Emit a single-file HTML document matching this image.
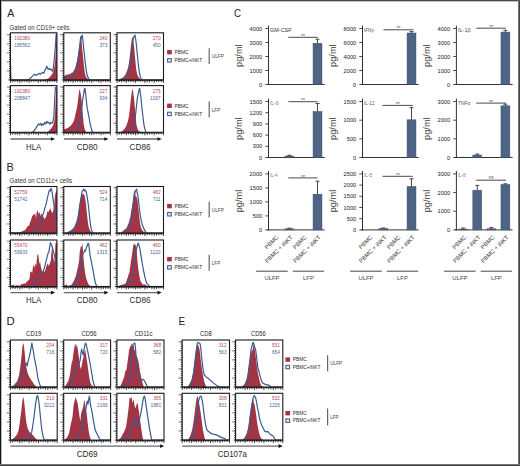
<!DOCTYPE html>
<html><head><meta charset="utf-8"><style>
html,body{margin:0;padding:0;background:#fff;}
svg{display:block;font-family:"Liberation Sans", sans-serif;}
</style></head><body>
<svg width="520" height="466" viewBox="0 0 520 466">
<rect width="520" height="466" fill="#fff"/>
<text x="7.30" y="17.20" font-size="11.5" fill="#222" textLength="7.1" lengthAdjust="spacingAndGlyphs">A</text>
<text x="6.50" y="171.30" font-size="11.4" fill="#222" textLength="7.2" lengthAdjust="spacingAndGlyphs">B</text>
<text x="234.10" y="17.40" font-size="11.4" fill="#222" textLength="7.0" lengthAdjust="spacingAndGlyphs">C</text>
<text x="6.50" y="325.10" font-size="11.4" fill="#222" textLength="8.2" lengthAdjust="spacingAndGlyphs">D</text>
<text x="178.50" y="325.10" font-size="11.4" fill="#222" textLength="6.6" lengthAdjust="spacingAndGlyphs">E</text>
<text x="9.60" y="29.70" font-size="6.5" fill="#333" textLength="59.6" lengthAdjust="spacingAndGlyphs">Gated on CD19+ cells</text>
<text x="9.60" y="183.00" font-size="6.5" fill="#333" textLength="62.4" lengthAdjust="spacingAndGlyphs">Gated on CD11c+ cells</text>
<clipPath id="c7"><rect x="10.45" y="32.80" width="46.50" height="47.10"/></clipPath>
<path d="M44.29,80.90 L44.29,80.00 L48.33,78.39 L51.35,75.36 L52.86,72.84 L54.38,67.29 L55.39,58.21 L56.19,43.09 L56.60,34.01 L57.00,33.50 L57.00,80.90 Z" fill="#a33446" stroke="none" stroke-width="1" clip-path="url(#c7)"/>
<path d="M10.50,65.27 L10.81,77.38 L11.21,80.20 L27.15,80.20 L30.17,78.39 L33.20,75.36 L34.71,74.35 L36.73,75.36 L38.74,73.34 L40.26,74.35 L42.27,72.33 L43.79,73.34 L44.80,70.32 L45.80,68.80 L46.81,66.28 L47.52,68.30 L48.33,69.31 L49.33,68.30 L50.34,69.81 L51.35,69.31 L52.36,71.33 L53.17,69.31 L53.87,63.26 L54.88,53.17 L55.59,43.09 L56.19,34.01" fill="none" stroke="#3b5b8e" stroke-width="1.2" clip-path="url(#c7)" stroke-linejoin="round"/>
<line x1="8.45" y1="79.90" x2="10.45" y2="79.90" stroke="#000" stroke-width="0.9"/>
<line x1="9.05" y1="77.64" x2="10.45" y2="77.64" stroke="#000" stroke-width="0.9"/>
<line x1="9.05" y1="75.38" x2="10.45" y2="75.38" stroke="#000" stroke-width="0.9"/>
<line x1="9.05" y1="73.11" x2="10.45" y2="73.11" stroke="#000" stroke-width="0.9"/>
<line x1="8.45" y1="70.85" x2="10.45" y2="70.85" stroke="#000" stroke-width="0.9"/>
<rect x="6.65" y="70.05" width="1.80" height="1.60" fill="#b0b0b0"/>
<line x1="9.05" y1="68.59" x2="10.45" y2="68.59" stroke="#000" stroke-width="0.9"/>
<line x1="9.05" y1="66.33" x2="10.45" y2="66.33" stroke="#000" stroke-width="0.9"/>
<line x1="9.05" y1="64.06" x2="10.45" y2="64.06" stroke="#000" stroke-width="0.9"/>
<line x1="8.45" y1="61.80" x2="10.45" y2="61.80" stroke="#000" stroke-width="0.9"/>
<rect x="6.65" y="61.00" width="1.80" height="1.60" fill="#b0b0b0"/>
<line x1="9.05" y1="59.54" x2="10.45" y2="59.54" stroke="#000" stroke-width="0.9"/>
<line x1="9.05" y1="57.28" x2="10.45" y2="57.28" stroke="#000" stroke-width="0.9"/>
<line x1="9.05" y1="55.01" x2="10.45" y2="55.01" stroke="#000" stroke-width="0.9"/>
<line x1="8.45" y1="52.75" x2="10.45" y2="52.75" stroke="#000" stroke-width="0.9"/>
<rect x="6.65" y="51.95" width="1.80" height="1.60" fill="#b0b0b0"/>
<line x1="9.05" y1="50.49" x2="10.45" y2="50.49" stroke="#000" stroke-width="0.9"/>
<line x1="9.05" y1="48.23" x2="10.45" y2="48.23" stroke="#000" stroke-width="0.9"/>
<line x1="9.05" y1="45.96" x2="10.45" y2="45.96" stroke="#000" stroke-width="0.9"/>
<line x1="8.45" y1="43.70" x2="10.45" y2="43.70" stroke="#000" stroke-width="0.9"/>
<rect x="6.65" y="42.90" width="1.80" height="1.60" fill="#b0b0b0"/>
<line x1="9.05" y1="41.44" x2="10.45" y2="41.44" stroke="#000" stroke-width="0.9"/>
<line x1="9.05" y1="39.18" x2="10.45" y2="39.18" stroke="#000" stroke-width="0.9"/>
<line x1="9.05" y1="36.91" x2="10.45" y2="36.91" stroke="#000" stroke-width="0.9"/>
<line x1="8.45" y1="34.65" x2="10.45" y2="34.65" stroke="#000" stroke-width="0.9"/>
<rect x="6.65" y="33.85" width="1.80" height="1.60" fill="#b0b0b0"/>
<rect x="10.45" y="79.90" width="46.50" height="1.20" fill="#555"/>
<line x1="10.45" y1="79.90" x2="10.45" y2="82.90" stroke="#111" stroke-width="0.8"/>
<line x1="12.77" y1="79.90" x2="12.77" y2="82.38" stroke="#111" stroke-width="0.8"/>
<line x1="15.10" y1="79.90" x2="15.10" y2="81.85" stroke="#111" stroke-width="0.8"/>
<line x1="17.42" y1="79.90" x2="17.42" y2="82.29" stroke="#111" stroke-width="0.8"/>
<line x1="19.75" y1="79.90" x2="19.75" y2="82.90" stroke="#111" stroke-width="0.8"/>
<line x1="22.07" y1="79.90" x2="22.07" y2="82.45" stroke="#111" stroke-width="0.8"/>
<line x1="24.40" y1="79.90" x2="24.40" y2="81.81" stroke="#111" stroke-width="0.8"/>
<line x1="26.72" y1="79.90" x2="26.72" y2="82.27" stroke="#111" stroke-width="0.8"/>
<line x1="29.05" y1="79.90" x2="29.05" y2="82.90" stroke="#111" stroke-width="0.8"/>
<line x1="31.38" y1="79.90" x2="31.38" y2="81.83" stroke="#111" stroke-width="0.8"/>
<line x1="33.70" y1="79.90" x2="33.70" y2="81.66" stroke="#111" stroke-width="0.8"/>
<line x1="36.02" y1="79.90" x2="36.02" y2="81.85" stroke="#111" stroke-width="0.8"/>
<line x1="38.35" y1="79.90" x2="38.35" y2="82.90" stroke="#111" stroke-width="0.8"/>
<line x1="40.67" y1="79.90" x2="40.67" y2="82.25" stroke="#111" stroke-width="0.8"/>
<line x1="43.00" y1="79.90" x2="43.00" y2="81.65" stroke="#111" stroke-width="0.8"/>
<line x1="45.33" y1="79.90" x2="45.33" y2="82.16" stroke="#111" stroke-width="0.8"/>
<line x1="47.65" y1="79.90" x2="47.65" y2="82.90" stroke="#111" stroke-width="0.8"/>
<line x1="49.97" y1="79.90" x2="49.97" y2="81.85" stroke="#111" stroke-width="0.8"/>
<line x1="52.30" y1="79.90" x2="52.30" y2="81.67" stroke="#111" stroke-width="0.8"/>
<line x1="54.62" y1="79.90" x2="54.62" y2="81.93" stroke="#111" stroke-width="0.8"/>
<line x1="56.95" y1="79.90" x2="56.95" y2="82.90" stroke="#111" stroke-width="0.8"/>
<rect x="10.45" y="32.80" width="46.50" height="47.10" fill="none" stroke="#1a1a1a" stroke-width="1.1"/>
<text x="14.25" y="39.90" font-size="5.5" fill="#b4475a" textLength="15.899999999999999" lengthAdjust="spacingAndGlyphs">192380</text>
<text x="14.25" y="46.90" font-size="5.5" fill="#4b6797" textLength="15.899999999999999" lengthAdjust="spacingAndGlyphs">185562</text>
<clipPath id="c61"><rect x="63.80" y="32.80" width="46.50" height="47.10"/></clipPath>
<path d="M63.50,80.90 L63.50,76.37 L64.13,75.99 L64.77,75.64 L65.40,75.57 L66.03,74.86 L66.63,74.80 L67.24,74.73 L67.84,74.44 L68.45,74.37 L69.05,74.15 L69.72,73.88 L70.40,73.99 L71.07,73.34 L71.74,72.86 L72.41,72.77 L73.09,71.83 L73.76,70.73 L74.43,69.49 L75.10,68.30 L75.86,66.01 L76.62,63.26 L77.27,60.70 L77.93,55.19 L78.94,48.13 L79.64,41.07 L80.15,36.03 L80.95,37.03 L81.66,43.09 L82.67,53.17 L83.68,63.26 L84.68,72.33 L85.69,76.37 L86.45,77.48 L87.21,78.39 L88.21,79.60 L88.21,80.90 Z" fill="#a33446" stroke="none" stroke-width="1" clip-path="url(#c61)"/>
<path d="M63.50,77.38 L67.03,76.87 L70.06,76.37 L73.09,74.86 L75.10,71.33 L77.12,63.26 L78.63,55.19 L79.64,48.13 L80.65,41.07 L81.66,36.03 L82.16,35.02 L82.67,38.04 L83.17,43.09 L84.18,53.17 L85.19,62.25 L86.20,70.32 L87.21,75.36 L88.72,78.89 L90.23,80.20 L110.00,80.20" fill="none" stroke="#3b5b8e" stroke-width="1.2" clip-path="url(#c61)" stroke-linejoin="round"/>
<line x1="61.80" y1="79.90" x2="63.80" y2="79.90" stroke="#000" stroke-width="0.9"/>
<line x1="62.40" y1="77.64" x2="63.80" y2="77.64" stroke="#000" stroke-width="0.9"/>
<line x1="62.40" y1="75.38" x2="63.80" y2="75.38" stroke="#000" stroke-width="0.9"/>
<line x1="62.40" y1="73.11" x2="63.80" y2="73.11" stroke="#000" stroke-width="0.9"/>
<line x1="61.80" y1="70.85" x2="63.80" y2="70.85" stroke="#000" stroke-width="0.9"/>
<rect x="60.00" y="70.05" width="1.80" height="1.60" fill="#b0b0b0"/>
<line x1="62.40" y1="68.59" x2="63.80" y2="68.59" stroke="#000" stroke-width="0.9"/>
<line x1="62.40" y1="66.33" x2="63.80" y2="66.33" stroke="#000" stroke-width="0.9"/>
<line x1="62.40" y1="64.06" x2="63.80" y2="64.06" stroke="#000" stroke-width="0.9"/>
<line x1="61.80" y1="61.80" x2="63.80" y2="61.80" stroke="#000" stroke-width="0.9"/>
<rect x="60.00" y="61.00" width="1.80" height="1.60" fill="#b0b0b0"/>
<line x1="62.40" y1="59.54" x2="63.80" y2="59.54" stroke="#000" stroke-width="0.9"/>
<line x1="62.40" y1="57.28" x2="63.80" y2="57.28" stroke="#000" stroke-width="0.9"/>
<line x1="62.40" y1="55.01" x2="63.80" y2="55.01" stroke="#000" stroke-width="0.9"/>
<line x1="61.80" y1="52.75" x2="63.80" y2="52.75" stroke="#000" stroke-width="0.9"/>
<rect x="60.00" y="51.95" width="1.80" height="1.60" fill="#b0b0b0"/>
<line x1="62.40" y1="50.49" x2="63.80" y2="50.49" stroke="#000" stroke-width="0.9"/>
<line x1="62.40" y1="48.23" x2="63.80" y2="48.23" stroke="#000" stroke-width="0.9"/>
<line x1="62.40" y1="45.96" x2="63.80" y2="45.96" stroke="#000" stroke-width="0.9"/>
<line x1="61.80" y1="43.70" x2="63.80" y2="43.70" stroke="#000" stroke-width="0.9"/>
<rect x="60.00" y="42.90" width="1.80" height="1.60" fill="#b0b0b0"/>
<line x1="62.40" y1="41.44" x2="63.80" y2="41.44" stroke="#000" stroke-width="0.9"/>
<line x1="62.40" y1="39.18" x2="63.80" y2="39.18" stroke="#000" stroke-width="0.9"/>
<line x1="62.40" y1="36.91" x2="63.80" y2="36.91" stroke="#000" stroke-width="0.9"/>
<line x1="61.80" y1="34.65" x2="63.80" y2="34.65" stroke="#000" stroke-width="0.9"/>
<rect x="60.00" y="33.85" width="1.80" height="1.60" fill="#b0b0b0"/>
<rect x="63.80" y="79.90" width="46.50" height="1.20" fill="#555"/>
<line x1="63.80" y1="79.90" x2="63.80" y2="82.90" stroke="#111" stroke-width="0.8"/>
<line x1="66.12" y1="79.90" x2="66.12" y2="82.42" stroke="#111" stroke-width="0.8"/>
<line x1="68.45" y1="79.90" x2="68.45" y2="82.38" stroke="#111" stroke-width="0.8"/>
<line x1="70.77" y1="79.90" x2="70.77" y2="82.04" stroke="#111" stroke-width="0.8"/>
<line x1="73.10" y1="79.90" x2="73.10" y2="82.90" stroke="#111" stroke-width="0.8"/>
<line x1="75.42" y1="79.90" x2="75.42" y2="82.01" stroke="#111" stroke-width="0.8"/>
<line x1="77.75" y1="79.90" x2="77.75" y2="82.15" stroke="#111" stroke-width="0.8"/>
<line x1="80.07" y1="79.90" x2="80.07" y2="82.25" stroke="#111" stroke-width="0.8"/>
<line x1="82.40" y1="79.90" x2="82.40" y2="82.90" stroke="#111" stroke-width="0.8"/>
<line x1="84.72" y1="79.90" x2="84.72" y2="82.04" stroke="#111" stroke-width="0.8"/>
<line x1="87.05" y1="79.90" x2="87.05" y2="82.28" stroke="#111" stroke-width="0.8"/>
<line x1="89.38" y1="79.90" x2="89.38" y2="82.03" stroke="#111" stroke-width="0.8"/>
<line x1="91.70" y1="79.90" x2="91.70" y2="82.90" stroke="#111" stroke-width="0.8"/>
<line x1="94.03" y1="79.90" x2="94.03" y2="81.66" stroke="#111" stroke-width="0.8"/>
<line x1="96.35" y1="79.90" x2="96.35" y2="81.58" stroke="#111" stroke-width="0.8"/>
<line x1="98.67" y1="79.90" x2="98.67" y2="82.38" stroke="#111" stroke-width="0.8"/>
<line x1="101.00" y1="79.90" x2="101.00" y2="82.90" stroke="#111" stroke-width="0.8"/>
<line x1="103.32" y1="79.90" x2="103.32" y2="81.68" stroke="#111" stroke-width="0.8"/>
<line x1="105.65" y1="79.90" x2="105.65" y2="82.15" stroke="#111" stroke-width="0.8"/>
<line x1="107.97" y1="79.90" x2="107.97" y2="82.12" stroke="#111" stroke-width="0.8"/>
<line x1="110.30" y1="79.90" x2="110.30" y2="82.90" stroke="#111" stroke-width="0.8"/>
<rect x="63.80" y="32.80" width="46.50" height="47.10" fill="none" stroke="#1a1a1a" stroke-width="1.1"/>
<text x="107.40" y="39.90" font-size="5.5" fill="#b4475a" text-anchor="end" textLength="7.949999999999999" lengthAdjust="spacingAndGlyphs">240</text>
<text x="107.40" y="46.90" font-size="5.5" fill="#4b6797" text-anchor="end" textLength="7.949999999999999" lengthAdjust="spacingAndGlyphs">373</text>
<clipPath id="c115"><rect x="117.00" y="32.80" width="46.50" height="47.10"/></clipPath>
<path d="M120.03,80.90 L120.03,78.89 L120.64,78.59 L121.24,78.38 L121.85,78.07 L122.45,77.68 L123.06,77.38 L123.69,76.63 L124.32,75.87 L124.95,75.34 L125.58,74.35 L126.25,72.87 L126.93,71.04 L127.60,69.31 L128.36,65.98 L129.11,62.25 L130.12,53.17 L131.13,44.09 L131.94,38.04 L132.64,37.03 L133.35,41.07 L134.15,47.12 L135.16,58.21 L136.17,69.31 L137.18,74.35 L137.94,76.01 L138.69,77.38 L139.37,77.99 L140.04,78.62 L140.71,79.19 L140.71,80.90 Z" fill="#a33446" stroke="none" stroke-width="1" clip-path="url(#c115)"/>
<path d="M116.50,80.20 L121.04,80.20 L124.07,78.39 L127.09,75.36 L129.11,69.31 L130.62,59.22 L131.94,48.13 L133.15,39.05 L134.15,36.03 L134.96,35.02 L135.67,39.05 L136.17,43.09 L137.18,53.17 L138.19,63.26 L139.20,71.33 L140.21,76.37 L141.72,80.20 L163.00,80.20" fill="none" stroke="#3b5b8e" stroke-width="1.2" clip-path="url(#c115)" stroke-linejoin="round"/>
<line x1="115.00" y1="79.90" x2="117.00" y2="79.90" stroke="#000" stroke-width="0.9"/>
<line x1="115.60" y1="77.64" x2="117.00" y2="77.64" stroke="#000" stroke-width="0.9"/>
<line x1="115.60" y1="75.38" x2="117.00" y2="75.38" stroke="#000" stroke-width="0.9"/>
<line x1="115.60" y1="73.11" x2="117.00" y2="73.11" stroke="#000" stroke-width="0.9"/>
<line x1="115.00" y1="70.85" x2="117.00" y2="70.85" stroke="#000" stroke-width="0.9"/>
<rect x="113.20" y="70.05" width="1.80" height="1.60" fill="#b0b0b0"/>
<line x1="115.60" y1="68.59" x2="117.00" y2="68.59" stroke="#000" stroke-width="0.9"/>
<line x1="115.60" y1="66.33" x2="117.00" y2="66.33" stroke="#000" stroke-width="0.9"/>
<line x1="115.60" y1="64.06" x2="117.00" y2="64.06" stroke="#000" stroke-width="0.9"/>
<line x1="115.00" y1="61.80" x2="117.00" y2="61.80" stroke="#000" stroke-width="0.9"/>
<rect x="113.20" y="61.00" width="1.80" height="1.60" fill="#b0b0b0"/>
<line x1="115.60" y1="59.54" x2="117.00" y2="59.54" stroke="#000" stroke-width="0.9"/>
<line x1="115.60" y1="57.28" x2="117.00" y2="57.28" stroke="#000" stroke-width="0.9"/>
<line x1="115.60" y1="55.01" x2="117.00" y2="55.01" stroke="#000" stroke-width="0.9"/>
<line x1="115.00" y1="52.75" x2="117.00" y2="52.75" stroke="#000" stroke-width="0.9"/>
<rect x="113.20" y="51.95" width="1.80" height="1.60" fill="#b0b0b0"/>
<line x1="115.60" y1="50.49" x2="117.00" y2="50.49" stroke="#000" stroke-width="0.9"/>
<line x1="115.60" y1="48.23" x2="117.00" y2="48.23" stroke="#000" stroke-width="0.9"/>
<line x1="115.60" y1="45.96" x2="117.00" y2="45.96" stroke="#000" stroke-width="0.9"/>
<line x1="115.00" y1="43.70" x2="117.00" y2="43.70" stroke="#000" stroke-width="0.9"/>
<rect x="113.20" y="42.90" width="1.80" height="1.60" fill="#b0b0b0"/>
<line x1="115.60" y1="41.44" x2="117.00" y2="41.44" stroke="#000" stroke-width="0.9"/>
<line x1="115.60" y1="39.18" x2="117.00" y2="39.18" stroke="#000" stroke-width="0.9"/>
<line x1="115.60" y1="36.91" x2="117.00" y2="36.91" stroke="#000" stroke-width="0.9"/>
<line x1="115.00" y1="34.65" x2="117.00" y2="34.65" stroke="#000" stroke-width="0.9"/>
<rect x="113.20" y="33.85" width="1.80" height="1.60" fill="#b0b0b0"/>
<rect x="117.00" y="79.90" width="46.50" height="1.20" fill="#555"/>
<line x1="117.00" y1="79.90" x2="117.00" y2="82.90" stroke="#111" stroke-width="0.8"/>
<line x1="119.33" y1="79.90" x2="119.33" y2="82.08" stroke="#111" stroke-width="0.8"/>
<line x1="121.65" y1="79.90" x2="121.65" y2="82.20" stroke="#111" stroke-width="0.8"/>
<line x1="123.97" y1="79.90" x2="123.97" y2="81.96" stroke="#111" stroke-width="0.8"/>
<line x1="126.30" y1="79.90" x2="126.30" y2="82.90" stroke="#111" stroke-width="0.8"/>
<line x1="128.62" y1="79.90" x2="128.62" y2="81.92" stroke="#111" stroke-width="0.8"/>
<line x1="130.95" y1="79.90" x2="130.95" y2="82.15" stroke="#111" stroke-width="0.8"/>
<line x1="133.28" y1="79.90" x2="133.28" y2="82.33" stroke="#111" stroke-width="0.8"/>
<line x1="135.60" y1="79.90" x2="135.60" y2="82.90" stroke="#111" stroke-width="0.8"/>
<line x1="137.93" y1="79.90" x2="137.93" y2="81.72" stroke="#111" stroke-width="0.8"/>
<line x1="140.25" y1="79.90" x2="140.25" y2="81.67" stroke="#111" stroke-width="0.8"/>
<line x1="142.57" y1="79.90" x2="142.57" y2="81.55" stroke="#111" stroke-width="0.8"/>
<line x1="144.90" y1="79.90" x2="144.90" y2="82.90" stroke="#111" stroke-width="0.8"/>
<line x1="147.22" y1="79.90" x2="147.22" y2="82.30" stroke="#111" stroke-width="0.8"/>
<line x1="149.55" y1="79.90" x2="149.55" y2="82.46" stroke="#111" stroke-width="0.8"/>
<line x1="151.88" y1="79.90" x2="151.88" y2="81.53" stroke="#111" stroke-width="0.8"/>
<line x1="154.20" y1="79.90" x2="154.20" y2="82.90" stroke="#111" stroke-width="0.8"/>
<line x1="156.53" y1="79.90" x2="156.53" y2="81.99" stroke="#111" stroke-width="0.8"/>
<line x1="158.85" y1="79.90" x2="158.85" y2="82.01" stroke="#111" stroke-width="0.8"/>
<line x1="161.18" y1="79.90" x2="161.18" y2="82.22" stroke="#111" stroke-width="0.8"/>
<line x1="163.50" y1="79.90" x2="163.50" y2="82.90" stroke="#111" stroke-width="0.8"/>
<rect x="117.00" y="32.80" width="46.50" height="47.10" fill="none" stroke="#1a1a1a" stroke-width="1.1"/>
<text x="160.60" y="39.90" font-size="5.5" fill="#b4475a" text-anchor="end" textLength="7.949999999999999" lengthAdjust="spacingAndGlyphs">270</text>
<text x="160.60" y="46.90" font-size="5.5" fill="#4b6797" text-anchor="end" textLength="7.949999999999999" lengthAdjust="spacingAndGlyphs">450</text>
<clipPath id="c169"><rect x="10.45" y="85.60" width="46.50" height="46.70"/></clipPath>
<path d="M44.29,133.30 L44.29,133.00 L48.33,131.39 L51.35,128.36 L53.17,125.33 L54.38,120.29 L55.18,111.21 L55.89,96.09 L56.39,87.01 L57.00,86.50 L57.00,133.30 Z" fill="#a33446" stroke="none" stroke-width="1" clip-path="url(#c169)"/>
<path d="M10.50,133.20 L32.19,133.20 L34.21,130.38 L35.72,128.36 L37.23,125.84 L38.74,123.82 L39.75,124.83 L40.76,123.32 L41.77,125.84 L42.78,123.82 L43.79,124.83 L44.80,122.31 L45.80,123.82 L46.81,121.30 L47.82,122.81 L48.83,122.31 L49.84,124.33 L50.85,122.31 L51.86,123.32 L52.86,121.80 L53.87,116.26 L54.38,106.17 L54.88,96.09 L55.39,87.01" fill="none" stroke="#3b5b8e" stroke-width="1.2" clip-path="url(#c169)" stroke-linejoin="round"/>
<line x1="8.45" y1="132.30" x2="10.45" y2="132.30" stroke="#000" stroke-width="0.9"/>
<line x1="9.05" y1="130.04" x2="10.45" y2="130.04" stroke="#000" stroke-width="0.9"/>
<line x1="9.05" y1="127.78" x2="10.45" y2="127.78" stroke="#000" stroke-width="0.9"/>
<line x1="9.05" y1="125.51" x2="10.45" y2="125.51" stroke="#000" stroke-width="0.9"/>
<line x1="8.45" y1="123.25" x2="10.45" y2="123.25" stroke="#000" stroke-width="0.9"/>
<rect x="6.65" y="122.45" width="1.80" height="1.60" fill="#b0b0b0"/>
<line x1="9.05" y1="120.99" x2="10.45" y2="120.99" stroke="#000" stroke-width="0.9"/>
<line x1="9.05" y1="118.73" x2="10.45" y2="118.73" stroke="#000" stroke-width="0.9"/>
<line x1="9.05" y1="116.46" x2="10.45" y2="116.46" stroke="#000" stroke-width="0.9"/>
<line x1="8.45" y1="114.20" x2="10.45" y2="114.20" stroke="#000" stroke-width="0.9"/>
<rect x="6.65" y="113.40" width="1.80" height="1.60" fill="#b0b0b0"/>
<line x1="9.05" y1="111.94" x2="10.45" y2="111.94" stroke="#000" stroke-width="0.9"/>
<line x1="9.05" y1="109.68" x2="10.45" y2="109.68" stroke="#000" stroke-width="0.9"/>
<line x1="9.05" y1="107.41" x2="10.45" y2="107.41" stroke="#000" stroke-width="0.9"/>
<line x1="8.45" y1="105.15" x2="10.45" y2="105.15" stroke="#000" stroke-width="0.9"/>
<rect x="6.65" y="104.35" width="1.80" height="1.60" fill="#b0b0b0"/>
<line x1="9.05" y1="102.89" x2="10.45" y2="102.89" stroke="#000" stroke-width="0.9"/>
<line x1="9.05" y1="100.62" x2="10.45" y2="100.62" stroke="#000" stroke-width="0.9"/>
<line x1="9.05" y1="98.36" x2="10.45" y2="98.36" stroke="#000" stroke-width="0.9"/>
<line x1="8.45" y1="96.10" x2="10.45" y2="96.10" stroke="#000" stroke-width="0.9"/>
<rect x="6.65" y="95.30" width="1.80" height="1.60" fill="#b0b0b0"/>
<line x1="9.05" y1="93.84" x2="10.45" y2="93.84" stroke="#000" stroke-width="0.9"/>
<line x1="9.05" y1="91.58" x2="10.45" y2="91.58" stroke="#000" stroke-width="0.9"/>
<line x1="9.05" y1="89.31" x2="10.45" y2="89.31" stroke="#000" stroke-width="0.9"/>
<line x1="8.45" y1="87.05" x2="10.45" y2="87.05" stroke="#000" stroke-width="0.9"/>
<rect x="6.65" y="86.25" width="1.80" height="1.60" fill="#b0b0b0"/>
<rect x="10.45" y="132.30" width="46.50" height="1.20" fill="#555"/>
<line x1="10.45" y1="132.30" x2="10.45" y2="135.30" stroke="#111" stroke-width="0.8"/>
<line x1="12.77" y1="132.30" x2="12.77" y2="134.58" stroke="#111" stroke-width="0.8"/>
<line x1="15.10" y1="132.30" x2="15.10" y2="134.90" stroke="#111" stroke-width="0.8"/>
<line x1="17.42" y1="132.30" x2="17.42" y2="134.83" stroke="#111" stroke-width="0.8"/>
<line x1="19.75" y1="132.30" x2="19.75" y2="135.30" stroke="#111" stroke-width="0.8"/>
<line x1="22.07" y1="132.30" x2="22.07" y2="134.00" stroke="#111" stroke-width="0.8"/>
<line x1="24.40" y1="132.30" x2="24.40" y2="134.32" stroke="#111" stroke-width="0.8"/>
<line x1="26.72" y1="132.30" x2="26.72" y2="134.67" stroke="#111" stroke-width="0.8"/>
<line x1="29.05" y1="132.30" x2="29.05" y2="135.30" stroke="#111" stroke-width="0.8"/>
<line x1="31.38" y1="132.30" x2="31.38" y2="134.23" stroke="#111" stroke-width="0.8"/>
<line x1="33.70" y1="132.30" x2="33.70" y2="134.53" stroke="#111" stroke-width="0.8"/>
<line x1="36.02" y1="132.30" x2="36.02" y2="134.54" stroke="#111" stroke-width="0.8"/>
<line x1="38.35" y1="132.30" x2="38.35" y2="135.30" stroke="#111" stroke-width="0.8"/>
<line x1="40.67" y1="132.30" x2="40.67" y2="133.96" stroke="#111" stroke-width="0.8"/>
<line x1="43.00" y1="132.30" x2="43.00" y2="134.01" stroke="#111" stroke-width="0.8"/>
<line x1="45.33" y1="132.30" x2="45.33" y2="134.46" stroke="#111" stroke-width="0.8"/>
<line x1="47.65" y1="132.30" x2="47.65" y2="135.30" stroke="#111" stroke-width="0.8"/>
<line x1="49.97" y1="132.30" x2="49.97" y2="133.95" stroke="#111" stroke-width="0.8"/>
<line x1="52.30" y1="132.30" x2="52.30" y2="133.98" stroke="#111" stroke-width="0.8"/>
<line x1="54.62" y1="132.30" x2="54.62" y2="134.50" stroke="#111" stroke-width="0.8"/>
<line x1="56.95" y1="132.30" x2="56.95" y2="135.30" stroke="#111" stroke-width="0.8"/>
<rect x="10.45" y="85.60" width="46.50" height="46.70" fill="none" stroke="#1a1a1a" stroke-width="1.1"/>
<text x="14.25" y="92.70" font-size="5.5" fill="#b4475a" textLength="15.899999999999999" lengthAdjust="spacingAndGlyphs">192380</text>
<text x="14.25" y="99.70" font-size="5.5" fill="#4b6797" textLength="15.899999999999999" lengthAdjust="spacingAndGlyphs">208847</text>
<clipPath id="c223"><rect x="63.80" y="85.60" width="46.50" height="46.70"/></clipPath>
<path d="M63.50,133.30 L63.50,129.37 L64.09,129.20 L64.68,129.21 L65.27,129.03 L65.86,128.70 L66.45,128.54 L67.03,128.36 L67.64,127.97 L68.24,127.78 L68.85,127.29 L69.45,126.78 L70.06,126.34 L70.69,125.68 L71.32,125.11 L71.95,124.09 L72.58,123.32 L73.25,121.93 L73.93,120.43 L74.60,118.27 L75.36,114.76 L76.11,111.21 L76.87,108.19 L77.62,103.15 L78.63,95.08 L79.34,89.03 L80.15,91.04 L81.15,96.09 L82.16,106.17 L82.97,116.26 L83.68,124.33 L84.68,129.37 L85.44,130.72 L86.20,131.89 L86.95,132.24 L87.71,132.60 L87.71,133.30 Z" fill="#a33446" stroke="none" stroke-width="1" clip-path="url(#c223)"/>
<path d="M63.50,133.20 L69.05,133.20 L73.09,131.89 L76.11,130.38 L78.13,127.35 L79.64,123.32 L80.65,116.26 L81.66,108.19 L82.67,100.12 L83.68,94.07 L84.38,89.03 L84.99,88.52 L85.69,94.07 L86.40,101.13 L87.21,108.19 L88.21,113.23 L89.02,117.27 L90.03,123.32 L91.04,127.35 L92.05,130.88 L93.26,133.20 L110.00,133.20" fill="none" stroke="#3b5b8e" stroke-width="1.2" clip-path="url(#c223)" stroke-linejoin="round"/>
<line x1="61.80" y1="132.30" x2="63.80" y2="132.30" stroke="#000" stroke-width="0.9"/>
<line x1="62.40" y1="130.04" x2="63.80" y2="130.04" stroke="#000" stroke-width="0.9"/>
<line x1="62.40" y1="127.78" x2="63.80" y2="127.78" stroke="#000" stroke-width="0.9"/>
<line x1="62.40" y1="125.51" x2="63.80" y2="125.51" stroke="#000" stroke-width="0.9"/>
<line x1="61.80" y1="123.25" x2="63.80" y2="123.25" stroke="#000" stroke-width="0.9"/>
<rect x="60.00" y="122.45" width="1.80" height="1.60" fill="#b0b0b0"/>
<line x1="62.40" y1="120.99" x2="63.80" y2="120.99" stroke="#000" stroke-width="0.9"/>
<line x1="62.40" y1="118.73" x2="63.80" y2="118.73" stroke="#000" stroke-width="0.9"/>
<line x1="62.40" y1="116.46" x2="63.80" y2="116.46" stroke="#000" stroke-width="0.9"/>
<line x1="61.80" y1="114.20" x2="63.80" y2="114.20" stroke="#000" stroke-width="0.9"/>
<rect x="60.00" y="113.40" width="1.80" height="1.60" fill="#b0b0b0"/>
<line x1="62.40" y1="111.94" x2="63.80" y2="111.94" stroke="#000" stroke-width="0.9"/>
<line x1="62.40" y1="109.68" x2="63.80" y2="109.68" stroke="#000" stroke-width="0.9"/>
<line x1="62.40" y1="107.41" x2="63.80" y2="107.41" stroke="#000" stroke-width="0.9"/>
<line x1="61.80" y1="105.15" x2="63.80" y2="105.15" stroke="#000" stroke-width="0.9"/>
<rect x="60.00" y="104.35" width="1.80" height="1.60" fill="#b0b0b0"/>
<line x1="62.40" y1="102.89" x2="63.80" y2="102.89" stroke="#000" stroke-width="0.9"/>
<line x1="62.40" y1="100.62" x2="63.80" y2="100.62" stroke="#000" stroke-width="0.9"/>
<line x1="62.40" y1="98.36" x2="63.80" y2="98.36" stroke="#000" stroke-width="0.9"/>
<line x1="61.80" y1="96.10" x2="63.80" y2="96.10" stroke="#000" stroke-width="0.9"/>
<rect x="60.00" y="95.30" width="1.80" height="1.60" fill="#b0b0b0"/>
<line x1="62.40" y1="93.84" x2="63.80" y2="93.84" stroke="#000" stroke-width="0.9"/>
<line x1="62.40" y1="91.58" x2="63.80" y2="91.58" stroke="#000" stroke-width="0.9"/>
<line x1="62.40" y1="89.31" x2="63.80" y2="89.31" stroke="#000" stroke-width="0.9"/>
<line x1="61.80" y1="87.05" x2="63.80" y2="87.05" stroke="#000" stroke-width="0.9"/>
<rect x="60.00" y="86.25" width="1.80" height="1.60" fill="#b0b0b0"/>
<rect x="63.80" y="132.30" width="46.50" height="1.20" fill="#555"/>
<line x1="63.80" y1="132.30" x2="63.80" y2="135.30" stroke="#111" stroke-width="0.8"/>
<line x1="66.12" y1="132.30" x2="66.12" y2="134.11" stroke="#111" stroke-width="0.8"/>
<line x1="68.45" y1="132.30" x2="68.45" y2="134.52" stroke="#111" stroke-width="0.8"/>
<line x1="70.77" y1="132.30" x2="70.77" y2="133.99" stroke="#111" stroke-width="0.8"/>
<line x1="73.10" y1="132.30" x2="73.10" y2="135.30" stroke="#111" stroke-width="0.8"/>
<line x1="75.42" y1="132.30" x2="75.42" y2="134.39" stroke="#111" stroke-width="0.8"/>
<line x1="77.75" y1="132.30" x2="77.75" y2="134.61" stroke="#111" stroke-width="0.8"/>
<line x1="80.07" y1="132.30" x2="80.07" y2="134.81" stroke="#111" stroke-width="0.8"/>
<line x1="82.40" y1="132.30" x2="82.40" y2="135.30" stroke="#111" stroke-width="0.8"/>
<line x1="84.72" y1="132.30" x2="84.72" y2="134.55" stroke="#111" stroke-width="0.8"/>
<line x1="87.05" y1="132.30" x2="87.05" y2="134.04" stroke="#111" stroke-width="0.8"/>
<line x1="89.38" y1="132.30" x2="89.38" y2="134.89" stroke="#111" stroke-width="0.8"/>
<line x1="91.70" y1="132.30" x2="91.70" y2="135.30" stroke="#111" stroke-width="0.8"/>
<line x1="94.03" y1="132.30" x2="94.03" y2="134.74" stroke="#111" stroke-width="0.8"/>
<line x1="96.35" y1="132.30" x2="96.35" y2="134.15" stroke="#111" stroke-width="0.8"/>
<line x1="98.67" y1="132.30" x2="98.67" y2="134.26" stroke="#111" stroke-width="0.8"/>
<line x1="101.00" y1="132.30" x2="101.00" y2="135.30" stroke="#111" stroke-width="0.8"/>
<line x1="103.32" y1="132.30" x2="103.32" y2="134.49" stroke="#111" stroke-width="0.8"/>
<line x1="105.65" y1="132.30" x2="105.65" y2="134.27" stroke="#111" stroke-width="0.8"/>
<line x1="107.97" y1="132.30" x2="107.97" y2="134.09" stroke="#111" stroke-width="0.8"/>
<line x1="110.30" y1="132.30" x2="110.30" y2="135.30" stroke="#111" stroke-width="0.8"/>
<rect x="63.80" y="85.60" width="46.50" height="46.70" fill="none" stroke="#1a1a1a" stroke-width="1.1"/>
<text x="107.40" y="92.70" font-size="5.5" fill="#b4475a" text-anchor="end" textLength="7.949999999999999" lengthAdjust="spacingAndGlyphs">227</text>
<text x="107.40" y="99.70" font-size="5.5" fill="#4b6797" text-anchor="end" textLength="7.949999999999999" lengthAdjust="spacingAndGlyphs">934</text>
<clipPath id="c277"><rect x="117.00" y="85.60" width="46.50" height="46.70"/></clipPath>
<path d="M120.03,133.30 L120.03,132.60 L120.64,132.15 L121.24,131.71 L121.85,131.29 L122.45,130.84 L123.06,130.38 L123.69,129.64 L124.32,128.87 L124.95,128.25 L125.58,127.35 L126.25,126.02 L126.93,124.03 L127.60,122.31 L128.36,119.30 L129.11,115.25 L130.12,106.17 L131.13,97.09 L131.94,91.04 L132.44,88.52 L133.15,92.05 L133.95,98.10 L134.96,108.19 L135.67,117.27 L136.37,124.33 L137.38,128.36 L138.04,129.76 L138.69,130.88 L139.37,131.42 L140.04,131.89 L140.71,132.39 L140.71,133.30 Z" fill="#a33446" stroke="none" stroke-width="1" clip-path="url(#c277)"/>
<path d="M116.50,133.20 L127.09,133.20 L130.12,131.39 L132.64,128.36 L134.15,124.33 L135.16,118.27 L136.17,109.20 L136.98,101.13 L137.68,96.09 L138.39,93.06 L139.20,89.03 L139.70,88.52 L140.21,92.05 L141.01,98.10 L141.72,106.17 L142.42,112.22 L143.23,119.28 L144.04,125.33 L145.25,130.38 L146.26,133.20 L163.00,133.20" fill="none" stroke="#3b5b8e" stroke-width="1.2" clip-path="url(#c277)" stroke-linejoin="round"/>
<line x1="115.00" y1="132.30" x2="117.00" y2="132.30" stroke="#000" stroke-width="0.9"/>
<line x1="115.60" y1="130.04" x2="117.00" y2="130.04" stroke="#000" stroke-width="0.9"/>
<line x1="115.60" y1="127.78" x2="117.00" y2="127.78" stroke="#000" stroke-width="0.9"/>
<line x1="115.60" y1="125.51" x2="117.00" y2="125.51" stroke="#000" stroke-width="0.9"/>
<line x1="115.00" y1="123.25" x2="117.00" y2="123.25" stroke="#000" stroke-width="0.9"/>
<rect x="113.20" y="122.45" width="1.80" height="1.60" fill="#b0b0b0"/>
<line x1="115.60" y1="120.99" x2="117.00" y2="120.99" stroke="#000" stroke-width="0.9"/>
<line x1="115.60" y1="118.73" x2="117.00" y2="118.73" stroke="#000" stroke-width="0.9"/>
<line x1="115.60" y1="116.46" x2="117.00" y2="116.46" stroke="#000" stroke-width="0.9"/>
<line x1="115.00" y1="114.20" x2="117.00" y2="114.20" stroke="#000" stroke-width="0.9"/>
<rect x="113.20" y="113.40" width="1.80" height="1.60" fill="#b0b0b0"/>
<line x1="115.60" y1="111.94" x2="117.00" y2="111.94" stroke="#000" stroke-width="0.9"/>
<line x1="115.60" y1="109.68" x2="117.00" y2="109.68" stroke="#000" stroke-width="0.9"/>
<line x1="115.60" y1="107.41" x2="117.00" y2="107.41" stroke="#000" stroke-width="0.9"/>
<line x1="115.00" y1="105.15" x2="117.00" y2="105.15" stroke="#000" stroke-width="0.9"/>
<rect x="113.20" y="104.35" width="1.80" height="1.60" fill="#b0b0b0"/>
<line x1="115.60" y1="102.89" x2="117.00" y2="102.89" stroke="#000" stroke-width="0.9"/>
<line x1="115.60" y1="100.62" x2="117.00" y2="100.62" stroke="#000" stroke-width="0.9"/>
<line x1="115.60" y1="98.36" x2="117.00" y2="98.36" stroke="#000" stroke-width="0.9"/>
<line x1="115.00" y1="96.10" x2="117.00" y2="96.10" stroke="#000" stroke-width="0.9"/>
<rect x="113.20" y="95.30" width="1.80" height="1.60" fill="#b0b0b0"/>
<line x1="115.60" y1="93.84" x2="117.00" y2="93.84" stroke="#000" stroke-width="0.9"/>
<line x1="115.60" y1="91.58" x2="117.00" y2="91.58" stroke="#000" stroke-width="0.9"/>
<line x1="115.60" y1="89.31" x2="117.00" y2="89.31" stroke="#000" stroke-width="0.9"/>
<line x1="115.00" y1="87.05" x2="117.00" y2="87.05" stroke="#000" stroke-width="0.9"/>
<rect x="113.20" y="86.25" width="1.80" height="1.60" fill="#b0b0b0"/>
<rect x="117.00" y="132.30" width="46.50" height="1.20" fill="#555"/>
<line x1="117.00" y1="132.30" x2="117.00" y2="135.30" stroke="#111" stroke-width="0.8"/>
<line x1="119.33" y1="132.30" x2="119.33" y2="134.61" stroke="#111" stroke-width="0.8"/>
<line x1="121.65" y1="132.30" x2="121.65" y2="134.80" stroke="#111" stroke-width="0.8"/>
<line x1="123.97" y1="132.30" x2="123.97" y2="134.18" stroke="#111" stroke-width="0.8"/>
<line x1="126.30" y1="132.30" x2="126.30" y2="135.30" stroke="#111" stroke-width="0.8"/>
<line x1="128.62" y1="132.30" x2="128.62" y2="134.30" stroke="#111" stroke-width="0.8"/>
<line x1="130.95" y1="132.30" x2="130.95" y2="134.80" stroke="#111" stroke-width="0.8"/>
<line x1="133.28" y1="132.30" x2="133.28" y2="134.89" stroke="#111" stroke-width="0.8"/>
<line x1="135.60" y1="132.30" x2="135.60" y2="135.30" stroke="#111" stroke-width="0.8"/>
<line x1="137.93" y1="132.30" x2="137.93" y2="134.73" stroke="#111" stroke-width="0.8"/>
<line x1="140.25" y1="132.30" x2="140.25" y2="133.95" stroke="#111" stroke-width="0.8"/>
<line x1="142.57" y1="132.30" x2="142.57" y2="134.39" stroke="#111" stroke-width="0.8"/>
<line x1="144.90" y1="132.30" x2="144.90" y2="135.30" stroke="#111" stroke-width="0.8"/>
<line x1="147.22" y1="132.30" x2="147.22" y2="134.88" stroke="#111" stroke-width="0.8"/>
<line x1="149.55" y1="132.30" x2="149.55" y2="134.41" stroke="#111" stroke-width="0.8"/>
<line x1="151.88" y1="132.30" x2="151.88" y2="134.39" stroke="#111" stroke-width="0.8"/>
<line x1="154.20" y1="132.30" x2="154.20" y2="135.30" stroke="#111" stroke-width="0.8"/>
<line x1="156.53" y1="132.30" x2="156.53" y2="134.28" stroke="#111" stroke-width="0.8"/>
<line x1="158.85" y1="132.30" x2="158.85" y2="134.38" stroke="#111" stroke-width="0.8"/>
<line x1="161.18" y1="132.30" x2="161.18" y2="134.22" stroke="#111" stroke-width="0.8"/>
<line x1="163.50" y1="132.30" x2="163.50" y2="135.30" stroke="#111" stroke-width="0.8"/>
<rect x="117.00" y="85.60" width="46.50" height="46.70" fill="none" stroke="#1a1a1a" stroke-width="1.1"/>
<text x="160.60" y="92.70" font-size="5.5" fill="#b4475a" text-anchor="end" textLength="7.949999999999999" lengthAdjust="spacingAndGlyphs">275</text>
<text x="160.60" y="99.70" font-size="5.5" fill="#4b6797" text-anchor="end" textLength="10.6" lengthAdjust="spacingAndGlyphs">1197</text>
<clipPath id="c331"><rect x="10.45" y="186.50" width="46.50" height="46.50"/></clipPath>
<path d="M11.01,234.00 L11.01,232.60 L11.60,232.58 L12.19,232.56 L12.77,232.55 L13.36,232.53 L13.95,232.51 L14.54,232.50 L15.13,232.50 L15.72,232.63 L16.30,232.49 L16.89,232.50 L17.48,232.41 L18.07,232.39 L18.65,232.30 L19.22,232.11 L19.80,232.23 L20.37,231.83 L20.95,232.01 L21.53,231.58 L22.10,231.39 L22.71,230.99 L23.31,230.75 L23.92,231.06 L24.52,230.34 L25.13,229.37 L25.76,229.71 L26.39,227.88 L27.02,227.12 L27.65,226.34 L28.32,225.70 L28.99,226.14 L29.67,223.32 L30.42,221.63 L31.18,219.28 L32.19,216.26 L32.95,215.26 L33.70,214.24 L34.46,214.51 L35.21,213.23 L35.97,218.40 L36.73,212.22 L37.74,210.21 L38.74,214.24 L39.75,212.22 L40.76,216.26 L41.77,213.23 L42.78,216.26 L43.79,217.27 L44.54,219.37 L45.30,218.27 L46.31,216.26 L47.32,211.21 L48.33,212.22 L49.33,210.21 L50.34,208.19 L51.35,211.21 L52.36,213.23 L53.37,210.21 L53.87,206.17 L54.38,203.15 L54.88,196.09 L55.89,192.05 L56.60,191.04 L57.00,191.04 L57.00,234.00 Z" fill="#a33446" stroke="none" stroke-width="1" clip-path="url(#c331)"/>
<path d="M10.50,233.20 L20.09,233.20 L30.17,233.20 L34.21,231.89 L36.22,229.37 L38.24,226.34 L39.75,223.32 L41.27,219.28 L42.27,216.26 L43.79,212.22 L44.80,208.19 L45.80,205.16 L46.81,201.13 L47.82,196.09 L48.83,192.05 L49.54,190.03 L50.14,191.04 L50.65,189.03 L51.35,188.52 L51.86,191.04 L52.56,195.08 L53.37,201.13 L54.18,206.17 L54.88,211.21 L55.59,216.26 L56.19,218.27 L57.00,219.28" fill="none" stroke="#3b5b8e" stroke-width="1.2" clip-path="url(#c331)" stroke-linejoin="round"/>
<line x1="8.45" y1="233.00" x2="10.45" y2="233.00" stroke="#000" stroke-width="0.9"/>
<line x1="9.05" y1="230.74" x2="10.45" y2="230.74" stroke="#000" stroke-width="0.9"/>
<line x1="9.05" y1="228.47" x2="10.45" y2="228.47" stroke="#000" stroke-width="0.9"/>
<line x1="9.05" y1="226.21" x2="10.45" y2="226.21" stroke="#000" stroke-width="0.9"/>
<line x1="8.45" y1="223.95" x2="10.45" y2="223.95" stroke="#000" stroke-width="0.9"/>
<rect x="6.65" y="223.15" width="1.80" height="1.60" fill="#b0b0b0"/>
<line x1="9.05" y1="221.69" x2="10.45" y2="221.69" stroke="#000" stroke-width="0.9"/>
<line x1="9.05" y1="219.43" x2="10.45" y2="219.43" stroke="#000" stroke-width="0.9"/>
<line x1="9.05" y1="217.16" x2="10.45" y2="217.16" stroke="#000" stroke-width="0.9"/>
<line x1="8.45" y1="214.90" x2="10.45" y2="214.90" stroke="#000" stroke-width="0.9"/>
<rect x="6.65" y="214.10" width="1.80" height="1.60" fill="#b0b0b0"/>
<line x1="9.05" y1="212.64" x2="10.45" y2="212.64" stroke="#000" stroke-width="0.9"/>
<line x1="9.05" y1="210.38" x2="10.45" y2="210.38" stroke="#000" stroke-width="0.9"/>
<line x1="9.05" y1="208.11" x2="10.45" y2="208.11" stroke="#000" stroke-width="0.9"/>
<line x1="8.45" y1="205.85" x2="10.45" y2="205.85" stroke="#000" stroke-width="0.9"/>
<rect x="6.65" y="205.05" width="1.80" height="1.60" fill="#b0b0b0"/>
<line x1="9.05" y1="203.59" x2="10.45" y2="203.59" stroke="#000" stroke-width="0.9"/>
<line x1="9.05" y1="201.32" x2="10.45" y2="201.32" stroke="#000" stroke-width="0.9"/>
<line x1="9.05" y1="199.06" x2="10.45" y2="199.06" stroke="#000" stroke-width="0.9"/>
<line x1="8.45" y1="196.80" x2="10.45" y2="196.80" stroke="#000" stroke-width="0.9"/>
<rect x="6.65" y="196.00" width="1.80" height="1.60" fill="#b0b0b0"/>
<line x1="9.05" y1="194.54" x2="10.45" y2="194.54" stroke="#000" stroke-width="0.9"/>
<line x1="9.05" y1="192.28" x2="10.45" y2="192.28" stroke="#000" stroke-width="0.9"/>
<line x1="9.05" y1="190.01" x2="10.45" y2="190.01" stroke="#000" stroke-width="0.9"/>
<line x1="8.45" y1="187.75" x2="10.45" y2="187.75" stroke="#000" stroke-width="0.9"/>
<rect x="6.65" y="186.95" width="1.80" height="1.60" fill="#b0b0b0"/>
<rect x="10.45" y="233.00" width="46.50" height="1.20" fill="#555"/>
<line x1="10.45" y1="233.00" x2="10.45" y2="236.00" stroke="#111" stroke-width="0.8"/>
<line x1="12.77" y1="233.00" x2="12.77" y2="234.64" stroke="#111" stroke-width="0.8"/>
<line x1="15.10" y1="233.00" x2="15.10" y2="235.15" stroke="#111" stroke-width="0.8"/>
<line x1="17.42" y1="233.00" x2="17.42" y2="235.04" stroke="#111" stroke-width="0.8"/>
<line x1="19.75" y1="233.00" x2="19.75" y2="236.00" stroke="#111" stroke-width="0.8"/>
<line x1="22.07" y1="233.00" x2="22.07" y2="235.52" stroke="#111" stroke-width="0.8"/>
<line x1="24.40" y1="233.00" x2="24.40" y2="235.25" stroke="#111" stroke-width="0.8"/>
<line x1="26.72" y1="233.00" x2="26.72" y2="234.83" stroke="#111" stroke-width="0.8"/>
<line x1="29.05" y1="233.00" x2="29.05" y2="236.00" stroke="#111" stroke-width="0.8"/>
<line x1="31.38" y1="233.00" x2="31.38" y2="234.68" stroke="#111" stroke-width="0.8"/>
<line x1="33.70" y1="233.00" x2="33.70" y2="235.38" stroke="#111" stroke-width="0.8"/>
<line x1="36.02" y1="233.00" x2="36.02" y2="235.12" stroke="#111" stroke-width="0.8"/>
<line x1="38.35" y1="233.00" x2="38.35" y2="236.00" stroke="#111" stroke-width="0.8"/>
<line x1="40.67" y1="233.00" x2="40.67" y2="235.38" stroke="#111" stroke-width="0.8"/>
<line x1="43.00" y1="233.00" x2="43.00" y2="235.50" stroke="#111" stroke-width="0.8"/>
<line x1="45.33" y1="233.00" x2="45.33" y2="235.17" stroke="#111" stroke-width="0.8"/>
<line x1="47.65" y1="233.00" x2="47.65" y2="236.00" stroke="#111" stroke-width="0.8"/>
<line x1="49.97" y1="233.00" x2="49.97" y2="235.39" stroke="#111" stroke-width="0.8"/>
<line x1="52.30" y1="233.00" x2="52.30" y2="234.73" stroke="#111" stroke-width="0.8"/>
<line x1="54.62" y1="233.00" x2="54.62" y2="234.70" stroke="#111" stroke-width="0.8"/>
<line x1="56.95" y1="233.00" x2="56.95" y2="236.00" stroke="#111" stroke-width="0.8"/>
<rect x="10.45" y="186.50" width="46.50" height="46.50" fill="none" stroke="#1a1a1a" stroke-width="1.1"/>
<text x="14.25" y="193.60" font-size="5.5" fill="#b4475a" textLength="13.25" lengthAdjust="spacingAndGlyphs">52759</text>
<text x="14.25" y="200.60" font-size="5.5" fill="#4b6797" textLength="13.25" lengthAdjust="spacingAndGlyphs">51742</text>
<clipPath id="c385"><rect x="63.80" y="186.50" width="46.50" height="46.50"/></clipPath>
<path d="M68.04,234.00 L68.04,232.60 L68.65,232.25 L69.25,232.03 L69.86,231.70 L70.46,231.23 L71.07,230.88 L71.67,230.39 L72.28,229.88 L72.88,229.72 L73.49,229.09 L74.09,228.36 L74.77,227.09 L75.44,225.88 L76.11,224.33 L76.87,222.17 L77.62,218.27 L78.63,211.21 L79.64,204.15 L80.65,198.10 L81.66,195.08 L82.67,194.07 L83.68,194.07 L84.68,196.09 L85.69,201.13 L86.40,208.19 L87.21,216.26 L88.01,223.32 L89.02,228.36 L89.63,229.64 L90.23,230.88 L90.90,231.54 L91.58,232.10 L92.25,232.60 L92.25,234.00 Z" fill="#a33446" stroke="none" stroke-width="1" clip-path="url(#c385)"/>
<path d="M63.50,233.20 L67.03,233.20 L70.06,231.39 L73.09,229.37 L75.10,226.34 L77.12,221.30 L78.63,214.24 L79.64,206.17 L80.95,198.10 L81.96,192.05 L82.97,190.03 L83.68,189.03 L84.38,191.04 L85.19,190.03 L86.00,191.04 L86.70,194.07 L87.51,199.11 L88.21,204.15 L89.02,211.21 L89.73,218.27 L90.43,224.33 L91.24,229.37 L92.75,233.20 L110.00,233.20" fill="none" stroke="#3b5b8e" stroke-width="1.2" clip-path="url(#c385)" stroke-linejoin="round"/>
<line x1="61.80" y1="233.00" x2="63.80" y2="233.00" stroke="#000" stroke-width="0.9"/>
<line x1="62.40" y1="230.74" x2="63.80" y2="230.74" stroke="#000" stroke-width="0.9"/>
<line x1="62.40" y1="228.47" x2="63.80" y2="228.47" stroke="#000" stroke-width="0.9"/>
<line x1="62.40" y1="226.21" x2="63.80" y2="226.21" stroke="#000" stroke-width="0.9"/>
<line x1="61.80" y1="223.95" x2="63.80" y2="223.95" stroke="#000" stroke-width="0.9"/>
<rect x="60.00" y="223.15" width="1.80" height="1.60" fill="#b0b0b0"/>
<line x1="62.40" y1="221.69" x2="63.80" y2="221.69" stroke="#000" stroke-width="0.9"/>
<line x1="62.40" y1="219.43" x2="63.80" y2="219.43" stroke="#000" stroke-width="0.9"/>
<line x1="62.40" y1="217.16" x2="63.80" y2="217.16" stroke="#000" stroke-width="0.9"/>
<line x1="61.80" y1="214.90" x2="63.80" y2="214.90" stroke="#000" stroke-width="0.9"/>
<rect x="60.00" y="214.10" width="1.80" height="1.60" fill="#b0b0b0"/>
<line x1="62.40" y1="212.64" x2="63.80" y2="212.64" stroke="#000" stroke-width="0.9"/>
<line x1="62.40" y1="210.38" x2="63.80" y2="210.38" stroke="#000" stroke-width="0.9"/>
<line x1="62.40" y1="208.11" x2="63.80" y2="208.11" stroke="#000" stroke-width="0.9"/>
<line x1="61.80" y1="205.85" x2="63.80" y2="205.85" stroke="#000" stroke-width="0.9"/>
<rect x="60.00" y="205.05" width="1.80" height="1.60" fill="#b0b0b0"/>
<line x1="62.40" y1="203.59" x2="63.80" y2="203.59" stroke="#000" stroke-width="0.9"/>
<line x1="62.40" y1="201.32" x2="63.80" y2="201.32" stroke="#000" stroke-width="0.9"/>
<line x1="62.40" y1="199.06" x2="63.80" y2="199.06" stroke="#000" stroke-width="0.9"/>
<line x1="61.80" y1="196.80" x2="63.80" y2="196.80" stroke="#000" stroke-width="0.9"/>
<rect x="60.00" y="196.00" width="1.80" height="1.60" fill="#b0b0b0"/>
<line x1="62.40" y1="194.54" x2="63.80" y2="194.54" stroke="#000" stroke-width="0.9"/>
<line x1="62.40" y1="192.28" x2="63.80" y2="192.28" stroke="#000" stroke-width="0.9"/>
<line x1="62.40" y1="190.01" x2="63.80" y2="190.01" stroke="#000" stroke-width="0.9"/>
<line x1="61.80" y1="187.75" x2="63.80" y2="187.75" stroke="#000" stroke-width="0.9"/>
<rect x="60.00" y="186.95" width="1.80" height="1.60" fill="#b0b0b0"/>
<rect x="63.80" y="233.00" width="46.50" height="1.20" fill="#555"/>
<line x1="63.80" y1="233.00" x2="63.80" y2="236.00" stroke="#111" stroke-width="0.8"/>
<line x1="66.12" y1="233.00" x2="66.12" y2="234.64" stroke="#111" stroke-width="0.8"/>
<line x1="68.45" y1="233.00" x2="68.45" y2="235.59" stroke="#111" stroke-width="0.8"/>
<line x1="70.77" y1="233.00" x2="70.77" y2="235.44" stroke="#111" stroke-width="0.8"/>
<line x1="73.10" y1="233.00" x2="73.10" y2="236.00" stroke="#111" stroke-width="0.8"/>
<line x1="75.42" y1="233.00" x2="75.42" y2="234.94" stroke="#111" stroke-width="0.8"/>
<line x1="77.75" y1="233.00" x2="77.75" y2="234.68" stroke="#111" stroke-width="0.8"/>
<line x1="80.07" y1="233.00" x2="80.07" y2="234.96" stroke="#111" stroke-width="0.8"/>
<line x1="82.40" y1="233.00" x2="82.40" y2="236.00" stroke="#111" stroke-width="0.8"/>
<line x1="84.72" y1="233.00" x2="84.72" y2="235.38" stroke="#111" stroke-width="0.8"/>
<line x1="87.05" y1="233.00" x2="87.05" y2="234.78" stroke="#111" stroke-width="0.8"/>
<line x1="89.38" y1="233.00" x2="89.38" y2="235.60" stroke="#111" stroke-width="0.8"/>
<line x1="91.70" y1="233.00" x2="91.70" y2="236.00" stroke="#111" stroke-width="0.8"/>
<line x1="94.03" y1="233.00" x2="94.03" y2="235.34" stroke="#111" stroke-width="0.8"/>
<line x1="96.35" y1="233.00" x2="96.35" y2="235.04" stroke="#111" stroke-width="0.8"/>
<line x1="98.67" y1="233.00" x2="98.67" y2="235.11" stroke="#111" stroke-width="0.8"/>
<line x1="101.00" y1="233.00" x2="101.00" y2="236.00" stroke="#111" stroke-width="0.8"/>
<line x1="103.32" y1="233.00" x2="103.32" y2="235.45" stroke="#111" stroke-width="0.8"/>
<line x1="105.65" y1="233.00" x2="105.65" y2="235.35" stroke="#111" stroke-width="0.8"/>
<line x1="107.97" y1="233.00" x2="107.97" y2="234.70" stroke="#111" stroke-width="0.8"/>
<line x1="110.30" y1="233.00" x2="110.30" y2="236.00" stroke="#111" stroke-width="0.8"/>
<rect x="63.80" y="186.50" width="46.50" height="46.50" fill="none" stroke="#1a1a1a" stroke-width="1.1"/>
<text x="107.40" y="193.60" font-size="5.5" fill="#b4475a" text-anchor="end" textLength="7.949999999999999" lengthAdjust="spacingAndGlyphs">524</text>
<text x="107.40" y="200.60" font-size="5.5" fill="#4b6797" text-anchor="end" textLength="7.949999999999999" lengthAdjust="spacingAndGlyphs">714</text>
<clipPath id="c439"><rect x="117.00" y="186.50" width="46.50" height="46.50"/></clipPath>
<path d="M121.04,234.00 L121.04,232.60 L121.67,232.05 L122.30,231.55 L122.93,230.98 L123.56,230.38 L124.19,229.91 L124.83,229.37 L125.46,229.14 L126.09,228.36 L126.76,227.65 L127.43,225.74 L128.10,224.33 L128.86,222.67 L129.62,219.28 L130.37,217.11 L131.13,211.21 L132.14,206.17 L133.15,199.11 L134.15,190.03 L134.96,193.06 L135.67,196.09 L136.68,197.09 L137.68,201.13 L138.39,208.19 L139.20,216.26 L140.21,224.33 L140.96,227.25 L141.72,229.37 L142.39,230.29 L143.06,231.05 L143.74,231.89 L144.49,232.30 L145.25,232.60 L145.25,234.00 Z" fill="#a33446" stroke="none" stroke-width="1" clip-path="url(#c439)"/>
<path d="M116.50,233.20 L122.05,233.20 L125.08,230.88 L127.60,229.37 L129.62,226.34 L131.13,219.28 L132.14,212.22 L133.15,204.15 L134.15,196.09 L135.16,192.05 L135.97,190.03 L136.68,189.03 L137.18,193.06 L137.99,196.09 L138.69,202.14 L139.40,209.20 L140.21,215.25 L141.21,220.29 L142.42,225.33 L143.74,228.36 L145.25,231.39 L146.76,233.20 L163.00,233.20" fill="none" stroke="#3b5b8e" stroke-width="1.2" clip-path="url(#c439)" stroke-linejoin="round"/>
<line x1="115.00" y1="233.00" x2="117.00" y2="233.00" stroke="#000" stroke-width="0.9"/>
<line x1="115.60" y1="230.74" x2="117.00" y2="230.74" stroke="#000" stroke-width="0.9"/>
<line x1="115.60" y1="228.47" x2="117.00" y2="228.47" stroke="#000" stroke-width="0.9"/>
<line x1="115.60" y1="226.21" x2="117.00" y2="226.21" stroke="#000" stroke-width="0.9"/>
<line x1="115.00" y1="223.95" x2="117.00" y2="223.95" stroke="#000" stroke-width="0.9"/>
<rect x="113.20" y="223.15" width="1.80" height="1.60" fill="#b0b0b0"/>
<line x1="115.60" y1="221.69" x2="117.00" y2="221.69" stroke="#000" stroke-width="0.9"/>
<line x1="115.60" y1="219.43" x2="117.00" y2="219.43" stroke="#000" stroke-width="0.9"/>
<line x1="115.60" y1="217.16" x2="117.00" y2="217.16" stroke="#000" stroke-width="0.9"/>
<line x1="115.00" y1="214.90" x2="117.00" y2="214.90" stroke="#000" stroke-width="0.9"/>
<rect x="113.20" y="214.10" width="1.80" height="1.60" fill="#b0b0b0"/>
<line x1="115.60" y1="212.64" x2="117.00" y2="212.64" stroke="#000" stroke-width="0.9"/>
<line x1="115.60" y1="210.38" x2="117.00" y2="210.38" stroke="#000" stroke-width="0.9"/>
<line x1="115.60" y1="208.11" x2="117.00" y2="208.11" stroke="#000" stroke-width="0.9"/>
<line x1="115.00" y1="205.85" x2="117.00" y2="205.85" stroke="#000" stroke-width="0.9"/>
<rect x="113.20" y="205.05" width="1.80" height="1.60" fill="#b0b0b0"/>
<line x1="115.60" y1="203.59" x2="117.00" y2="203.59" stroke="#000" stroke-width="0.9"/>
<line x1="115.60" y1="201.32" x2="117.00" y2="201.32" stroke="#000" stroke-width="0.9"/>
<line x1="115.60" y1="199.06" x2="117.00" y2="199.06" stroke="#000" stroke-width="0.9"/>
<line x1="115.00" y1="196.80" x2="117.00" y2="196.80" stroke="#000" stroke-width="0.9"/>
<rect x="113.20" y="196.00" width="1.80" height="1.60" fill="#b0b0b0"/>
<line x1="115.60" y1="194.54" x2="117.00" y2="194.54" stroke="#000" stroke-width="0.9"/>
<line x1="115.60" y1="192.28" x2="117.00" y2="192.28" stroke="#000" stroke-width="0.9"/>
<line x1="115.60" y1="190.01" x2="117.00" y2="190.01" stroke="#000" stroke-width="0.9"/>
<line x1="115.00" y1="187.75" x2="117.00" y2="187.75" stroke="#000" stroke-width="0.9"/>
<rect x="113.20" y="186.95" width="1.80" height="1.60" fill="#b0b0b0"/>
<rect x="117.00" y="233.00" width="46.50" height="1.20" fill="#555"/>
<line x1="117.00" y1="233.00" x2="117.00" y2="236.00" stroke="#111" stroke-width="0.8"/>
<line x1="119.33" y1="233.00" x2="119.33" y2="235.08" stroke="#111" stroke-width="0.8"/>
<line x1="121.65" y1="233.00" x2="121.65" y2="235.50" stroke="#111" stroke-width="0.8"/>
<line x1="123.97" y1="233.00" x2="123.97" y2="235.14" stroke="#111" stroke-width="0.8"/>
<line x1="126.30" y1="233.00" x2="126.30" y2="236.00" stroke="#111" stroke-width="0.8"/>
<line x1="128.62" y1="233.00" x2="128.62" y2="235.48" stroke="#111" stroke-width="0.8"/>
<line x1="130.95" y1="233.00" x2="130.95" y2="235.17" stroke="#111" stroke-width="0.8"/>
<line x1="133.28" y1="233.00" x2="133.28" y2="235.59" stroke="#111" stroke-width="0.8"/>
<line x1="135.60" y1="233.00" x2="135.60" y2="236.00" stroke="#111" stroke-width="0.8"/>
<line x1="137.93" y1="233.00" x2="137.93" y2="234.96" stroke="#111" stroke-width="0.8"/>
<line x1="140.25" y1="233.00" x2="140.25" y2="235.26" stroke="#111" stroke-width="0.8"/>
<line x1="142.57" y1="233.00" x2="142.57" y2="235.09" stroke="#111" stroke-width="0.8"/>
<line x1="144.90" y1="233.00" x2="144.90" y2="236.00" stroke="#111" stroke-width="0.8"/>
<line x1="147.22" y1="233.00" x2="147.22" y2="235.17" stroke="#111" stroke-width="0.8"/>
<line x1="149.55" y1="233.00" x2="149.55" y2="234.92" stroke="#111" stroke-width="0.8"/>
<line x1="151.88" y1="233.00" x2="151.88" y2="235.41" stroke="#111" stroke-width="0.8"/>
<line x1="154.20" y1="233.00" x2="154.20" y2="236.00" stroke="#111" stroke-width="0.8"/>
<line x1="156.53" y1="233.00" x2="156.53" y2="235.41" stroke="#111" stroke-width="0.8"/>
<line x1="158.85" y1="233.00" x2="158.85" y2="235.26" stroke="#111" stroke-width="0.8"/>
<line x1="161.18" y1="233.00" x2="161.18" y2="235.18" stroke="#111" stroke-width="0.8"/>
<line x1="163.50" y1="233.00" x2="163.50" y2="236.00" stroke="#111" stroke-width="0.8"/>
<rect x="117.00" y="186.50" width="46.50" height="46.50" fill="none" stroke="#1a1a1a" stroke-width="1.1"/>
<text x="160.60" y="193.60" font-size="5.5" fill="#b4475a" text-anchor="end" textLength="7.949999999999999" lengthAdjust="spacingAndGlyphs">482</text>
<text x="160.60" y="200.60" font-size="5.5" fill="#4b6797" text-anchor="end" textLength="7.949999999999999" lengthAdjust="spacingAndGlyphs">711</text>
<clipPath id="c493"><rect x="10.45" y="240.00" width="46.50" height="46.50"/></clipPath>
<path d="M10.50,287.50 L10.50,285.39 L11.13,285.13 L11.77,285.41 L12.40,285.15 L13.03,284.38 L13.78,285.14 L14.54,285.89 L15.17,285.65 L15.80,285.40 L16.43,285.52 L17.06,284.88 L17.73,285.42 L18.40,285.59 L19.08,285.89 L19.75,285.48 L20.42,285.23 L21.09,284.38 L21.77,284.08 L22.44,284.15 L23.11,283.37 L23.72,283.91 L24.32,282.99 L24.93,283.64 L25.53,283.85 L26.14,282.36 L26.81,281.69 L27.48,281.37 L28.15,280.34 L28.91,280.03 L29.67,278.33 L30.17,272.27 L31.18,271.27 L32.19,273.28 L33.20,264.21 L34.21,268.24 L35.21,263.20 L36.22,266.22 L37.23,255.13 L38.24,254.12 L38.74,258.15 L39.45,264.21 L40.06,261.18 L40.76,266.22 L41.77,270.26 L42.78,272.27 L43.79,270.26 L44.80,272.27 L45.80,268.24 L46.81,265.21 L47.82,263.20 L48.83,266.22 L49.84,263.20 L50.85,260.17 L51.35,253.11 L51.86,249.08 L52.36,246.05 L53.17,257.15 L53.87,260.17 L54.38,262.19 L54.88,258.15 L55.39,245.04 L55.89,242.02 L56.60,243.03 L57.00,243.03 L57.00,287.50 Z" fill="#a33446" stroke="none" stroke-width="1" clip-path="url(#c493)"/>
<path d="M10.50,287.20 L25.13,287.20 L30.17,287.20 L33.20,284.38 L36.22,281.35 L38.24,279.33 L40.26,277.32 L41.77,274.29 L43.28,271.27 L44.29,268.24 L45.30,264.21 L46.31,260.17 L47.32,256.14 L48.12,253.11 L48.83,252.10 L49.33,249.08 L49.84,246.05 L50.34,242.52 L51.15,244.03 L51.86,246.05 L52.56,248.07 L53.37,251.09 L54.38,255.13 L55.18,259.16 L55.89,263.20 L56.60,264.21 L57.00,264.21" fill="none" stroke="#3b5b8e" stroke-width="1.2" clip-path="url(#c493)" stroke-linejoin="round"/>
<line x1="8.45" y1="286.50" x2="10.45" y2="286.50" stroke="#000" stroke-width="0.9"/>
<line x1="9.05" y1="284.24" x2="10.45" y2="284.24" stroke="#000" stroke-width="0.9"/>
<line x1="9.05" y1="281.98" x2="10.45" y2="281.98" stroke="#000" stroke-width="0.9"/>
<line x1="9.05" y1="279.71" x2="10.45" y2="279.71" stroke="#000" stroke-width="0.9"/>
<line x1="8.45" y1="277.45" x2="10.45" y2="277.45" stroke="#000" stroke-width="0.9"/>
<rect x="6.65" y="276.65" width="1.80" height="1.60" fill="#b0b0b0"/>
<line x1="9.05" y1="275.19" x2="10.45" y2="275.19" stroke="#000" stroke-width="0.9"/>
<line x1="9.05" y1="272.93" x2="10.45" y2="272.93" stroke="#000" stroke-width="0.9"/>
<line x1="9.05" y1="270.66" x2="10.45" y2="270.66" stroke="#000" stroke-width="0.9"/>
<line x1="8.45" y1="268.40" x2="10.45" y2="268.40" stroke="#000" stroke-width="0.9"/>
<rect x="6.65" y="267.60" width="1.80" height="1.60" fill="#b0b0b0"/>
<line x1="9.05" y1="266.14" x2="10.45" y2="266.14" stroke="#000" stroke-width="0.9"/>
<line x1="9.05" y1="263.88" x2="10.45" y2="263.88" stroke="#000" stroke-width="0.9"/>
<line x1="9.05" y1="261.61" x2="10.45" y2="261.61" stroke="#000" stroke-width="0.9"/>
<line x1="8.45" y1="259.35" x2="10.45" y2="259.35" stroke="#000" stroke-width="0.9"/>
<rect x="6.65" y="258.55" width="1.80" height="1.60" fill="#b0b0b0"/>
<line x1="9.05" y1="257.09" x2="10.45" y2="257.09" stroke="#000" stroke-width="0.9"/>
<line x1="9.05" y1="254.82" x2="10.45" y2="254.82" stroke="#000" stroke-width="0.9"/>
<line x1="9.05" y1="252.56" x2="10.45" y2="252.56" stroke="#000" stroke-width="0.9"/>
<line x1="8.45" y1="250.30" x2="10.45" y2="250.30" stroke="#000" stroke-width="0.9"/>
<rect x="6.65" y="249.50" width="1.80" height="1.60" fill="#b0b0b0"/>
<line x1="9.05" y1="248.04" x2="10.45" y2="248.04" stroke="#000" stroke-width="0.9"/>
<line x1="9.05" y1="245.78" x2="10.45" y2="245.78" stroke="#000" stroke-width="0.9"/>
<line x1="9.05" y1="243.51" x2="10.45" y2="243.51" stroke="#000" stroke-width="0.9"/>
<line x1="8.45" y1="241.25" x2="10.45" y2="241.25" stroke="#000" stroke-width="0.9"/>
<rect x="6.65" y="240.45" width="1.80" height="1.60" fill="#b0b0b0"/>
<rect x="10.45" y="286.50" width="46.50" height="1.20" fill="#555"/>
<line x1="10.45" y1="286.50" x2="10.45" y2="289.50" stroke="#111" stroke-width="0.8"/>
<line x1="12.77" y1="286.50" x2="12.77" y2="288.66" stroke="#111" stroke-width="0.8"/>
<line x1="15.10" y1="286.50" x2="15.10" y2="289.07" stroke="#111" stroke-width="0.8"/>
<line x1="17.42" y1="286.50" x2="17.42" y2="288.53" stroke="#111" stroke-width="0.8"/>
<line x1="19.75" y1="286.50" x2="19.75" y2="289.50" stroke="#111" stroke-width="0.8"/>
<line x1="22.07" y1="286.50" x2="22.07" y2="288.97" stroke="#111" stroke-width="0.8"/>
<line x1="24.40" y1="286.50" x2="24.40" y2="288.29" stroke="#111" stroke-width="0.8"/>
<line x1="26.72" y1="286.50" x2="26.72" y2="288.24" stroke="#111" stroke-width="0.8"/>
<line x1="29.05" y1="286.50" x2="29.05" y2="289.50" stroke="#111" stroke-width="0.8"/>
<line x1="31.38" y1="286.50" x2="31.38" y2="288.45" stroke="#111" stroke-width="0.8"/>
<line x1="33.70" y1="286.50" x2="33.70" y2="288.12" stroke="#111" stroke-width="0.8"/>
<line x1="36.02" y1="286.50" x2="36.02" y2="288.55" stroke="#111" stroke-width="0.8"/>
<line x1="38.35" y1="286.50" x2="38.35" y2="289.50" stroke="#111" stroke-width="0.8"/>
<line x1="40.67" y1="286.50" x2="40.67" y2="288.50" stroke="#111" stroke-width="0.8"/>
<line x1="43.00" y1="286.50" x2="43.00" y2="288.68" stroke="#111" stroke-width="0.8"/>
<line x1="45.33" y1="286.50" x2="45.33" y2="289.00" stroke="#111" stroke-width="0.8"/>
<line x1="47.65" y1="286.50" x2="47.65" y2="289.50" stroke="#111" stroke-width="0.8"/>
<line x1="49.97" y1="286.50" x2="49.97" y2="288.23" stroke="#111" stroke-width="0.8"/>
<line x1="52.30" y1="286.50" x2="52.30" y2="288.32" stroke="#111" stroke-width="0.8"/>
<line x1="54.62" y1="286.50" x2="54.62" y2="288.60" stroke="#111" stroke-width="0.8"/>
<line x1="56.95" y1="286.50" x2="56.95" y2="289.50" stroke="#111" stroke-width="0.8"/>
<rect x="10.45" y="240.00" width="46.50" height="46.50" fill="none" stroke="#1a1a1a" stroke-width="1.1"/>
<text x="14.25" y="247.10" font-size="5.5" fill="#b4475a" textLength="13.25" lengthAdjust="spacingAndGlyphs">55470</text>
<text x="14.25" y="254.10" font-size="5.5" fill="#4b6797" textLength="13.25" lengthAdjust="spacingAndGlyphs">59933</text>
<clipPath id="c547"><rect x="63.80" y="240.00" width="46.50" height="46.50"/></clipPath>
<path d="M63.50,287.50 L63.50,285.89 L64.13,285.52 L64.77,285.22 L65.40,284.81 L66.03,284.38 L66.70,284.91 L67.37,285.39 L68.04,285.89 L68.65,285.77 L69.25,285.65 L69.86,285.30 L70.46,285.25 L71.07,284.88 L71.74,284.43 L72.41,283.52 L73.09,282.36 L73.84,281.10 L74.60,279.33 L75.36,277.33 L76.11,275.30 L77.12,270.26 L78.13,266.22 L79.14,260.17 L79.64,253.11 L80.15,250.09 L80.95,246.05 L81.66,247.06 L82.36,243.03 L82.97,250.09 L83.68,260.17 L84.38,267.23 L85.19,273.28 L86.20,278.33 L87.21,281.35 L87.96,283.30 L88.72,284.38 L89.39,285.15 L90.06,285.86 L90.74,286.60 L90.74,287.50 Z" fill="#a33446" stroke="none" stroke-width="1" clip-path="url(#c547)"/>
<path d="M63.50,287.20 L69.05,287.20 L73.09,285.39 L76.11,282.36 L78.13,278.33 L79.64,272.27 L81.15,265.21 L82.16,258.15 L83.17,253.11 L84.18,252.10 L84.68,250.09 L85.39,251.09 L86.20,248.07 L87.21,246.05 L88.01,243.03 L88.72,244.03 L89.22,248.07 L90.03,255.13 L91.04,260.17 L92.05,265.21 L93.06,270.26 L93.76,274.29 L94.47,278.33 L95.27,282.36 L96.28,285.39 L97.80,287.20 L110.00,287.20" fill="none" stroke="#3b5b8e" stroke-width="1.2" clip-path="url(#c547)" stroke-linejoin="round"/>
<line x1="61.80" y1="286.50" x2="63.80" y2="286.50" stroke="#000" stroke-width="0.9"/>
<line x1="62.40" y1="284.24" x2="63.80" y2="284.24" stroke="#000" stroke-width="0.9"/>
<line x1="62.40" y1="281.98" x2="63.80" y2="281.98" stroke="#000" stroke-width="0.9"/>
<line x1="62.40" y1="279.71" x2="63.80" y2="279.71" stroke="#000" stroke-width="0.9"/>
<line x1="61.80" y1="277.45" x2="63.80" y2="277.45" stroke="#000" stroke-width="0.9"/>
<rect x="60.00" y="276.65" width="1.80" height="1.60" fill="#b0b0b0"/>
<line x1="62.40" y1="275.19" x2="63.80" y2="275.19" stroke="#000" stroke-width="0.9"/>
<line x1="62.40" y1="272.93" x2="63.80" y2="272.93" stroke="#000" stroke-width="0.9"/>
<line x1="62.40" y1="270.66" x2="63.80" y2="270.66" stroke="#000" stroke-width="0.9"/>
<line x1="61.80" y1="268.40" x2="63.80" y2="268.40" stroke="#000" stroke-width="0.9"/>
<rect x="60.00" y="267.60" width="1.80" height="1.60" fill="#b0b0b0"/>
<line x1="62.40" y1="266.14" x2="63.80" y2="266.14" stroke="#000" stroke-width="0.9"/>
<line x1="62.40" y1="263.88" x2="63.80" y2="263.88" stroke="#000" stroke-width="0.9"/>
<line x1="62.40" y1="261.61" x2="63.80" y2="261.61" stroke="#000" stroke-width="0.9"/>
<line x1="61.80" y1="259.35" x2="63.80" y2="259.35" stroke="#000" stroke-width="0.9"/>
<rect x="60.00" y="258.55" width="1.80" height="1.60" fill="#b0b0b0"/>
<line x1="62.40" y1="257.09" x2="63.80" y2="257.09" stroke="#000" stroke-width="0.9"/>
<line x1="62.40" y1="254.82" x2="63.80" y2="254.82" stroke="#000" stroke-width="0.9"/>
<line x1="62.40" y1="252.56" x2="63.80" y2="252.56" stroke="#000" stroke-width="0.9"/>
<line x1="61.80" y1="250.30" x2="63.80" y2="250.30" stroke="#000" stroke-width="0.9"/>
<rect x="60.00" y="249.50" width="1.80" height="1.60" fill="#b0b0b0"/>
<line x1="62.40" y1="248.04" x2="63.80" y2="248.04" stroke="#000" stroke-width="0.9"/>
<line x1="62.40" y1="245.78" x2="63.80" y2="245.78" stroke="#000" stroke-width="0.9"/>
<line x1="62.40" y1="243.51" x2="63.80" y2="243.51" stroke="#000" stroke-width="0.9"/>
<line x1="61.80" y1="241.25" x2="63.80" y2="241.25" stroke="#000" stroke-width="0.9"/>
<rect x="60.00" y="240.45" width="1.80" height="1.60" fill="#b0b0b0"/>
<rect x="63.80" y="286.50" width="46.50" height="1.20" fill="#555"/>
<line x1="63.80" y1="286.50" x2="63.80" y2="289.50" stroke="#111" stroke-width="0.8"/>
<line x1="66.12" y1="286.50" x2="66.12" y2="289.09" stroke="#111" stroke-width="0.8"/>
<line x1="68.45" y1="286.50" x2="68.45" y2="288.63" stroke="#111" stroke-width="0.8"/>
<line x1="70.77" y1="286.50" x2="70.77" y2="288.39" stroke="#111" stroke-width="0.8"/>
<line x1="73.10" y1="286.50" x2="73.10" y2="289.50" stroke="#111" stroke-width="0.8"/>
<line x1="75.42" y1="286.50" x2="75.42" y2="288.39" stroke="#111" stroke-width="0.8"/>
<line x1="77.75" y1="286.50" x2="77.75" y2="288.94" stroke="#111" stroke-width="0.8"/>
<line x1="80.07" y1="286.50" x2="80.07" y2="288.48" stroke="#111" stroke-width="0.8"/>
<line x1="82.40" y1="286.50" x2="82.40" y2="289.50" stroke="#111" stroke-width="0.8"/>
<line x1="84.72" y1="286.50" x2="84.72" y2="289.03" stroke="#111" stroke-width="0.8"/>
<line x1="87.05" y1="286.50" x2="87.05" y2="288.76" stroke="#111" stroke-width="0.8"/>
<line x1="89.38" y1="286.50" x2="89.38" y2="288.38" stroke="#111" stroke-width="0.8"/>
<line x1="91.70" y1="286.50" x2="91.70" y2="289.50" stroke="#111" stroke-width="0.8"/>
<line x1="94.03" y1="286.50" x2="94.03" y2="288.21" stroke="#111" stroke-width="0.8"/>
<line x1="96.35" y1="286.50" x2="96.35" y2="288.83" stroke="#111" stroke-width="0.8"/>
<line x1="98.67" y1="286.50" x2="98.67" y2="288.62" stroke="#111" stroke-width="0.8"/>
<line x1="101.00" y1="286.50" x2="101.00" y2="289.50" stroke="#111" stroke-width="0.8"/>
<line x1="103.32" y1="286.50" x2="103.32" y2="289.02" stroke="#111" stroke-width="0.8"/>
<line x1="105.65" y1="286.50" x2="105.65" y2="288.82" stroke="#111" stroke-width="0.8"/>
<line x1="107.97" y1="286.50" x2="107.97" y2="288.91" stroke="#111" stroke-width="0.8"/>
<line x1="110.30" y1="286.50" x2="110.30" y2="289.50" stroke="#111" stroke-width="0.8"/>
<rect x="63.80" y="240.00" width="46.50" height="46.50" fill="none" stroke="#1a1a1a" stroke-width="1.1"/>
<text x="107.40" y="247.10" font-size="5.5" fill="#b4475a" text-anchor="end" textLength="7.949999999999999" lengthAdjust="spacingAndGlyphs">462</text>
<text x="107.40" y="254.10" font-size="5.5" fill="#4b6797" text-anchor="end" textLength="10.6" lengthAdjust="spacingAndGlyphs">1315</text>
<clipPath id="c601"><rect x="117.00" y="240.00" width="46.50" height="46.50"/></clipPath>
<path d="M119.03,287.50 L119.03,285.89 L119.63,285.60 L120.24,285.29 L120.84,285.03 L121.45,284.99 L122.05,284.38 L122.66,284.51 L123.26,284.39 L123.87,284.36 L124.47,284.10 L125.08,283.87 L125.75,283.00 L126.42,281.23 L127.09,279.33 L127.85,277.24 L128.61,274.29 L129.36,273.08 L130.12,267.23 L131.13,260.17 L132.14,254.12 L133.15,246.05 L134.15,243.03 L135.16,246.05 L135.97,244.03 L136.68,250.09 L137.38,260.17 L138.19,268.24 L139.20,275.30 L140.21,280.34 L141.21,282.36 L141.97,283.37 L142.73,284.38 L143.36,284.57 L143.99,284.38 L144.62,284.41 L145.25,284.38 L145.92,285.06 L146.59,285.39 L147.27,285.89 L148.27,286.60 L148.27,287.50 Z" fill="#a33446" stroke="none" stroke-width="1" clip-path="url(#c601)"/>
<path d="M116.50,287.20 L122.05,287.20 L126.09,285.39 L129.11,282.36 L131.13,278.33 L132.64,272.27 L133.65,265.21 L134.66,258.15 L135.67,252.10 L136.68,248.07 L137.48,245.04 L138.19,243.03 L139.00,245.04 L139.80,248.07 L140.71,254.12 L141.72,260.17 L142.73,266.22 L143.74,271.27 L144.74,276.31 L145.75,280.34 L146.76,283.37 L148.27,284.88 L150.29,287.20 L163.00,287.20" fill="none" stroke="#3b5b8e" stroke-width="1.2" clip-path="url(#c601)" stroke-linejoin="round"/>
<line x1="115.00" y1="286.50" x2="117.00" y2="286.50" stroke="#000" stroke-width="0.9"/>
<line x1="115.60" y1="284.24" x2="117.00" y2="284.24" stroke="#000" stroke-width="0.9"/>
<line x1="115.60" y1="281.98" x2="117.00" y2="281.98" stroke="#000" stroke-width="0.9"/>
<line x1="115.60" y1="279.71" x2="117.00" y2="279.71" stroke="#000" stroke-width="0.9"/>
<line x1="115.00" y1="277.45" x2="117.00" y2="277.45" stroke="#000" stroke-width="0.9"/>
<rect x="113.20" y="276.65" width="1.80" height="1.60" fill="#b0b0b0"/>
<line x1="115.60" y1="275.19" x2="117.00" y2="275.19" stroke="#000" stroke-width="0.9"/>
<line x1="115.60" y1="272.93" x2="117.00" y2="272.93" stroke="#000" stroke-width="0.9"/>
<line x1="115.60" y1="270.66" x2="117.00" y2="270.66" stroke="#000" stroke-width="0.9"/>
<line x1="115.00" y1="268.40" x2="117.00" y2="268.40" stroke="#000" stroke-width="0.9"/>
<rect x="113.20" y="267.60" width="1.80" height="1.60" fill="#b0b0b0"/>
<line x1="115.60" y1="266.14" x2="117.00" y2="266.14" stroke="#000" stroke-width="0.9"/>
<line x1="115.60" y1="263.88" x2="117.00" y2="263.88" stroke="#000" stroke-width="0.9"/>
<line x1="115.60" y1="261.61" x2="117.00" y2="261.61" stroke="#000" stroke-width="0.9"/>
<line x1="115.00" y1="259.35" x2="117.00" y2="259.35" stroke="#000" stroke-width="0.9"/>
<rect x="113.20" y="258.55" width="1.80" height="1.60" fill="#b0b0b0"/>
<line x1="115.60" y1="257.09" x2="117.00" y2="257.09" stroke="#000" stroke-width="0.9"/>
<line x1="115.60" y1="254.82" x2="117.00" y2="254.82" stroke="#000" stroke-width="0.9"/>
<line x1="115.60" y1="252.56" x2="117.00" y2="252.56" stroke="#000" stroke-width="0.9"/>
<line x1="115.00" y1="250.30" x2="117.00" y2="250.30" stroke="#000" stroke-width="0.9"/>
<rect x="113.20" y="249.50" width="1.80" height="1.60" fill="#b0b0b0"/>
<line x1="115.60" y1="248.04" x2="117.00" y2="248.04" stroke="#000" stroke-width="0.9"/>
<line x1="115.60" y1="245.78" x2="117.00" y2="245.78" stroke="#000" stroke-width="0.9"/>
<line x1="115.60" y1="243.51" x2="117.00" y2="243.51" stroke="#000" stroke-width="0.9"/>
<line x1="115.00" y1="241.25" x2="117.00" y2="241.25" stroke="#000" stroke-width="0.9"/>
<rect x="113.20" y="240.45" width="1.80" height="1.60" fill="#b0b0b0"/>
<rect x="117.00" y="286.50" width="46.50" height="1.20" fill="#555"/>
<line x1="117.00" y1="286.50" x2="117.00" y2="289.50" stroke="#111" stroke-width="0.8"/>
<line x1="119.33" y1="286.50" x2="119.33" y2="288.14" stroke="#111" stroke-width="0.8"/>
<line x1="121.65" y1="286.50" x2="121.65" y2="288.70" stroke="#111" stroke-width="0.8"/>
<line x1="123.97" y1="286.50" x2="123.97" y2="288.34" stroke="#111" stroke-width="0.8"/>
<line x1="126.30" y1="286.50" x2="126.30" y2="289.50" stroke="#111" stroke-width="0.8"/>
<line x1="128.62" y1="286.50" x2="128.62" y2="289.01" stroke="#111" stroke-width="0.8"/>
<line x1="130.95" y1="286.50" x2="130.95" y2="288.52" stroke="#111" stroke-width="0.8"/>
<line x1="133.28" y1="286.50" x2="133.28" y2="288.80" stroke="#111" stroke-width="0.8"/>
<line x1="135.60" y1="286.50" x2="135.60" y2="289.50" stroke="#111" stroke-width="0.8"/>
<line x1="137.93" y1="286.50" x2="137.93" y2="288.91" stroke="#111" stroke-width="0.8"/>
<line x1="140.25" y1="286.50" x2="140.25" y2="288.89" stroke="#111" stroke-width="0.8"/>
<line x1="142.57" y1="286.50" x2="142.57" y2="288.21" stroke="#111" stroke-width="0.8"/>
<line x1="144.90" y1="286.50" x2="144.90" y2="289.50" stroke="#111" stroke-width="0.8"/>
<line x1="147.22" y1="286.50" x2="147.22" y2="288.78" stroke="#111" stroke-width="0.8"/>
<line x1="149.55" y1="286.50" x2="149.55" y2="288.16" stroke="#111" stroke-width="0.8"/>
<line x1="151.88" y1="286.50" x2="151.88" y2="289.05" stroke="#111" stroke-width="0.8"/>
<line x1="154.20" y1="286.50" x2="154.20" y2="289.50" stroke="#111" stroke-width="0.8"/>
<line x1="156.53" y1="286.50" x2="156.53" y2="289.03" stroke="#111" stroke-width="0.8"/>
<line x1="158.85" y1="286.50" x2="158.85" y2="288.62" stroke="#111" stroke-width="0.8"/>
<line x1="161.18" y1="286.50" x2="161.18" y2="288.29" stroke="#111" stroke-width="0.8"/>
<line x1="163.50" y1="286.50" x2="163.50" y2="289.50" stroke="#111" stroke-width="0.8"/>
<rect x="117.00" y="240.00" width="46.50" height="46.50" fill="none" stroke="#1a1a1a" stroke-width="1.1"/>
<text x="160.60" y="247.10" font-size="5.5" fill="#b4475a" text-anchor="end" textLength="7.949999999999999" lengthAdjust="spacingAndGlyphs">460</text>
<text x="160.60" y="254.10" font-size="5.5" fill="#4b6797" text-anchor="end" textLength="10.6" lengthAdjust="spacingAndGlyphs">1120</text>
<clipPath id="c655"><rect x="10.40" y="340.00" width="46.80" height="47.00"/></clipPath>
<path d="M12.02,388.00 L12.02,386.60 L12.65,386.04 L13.28,385.52 L13.91,384.96 L14.54,384.38 L15.17,383.64 L15.80,382.87 L16.43,382.27 L17.06,381.35 L17.73,379.74 L18.40,377.37 L19.08,375.30 L20.09,368.24 L20.89,362.19 L21.60,355.13 L22.30,348.07 L23.11,343.03 L23.82,345.04 L24.62,352.10 L25.33,360.17 L26.14,366.22 L27.15,371.27 L27.90,373.81 L28.66,375.30 L29.42,377.35 L30.17,378.33 L30.84,379.58 L31.52,380.44 L32.19,381.35 L32.86,382.36 L33.53,383.51 L34.21,384.38 L34.88,385.13 L35.55,385.86 L36.22,386.60 L36.22,388.00 Z" fill="#a33446" stroke="none" stroke-width="1" clip-path="url(#c655)"/>
<path d="M10.50,387.20 L13.03,387.20 L16.05,385.39 L18.57,383.37 L20.09,380.34 L21.60,375.30 L23.11,370.26 L24.62,366.22 L25.63,364.21 L26.64,363.20 L27.15,366.22 L27.95,362.19 L28.96,358.15 L29.97,354.12 L30.68,350.09 L31.38,346.05 L31.89,343.03 L32.39,346.05 L33.20,350.09 L34.21,357.15 L35.21,362.19 L36.22,367.23 L37.03,372.27 L37.74,377.32 L38.74,381.35 L39.75,384.38 L40.76,387.20 L57.00,387.20" fill="none" stroke="#3b5b8e" stroke-width="1.2" clip-path="url(#c655)" stroke-linejoin="round"/>
<line x1="8.40" y1="387.00" x2="10.40" y2="387.00" stroke="#000" stroke-width="0.9"/>
<line x1="9.00" y1="384.74" x2="10.40" y2="384.74" stroke="#000" stroke-width="0.9"/>
<line x1="9.00" y1="382.48" x2="10.40" y2="382.48" stroke="#000" stroke-width="0.9"/>
<line x1="9.00" y1="380.21" x2="10.40" y2="380.21" stroke="#000" stroke-width="0.9"/>
<line x1="8.40" y1="377.95" x2="10.40" y2="377.95" stroke="#000" stroke-width="0.9"/>
<rect x="6.60" y="377.15" width="1.80" height="1.60" fill="#b0b0b0"/>
<line x1="9.00" y1="375.69" x2="10.40" y2="375.69" stroke="#000" stroke-width="0.9"/>
<line x1="9.00" y1="373.43" x2="10.40" y2="373.43" stroke="#000" stroke-width="0.9"/>
<line x1="9.00" y1="371.16" x2="10.40" y2="371.16" stroke="#000" stroke-width="0.9"/>
<line x1="8.40" y1="368.90" x2="10.40" y2="368.90" stroke="#000" stroke-width="0.9"/>
<rect x="6.60" y="368.10" width="1.80" height="1.60" fill="#b0b0b0"/>
<line x1="9.00" y1="366.64" x2="10.40" y2="366.64" stroke="#000" stroke-width="0.9"/>
<line x1="9.00" y1="364.38" x2="10.40" y2="364.38" stroke="#000" stroke-width="0.9"/>
<line x1="9.00" y1="362.11" x2="10.40" y2="362.11" stroke="#000" stroke-width="0.9"/>
<line x1="8.40" y1="359.85" x2="10.40" y2="359.85" stroke="#000" stroke-width="0.9"/>
<rect x="6.60" y="359.05" width="1.80" height="1.60" fill="#b0b0b0"/>
<line x1="9.00" y1="357.59" x2="10.40" y2="357.59" stroke="#000" stroke-width="0.9"/>
<line x1="9.00" y1="355.32" x2="10.40" y2="355.32" stroke="#000" stroke-width="0.9"/>
<line x1="9.00" y1="353.06" x2="10.40" y2="353.06" stroke="#000" stroke-width="0.9"/>
<line x1="8.40" y1="350.80" x2="10.40" y2="350.80" stroke="#000" stroke-width="0.9"/>
<rect x="6.60" y="350.00" width="1.80" height="1.60" fill="#b0b0b0"/>
<line x1="9.00" y1="348.54" x2="10.40" y2="348.54" stroke="#000" stroke-width="0.9"/>
<line x1="9.00" y1="346.27" x2="10.40" y2="346.27" stroke="#000" stroke-width="0.9"/>
<line x1="9.00" y1="344.01" x2="10.40" y2="344.01" stroke="#000" stroke-width="0.9"/>
<line x1="8.40" y1="341.75" x2="10.40" y2="341.75" stroke="#000" stroke-width="0.9"/>
<rect x="6.60" y="340.95" width="1.80" height="1.60" fill="#b0b0b0"/>
<rect x="10.40" y="387.00" width="46.80" height="1.20" fill="#555"/>
<line x1="10.40" y1="387.00" x2="10.40" y2="390.00" stroke="#111" stroke-width="0.8"/>
<line x1="12.74" y1="387.00" x2="12.74" y2="388.89" stroke="#111" stroke-width="0.8"/>
<line x1="15.08" y1="387.00" x2="15.08" y2="389.31" stroke="#111" stroke-width="0.8"/>
<line x1="17.42" y1="387.00" x2="17.42" y2="388.66" stroke="#111" stroke-width="0.8"/>
<line x1="19.76" y1="387.00" x2="19.76" y2="390.00" stroke="#111" stroke-width="0.8"/>
<line x1="22.10" y1="387.00" x2="22.10" y2="389.59" stroke="#111" stroke-width="0.8"/>
<line x1="24.44" y1="387.00" x2="24.44" y2="388.71" stroke="#111" stroke-width="0.8"/>
<line x1="26.78" y1="387.00" x2="26.78" y2="388.79" stroke="#111" stroke-width="0.8"/>
<line x1="29.12" y1="387.00" x2="29.12" y2="390.00" stroke="#111" stroke-width="0.8"/>
<line x1="31.46" y1="387.00" x2="31.46" y2="388.80" stroke="#111" stroke-width="0.8"/>
<line x1="33.80" y1="387.00" x2="33.80" y2="389.08" stroke="#111" stroke-width="0.8"/>
<line x1="36.14" y1="387.00" x2="36.14" y2="388.67" stroke="#111" stroke-width="0.8"/>
<line x1="38.48" y1="387.00" x2="38.48" y2="390.00" stroke="#111" stroke-width="0.8"/>
<line x1="40.82" y1="387.00" x2="40.82" y2="389.30" stroke="#111" stroke-width="0.8"/>
<line x1="43.16" y1="387.00" x2="43.16" y2="388.95" stroke="#111" stroke-width="0.8"/>
<line x1="45.50" y1="387.00" x2="45.50" y2="389.53" stroke="#111" stroke-width="0.8"/>
<line x1="47.84" y1="387.00" x2="47.84" y2="390.00" stroke="#111" stroke-width="0.8"/>
<line x1="50.18" y1="387.00" x2="50.18" y2="389.11" stroke="#111" stroke-width="0.8"/>
<line x1="52.52" y1="387.00" x2="52.52" y2="389.25" stroke="#111" stroke-width="0.8"/>
<line x1="54.86" y1="387.00" x2="54.86" y2="388.89" stroke="#111" stroke-width="0.8"/>
<line x1="57.20" y1="387.00" x2="57.20" y2="390.00" stroke="#111" stroke-width="0.8"/>
<rect x="10.40" y="340.00" width="46.80" height="47.00" fill="none" stroke="#1a1a1a" stroke-width="1.1"/>
<text x="54.30" y="347.10" font-size="5.5" fill="#b4475a" text-anchor="end" textLength="7.949999999999999" lengthAdjust="spacingAndGlyphs">204</text>
<text x="54.30" y="354.10" font-size="5.5" fill="#4b6797" text-anchor="end" textLength="7.949999999999999" lengthAdjust="spacingAndGlyphs">716</text>
<clipPath id="c709"><rect x="63.70" y="340.00" width="46.90" height="47.00"/></clipPath>
<path d="M65.02,388.00 L65.02,386.60 L65.69,385.53 L66.36,384.45 L67.03,383.37 L67.71,381.83 L68.38,380.99 L69.05,378.33 L69.81,375.42 L70.56,370.26 L71.57,363.20 L72.58,360.17 L73.59,352.10 L74.60,346.05 L75.30,343.03 L76.11,348.07 L76.92,344.03 L77.62,348.07 L78.63,355.13 L79.64,363.20 L80.65,369.25 L81.66,366.22 L82.67,360.17 L83.68,356.14 L84.68,351.09 L85.39,350.09 L86.20,356.14 L87.21,362.19 L88.21,370.26 L89.22,377.32 L90.23,382.36 L90.99,384.12 L91.74,385.39 L92.50,386.09 L93.26,386.60 L93.26,388.00 Z" fill="#a33446" stroke="none" stroke-width="1" clip-path="url(#c709)"/>
<path d="M63.50,387.20 L66.03,387.20 L69.05,384.88 L71.07,382.36 L73.09,378.33 L75.10,372.27 L77.12,367.23 L79.14,363.20 L80.15,360.17 L80.95,353.11 L81.66,349.08 L82.36,352.10 L83.17,355.13 L83.98,350.09 L84.68,346.05 L85.39,343.03 L86.20,344.03 L87.00,348.07 L87.71,351.09 L88.42,355.13 L89.22,359.16 L90.03,363.20 L90.74,367.23 L91.44,371.27 L92.25,376.31 L93.06,381.35 L94.27,385.39 L95.27,387.20 L110.00,387.20" fill="none" stroke="#3b5b8e" stroke-width="1.2" clip-path="url(#c709)" stroke-linejoin="round"/>
<line x1="61.70" y1="387.00" x2="63.70" y2="387.00" stroke="#000" stroke-width="0.9"/>
<line x1="62.30" y1="384.74" x2="63.70" y2="384.74" stroke="#000" stroke-width="0.9"/>
<line x1="62.30" y1="382.48" x2="63.70" y2="382.48" stroke="#000" stroke-width="0.9"/>
<line x1="62.30" y1="380.21" x2="63.70" y2="380.21" stroke="#000" stroke-width="0.9"/>
<line x1="61.70" y1="377.95" x2="63.70" y2="377.95" stroke="#000" stroke-width="0.9"/>
<rect x="59.90" y="377.15" width="1.80" height="1.60" fill="#b0b0b0"/>
<line x1="62.30" y1="375.69" x2="63.70" y2="375.69" stroke="#000" stroke-width="0.9"/>
<line x1="62.30" y1="373.43" x2="63.70" y2="373.43" stroke="#000" stroke-width="0.9"/>
<line x1="62.30" y1="371.16" x2="63.70" y2="371.16" stroke="#000" stroke-width="0.9"/>
<line x1="61.70" y1="368.90" x2="63.70" y2="368.90" stroke="#000" stroke-width="0.9"/>
<rect x="59.90" y="368.10" width="1.80" height="1.60" fill="#b0b0b0"/>
<line x1="62.30" y1="366.64" x2="63.70" y2="366.64" stroke="#000" stroke-width="0.9"/>
<line x1="62.30" y1="364.38" x2="63.70" y2="364.38" stroke="#000" stroke-width="0.9"/>
<line x1="62.30" y1="362.11" x2="63.70" y2="362.11" stroke="#000" stroke-width="0.9"/>
<line x1="61.70" y1="359.85" x2="63.70" y2="359.85" stroke="#000" stroke-width="0.9"/>
<rect x="59.90" y="359.05" width="1.80" height="1.60" fill="#b0b0b0"/>
<line x1="62.30" y1="357.59" x2="63.70" y2="357.59" stroke="#000" stroke-width="0.9"/>
<line x1="62.30" y1="355.32" x2="63.70" y2="355.32" stroke="#000" stroke-width="0.9"/>
<line x1="62.30" y1="353.06" x2="63.70" y2="353.06" stroke="#000" stroke-width="0.9"/>
<line x1="61.70" y1="350.80" x2="63.70" y2="350.80" stroke="#000" stroke-width="0.9"/>
<rect x="59.90" y="350.00" width="1.80" height="1.60" fill="#b0b0b0"/>
<line x1="62.30" y1="348.54" x2="63.70" y2="348.54" stroke="#000" stroke-width="0.9"/>
<line x1="62.30" y1="346.27" x2="63.70" y2="346.27" stroke="#000" stroke-width="0.9"/>
<line x1="62.30" y1="344.01" x2="63.70" y2="344.01" stroke="#000" stroke-width="0.9"/>
<line x1="61.70" y1="341.75" x2="63.70" y2="341.75" stroke="#000" stroke-width="0.9"/>
<rect x="59.90" y="340.95" width="1.80" height="1.60" fill="#b0b0b0"/>
<rect x="63.70" y="387.00" width="46.90" height="1.20" fill="#555"/>
<line x1="63.70" y1="387.00" x2="63.70" y2="390.00" stroke="#111" stroke-width="0.8"/>
<line x1="66.05" y1="387.00" x2="66.05" y2="389.12" stroke="#111" stroke-width="0.8"/>
<line x1="68.39" y1="387.00" x2="68.39" y2="389.50" stroke="#111" stroke-width="0.8"/>
<line x1="70.73" y1="387.00" x2="70.73" y2="388.99" stroke="#111" stroke-width="0.8"/>
<line x1="73.08" y1="387.00" x2="73.08" y2="390.00" stroke="#111" stroke-width="0.8"/>
<line x1="75.42" y1="387.00" x2="75.42" y2="389.53" stroke="#111" stroke-width="0.8"/>
<line x1="77.77" y1="387.00" x2="77.77" y2="389.57" stroke="#111" stroke-width="0.8"/>
<line x1="80.12" y1="387.00" x2="80.12" y2="388.63" stroke="#111" stroke-width="0.8"/>
<line x1="82.46" y1="387.00" x2="82.46" y2="390.00" stroke="#111" stroke-width="0.8"/>
<line x1="84.81" y1="387.00" x2="84.81" y2="389.43" stroke="#111" stroke-width="0.8"/>
<line x1="87.15" y1="387.00" x2="87.15" y2="389.44" stroke="#111" stroke-width="0.8"/>
<line x1="89.50" y1="387.00" x2="89.50" y2="389.20" stroke="#111" stroke-width="0.8"/>
<line x1="91.84" y1="387.00" x2="91.84" y2="390.00" stroke="#111" stroke-width="0.8"/>
<line x1="94.19" y1="387.00" x2="94.19" y2="388.73" stroke="#111" stroke-width="0.8"/>
<line x1="96.53" y1="387.00" x2="96.53" y2="388.88" stroke="#111" stroke-width="0.8"/>
<line x1="98.88" y1="387.00" x2="98.88" y2="388.85" stroke="#111" stroke-width="0.8"/>
<line x1="101.22" y1="387.00" x2="101.22" y2="390.00" stroke="#111" stroke-width="0.8"/>
<line x1="103.56" y1="387.00" x2="103.56" y2="389.24" stroke="#111" stroke-width="0.8"/>
<line x1="105.91" y1="387.00" x2="105.91" y2="389.30" stroke="#111" stroke-width="0.8"/>
<line x1="108.25" y1="387.00" x2="108.25" y2="388.85" stroke="#111" stroke-width="0.8"/>
<line x1="110.60" y1="387.00" x2="110.60" y2="390.00" stroke="#111" stroke-width="0.8"/>
<rect x="63.70" y="340.00" width="46.90" height="47.00" fill="none" stroke="#1a1a1a" stroke-width="1.1"/>
<text x="107.70" y="347.10" font-size="5.5" fill="#b4475a" text-anchor="end" textLength="7.949999999999999" lengthAdjust="spacingAndGlyphs">317</text>
<text x="107.70" y="354.10" font-size="5.5" fill="#4b6797" text-anchor="end" textLength="7.949999999999999" lengthAdjust="spacingAndGlyphs">720</text>
<clipPath id="c763"><rect x="116.90" y="340.00" width="47.10" height="47.00"/></clipPath>
<path d="M120.03,388.00 L120.03,386.60 L120.70,385.39 L121.37,383.95 L122.04,382.36 L122.72,380.86 L123.39,379.08 L124.06,377.32 L124.82,373.88 L125.57,370.26 L126.33,370.61 L127.09,365.21 L128.09,358.15 L129.10,350.09 L130.11,347.06 L131.12,345.04 L131.93,343.03 L132.63,348.07 L133.64,345.04 L134.35,350.09 L135.15,351.09 L136.16,355.13 L137.17,357.15 L138.18,360.17 L139.19,366.22 L140.20,372.27 L141.21,377.32 L142.21,381.35 L143.22,385.39 L144.23,386.60 L144.23,388.00 Z" fill="#a33446" stroke="none" stroke-width="1" clip-path="url(#c763)"/>
<path d="M117.50,387.20 L121.03,387.20 L125.07,385.89 L127.09,384.38 L128.60,381.35 L129.61,377.32 L130.62,370.26 L131.32,362.19 L131.93,354.12 L132.33,348.07 L132.94,345.04 L133.64,344.03 L134.35,343.03 L134.95,343.03 L135.46,348.07 L135.96,355.13 L136.47,362.19 L136.97,368.24 L137.68,374.29 L138.68,378.33 L139.69,380.34 L140.70,381.35 L141.71,380.34 L142.72,379.33 L143.73,379.84 L144.74,381.35 L145.74,383.37 L146.75,385.39 L147.76,387.20 L164.00,387.20" fill="none" stroke="#3b5b8e" stroke-width="1.2" clip-path="url(#c763)" stroke-linejoin="round"/>
<line x1="114.90" y1="387.00" x2="116.90" y2="387.00" stroke="#000" stroke-width="0.9"/>
<line x1="115.50" y1="384.74" x2="116.90" y2="384.74" stroke="#000" stroke-width="0.9"/>
<line x1="115.50" y1="382.48" x2="116.90" y2="382.48" stroke="#000" stroke-width="0.9"/>
<line x1="115.50" y1="380.21" x2="116.90" y2="380.21" stroke="#000" stroke-width="0.9"/>
<line x1="114.90" y1="377.95" x2="116.90" y2="377.95" stroke="#000" stroke-width="0.9"/>
<rect x="113.10" y="377.15" width="1.80" height="1.60" fill="#b0b0b0"/>
<line x1="115.50" y1="375.69" x2="116.90" y2="375.69" stroke="#000" stroke-width="0.9"/>
<line x1="115.50" y1="373.43" x2="116.90" y2="373.43" stroke="#000" stroke-width="0.9"/>
<line x1="115.50" y1="371.16" x2="116.90" y2="371.16" stroke="#000" stroke-width="0.9"/>
<line x1="114.90" y1="368.90" x2="116.90" y2="368.90" stroke="#000" stroke-width="0.9"/>
<rect x="113.10" y="368.10" width="1.80" height="1.60" fill="#b0b0b0"/>
<line x1="115.50" y1="366.64" x2="116.90" y2="366.64" stroke="#000" stroke-width="0.9"/>
<line x1="115.50" y1="364.38" x2="116.90" y2="364.38" stroke="#000" stroke-width="0.9"/>
<line x1="115.50" y1="362.11" x2="116.90" y2="362.11" stroke="#000" stroke-width="0.9"/>
<line x1="114.90" y1="359.85" x2="116.90" y2="359.85" stroke="#000" stroke-width="0.9"/>
<rect x="113.10" y="359.05" width="1.80" height="1.60" fill="#b0b0b0"/>
<line x1="115.50" y1="357.59" x2="116.90" y2="357.59" stroke="#000" stroke-width="0.9"/>
<line x1="115.50" y1="355.32" x2="116.90" y2="355.32" stroke="#000" stroke-width="0.9"/>
<line x1="115.50" y1="353.06" x2="116.90" y2="353.06" stroke="#000" stroke-width="0.9"/>
<line x1="114.90" y1="350.80" x2="116.90" y2="350.80" stroke="#000" stroke-width="0.9"/>
<rect x="113.10" y="350.00" width="1.80" height="1.60" fill="#b0b0b0"/>
<line x1="115.50" y1="348.54" x2="116.90" y2="348.54" stroke="#000" stroke-width="0.9"/>
<line x1="115.50" y1="346.27" x2="116.90" y2="346.27" stroke="#000" stroke-width="0.9"/>
<line x1="115.50" y1="344.01" x2="116.90" y2="344.01" stroke="#000" stroke-width="0.9"/>
<line x1="114.90" y1="341.75" x2="116.90" y2="341.75" stroke="#000" stroke-width="0.9"/>
<rect x="113.10" y="340.95" width="1.80" height="1.60" fill="#b0b0b0"/>
<rect x="116.90" y="387.00" width="47.10" height="1.20" fill="#555"/>
<line x1="116.90" y1="387.00" x2="116.90" y2="390.00" stroke="#111" stroke-width="0.8"/>
<line x1="119.26" y1="387.00" x2="119.26" y2="389.36" stroke="#111" stroke-width="0.8"/>
<line x1="121.61" y1="387.00" x2="121.61" y2="388.67" stroke="#111" stroke-width="0.8"/>
<line x1="123.97" y1="387.00" x2="123.97" y2="389.01" stroke="#111" stroke-width="0.8"/>
<line x1="126.32" y1="387.00" x2="126.32" y2="390.00" stroke="#111" stroke-width="0.8"/>
<line x1="128.68" y1="387.00" x2="128.68" y2="388.95" stroke="#111" stroke-width="0.8"/>
<line x1="131.03" y1="387.00" x2="131.03" y2="388.80" stroke="#111" stroke-width="0.8"/>
<line x1="133.38" y1="387.00" x2="133.38" y2="389.47" stroke="#111" stroke-width="0.8"/>
<line x1="135.74" y1="387.00" x2="135.74" y2="390.00" stroke="#111" stroke-width="0.8"/>
<line x1="138.09" y1="387.00" x2="138.09" y2="389.16" stroke="#111" stroke-width="0.8"/>
<line x1="140.45" y1="387.00" x2="140.45" y2="388.93" stroke="#111" stroke-width="0.8"/>
<line x1="142.81" y1="387.00" x2="142.81" y2="389.50" stroke="#111" stroke-width="0.8"/>
<line x1="145.16" y1="387.00" x2="145.16" y2="390.00" stroke="#111" stroke-width="0.8"/>
<line x1="147.52" y1="387.00" x2="147.52" y2="389.22" stroke="#111" stroke-width="0.8"/>
<line x1="149.87" y1="387.00" x2="149.87" y2="388.97" stroke="#111" stroke-width="0.8"/>
<line x1="152.22" y1="387.00" x2="152.22" y2="389.50" stroke="#111" stroke-width="0.8"/>
<line x1="154.58" y1="387.00" x2="154.58" y2="390.00" stroke="#111" stroke-width="0.8"/>
<line x1="156.94" y1="387.00" x2="156.94" y2="389.37" stroke="#111" stroke-width="0.8"/>
<line x1="159.29" y1="387.00" x2="159.29" y2="388.75" stroke="#111" stroke-width="0.8"/>
<line x1="161.64" y1="387.00" x2="161.64" y2="388.67" stroke="#111" stroke-width="0.8"/>
<line x1="164.00" y1="387.00" x2="164.00" y2="390.00" stroke="#111" stroke-width="0.8"/>
<rect x="116.90" y="340.00" width="47.10" height="47.00" fill="none" stroke="#1a1a1a" stroke-width="1.1"/>
<text x="161.10" y="347.10" font-size="5.5" fill="#b4475a" text-anchor="end" textLength="7.949999999999999" lengthAdjust="spacingAndGlyphs">368</text>
<text x="161.10" y="354.10" font-size="5.5" fill="#4b6797" text-anchor="end" textLength="7.949999999999999" lengthAdjust="spacingAndGlyphs">582</text>
<clipPath id="c817"><rect x="10.40" y="393.30" width="46.80" height="46.80"/></clipPath>
<path d="M12.02,441.10 L12.02,439.60 L12.65,439.05 L13.28,438.49 L13.91,437.96 L14.54,437.38 L15.17,436.82 L15.80,436.01 L16.43,435.26 L17.06,434.35 L17.82,432.64 L18.57,430.32 L19.58,424.27 L20.59,416.20 L21.60,408.13 L22.30,402.08 L23.11,397.03 L23.82,399.05 L24.42,404.09 L25.13,411.15 L25.83,418.21 L26.64,424.27 L27.65,428.30 L28.41,429.98 L29.16,431.33 L29.84,432.42 L30.51,432.84 L31.18,433.34 L31.85,434.10 L32.53,434.95 L33.20,435.36 L33.87,436.20 L34.54,437.13 L35.21,437.88 L35.97,438.74 L36.73,439.60 L36.73,441.10 Z" fill="#a33446" stroke="none" stroke-width="1" clip-path="url(#c817)"/>
<path d="M10.50,440.20 L21.09,440.20 L25.13,438.89 L28.15,437.38 L30.17,435.36 L31.68,432.33 L32.69,426.28 L33.40,421.24 L34.00,417.21 L34.71,411.15 L35.42,405.10 L36.02,401.07 L36.73,397.03 L37.43,395.52 L38.04,397.03 L38.74,401.07 L39.45,407.12 L40.06,413.17 L40.66,419.22 L41.27,425.27 L42.07,431.33 L43.08,436.37 L44.29,440.20 L57.00,440.20" fill="none" stroke="#3b5b8e" stroke-width="1.2" clip-path="url(#c817)" stroke-linejoin="round"/>
<line x1="8.40" y1="440.10" x2="10.40" y2="440.10" stroke="#000" stroke-width="0.9"/>
<line x1="9.00" y1="437.84" x2="10.40" y2="437.84" stroke="#000" stroke-width="0.9"/>
<line x1="9.00" y1="435.58" x2="10.40" y2="435.58" stroke="#000" stroke-width="0.9"/>
<line x1="9.00" y1="433.31" x2="10.40" y2="433.31" stroke="#000" stroke-width="0.9"/>
<line x1="8.40" y1="431.05" x2="10.40" y2="431.05" stroke="#000" stroke-width="0.9"/>
<rect x="6.60" y="430.25" width="1.80" height="1.60" fill="#b0b0b0"/>
<line x1="9.00" y1="428.79" x2="10.40" y2="428.79" stroke="#000" stroke-width="0.9"/>
<line x1="9.00" y1="426.53" x2="10.40" y2="426.53" stroke="#000" stroke-width="0.9"/>
<line x1="9.00" y1="424.26" x2="10.40" y2="424.26" stroke="#000" stroke-width="0.9"/>
<line x1="8.40" y1="422.00" x2="10.40" y2="422.00" stroke="#000" stroke-width="0.9"/>
<rect x="6.60" y="421.20" width="1.80" height="1.60" fill="#b0b0b0"/>
<line x1="9.00" y1="419.74" x2="10.40" y2="419.74" stroke="#000" stroke-width="0.9"/>
<line x1="9.00" y1="417.48" x2="10.40" y2="417.48" stroke="#000" stroke-width="0.9"/>
<line x1="9.00" y1="415.21" x2="10.40" y2="415.21" stroke="#000" stroke-width="0.9"/>
<line x1="8.40" y1="412.95" x2="10.40" y2="412.95" stroke="#000" stroke-width="0.9"/>
<rect x="6.60" y="412.15" width="1.80" height="1.60" fill="#b0b0b0"/>
<line x1="9.00" y1="410.69" x2="10.40" y2="410.69" stroke="#000" stroke-width="0.9"/>
<line x1="9.00" y1="408.43" x2="10.40" y2="408.43" stroke="#000" stroke-width="0.9"/>
<line x1="9.00" y1="406.16" x2="10.40" y2="406.16" stroke="#000" stroke-width="0.9"/>
<line x1="8.40" y1="403.90" x2="10.40" y2="403.90" stroke="#000" stroke-width="0.9"/>
<rect x="6.60" y="403.10" width="1.80" height="1.60" fill="#b0b0b0"/>
<line x1="9.00" y1="401.64" x2="10.40" y2="401.64" stroke="#000" stroke-width="0.9"/>
<line x1="9.00" y1="399.38" x2="10.40" y2="399.38" stroke="#000" stroke-width="0.9"/>
<line x1="9.00" y1="397.11" x2="10.40" y2="397.11" stroke="#000" stroke-width="0.9"/>
<line x1="8.40" y1="394.85" x2="10.40" y2="394.85" stroke="#000" stroke-width="0.9"/>
<rect x="6.60" y="394.05" width="1.80" height="1.60" fill="#b0b0b0"/>
<rect x="10.40" y="440.10" width="46.80" height="1.20" fill="#555"/>
<line x1="10.40" y1="440.10" x2="10.40" y2="443.10" stroke="#111" stroke-width="0.8"/>
<line x1="12.74" y1="440.10" x2="12.74" y2="442.60" stroke="#111" stroke-width="0.8"/>
<line x1="15.08" y1="440.10" x2="15.08" y2="441.82" stroke="#111" stroke-width="0.8"/>
<line x1="17.42" y1="440.10" x2="17.42" y2="441.89" stroke="#111" stroke-width="0.8"/>
<line x1="19.76" y1="440.10" x2="19.76" y2="443.10" stroke="#111" stroke-width="0.8"/>
<line x1="22.10" y1="440.10" x2="22.10" y2="442.69" stroke="#111" stroke-width="0.8"/>
<line x1="24.44" y1="440.10" x2="24.44" y2="441.85" stroke="#111" stroke-width="0.8"/>
<line x1="26.78" y1="440.10" x2="26.78" y2="441.83" stroke="#111" stroke-width="0.8"/>
<line x1="29.12" y1="440.10" x2="29.12" y2="443.10" stroke="#111" stroke-width="0.8"/>
<line x1="31.46" y1="440.10" x2="31.46" y2="442.22" stroke="#111" stroke-width="0.8"/>
<line x1="33.80" y1="440.10" x2="33.80" y2="442.48" stroke="#111" stroke-width="0.8"/>
<line x1="36.14" y1="440.10" x2="36.14" y2="442.41" stroke="#111" stroke-width="0.8"/>
<line x1="38.48" y1="440.10" x2="38.48" y2="443.10" stroke="#111" stroke-width="0.8"/>
<line x1="40.82" y1="440.10" x2="40.82" y2="442.05" stroke="#111" stroke-width="0.8"/>
<line x1="43.16" y1="440.10" x2="43.16" y2="442.10" stroke="#111" stroke-width="0.8"/>
<line x1="45.50" y1="440.10" x2="45.50" y2="442.14" stroke="#111" stroke-width="0.8"/>
<line x1="47.84" y1="440.10" x2="47.84" y2="443.10" stroke="#111" stroke-width="0.8"/>
<line x1="50.18" y1="440.10" x2="50.18" y2="441.82" stroke="#111" stroke-width="0.8"/>
<line x1="52.52" y1="440.10" x2="52.52" y2="442.10" stroke="#111" stroke-width="0.8"/>
<line x1="54.86" y1="440.10" x2="54.86" y2="442.56" stroke="#111" stroke-width="0.8"/>
<line x1="57.20" y1="440.10" x2="57.20" y2="443.10" stroke="#111" stroke-width="0.8"/>
<rect x="10.40" y="393.30" width="46.80" height="46.80" fill="none" stroke="#1a1a1a" stroke-width="1.1"/>
<text x="54.30" y="400.40" font-size="5.5" fill="#b4475a" text-anchor="end" textLength="7.949999999999999" lengthAdjust="spacingAndGlyphs">210</text>
<text x="54.30" y="407.40" font-size="5.5" fill="#4b6797" text-anchor="end" textLength="10.6" lengthAdjust="spacingAndGlyphs">3222</text>
<clipPath id="c871"><rect x="63.70" y="393.30" width="46.90" height="46.80"/></clipPath>
<path d="M65.02,441.10 L65.02,439.60 L65.69,438.98 L66.36,438.21 L67.03,437.38 L67.71,436.14 L68.38,434.74 L69.05,433.34 L69.81,429.38 L70.56,425.27 L71.57,421.24 L72.58,416.20 L73.59,405.10 L74.60,401.07 L75.61,397.03 L76.62,400.06 L77.62,403.09 L78.63,410.15 L79.64,417.21 L80.35,421.24 L81.15,413.17 L82.16,410.15 L83.17,407.12 L84.18,400.06 L84.99,403.09 L85.69,408.13 L86.70,413.17 L87.71,423.26 L88.72,431.33 L89.73,436.37 L90.74,439.60 L90.74,441.10 Z" fill="#a33446" stroke="none" stroke-width="1" clip-path="url(#c871)"/>
<path d="M63.50,440.20 L69.05,440.20 L73.09,440.20 L76.11,437.88 L78.13,435.36 L80.15,432.33 L81.66,429.31 L82.67,425.27 L83.68,420.23 L84.68,415.19 L85.69,410.15 L86.40,406.11 L87.21,401.07 L88.01,404.09 L88.72,399.05 L89.42,396.03 L90.03,401.07 L90.74,406.11 L91.44,409.14 L92.25,413.17 L92.95,418.21 L93.76,422.25 L94.47,426.28 L95.27,430.32 L96.28,432.33 L97.29,434.35 L98.30,436.37 L99.31,438.39 L100.32,440.20 L110.00,440.20" fill="none" stroke="#3b5b8e" stroke-width="1.2" clip-path="url(#c871)" stroke-linejoin="round"/>
<line x1="61.70" y1="440.10" x2="63.70" y2="440.10" stroke="#000" stroke-width="0.9"/>
<line x1="62.30" y1="437.84" x2="63.70" y2="437.84" stroke="#000" stroke-width="0.9"/>
<line x1="62.30" y1="435.58" x2="63.70" y2="435.58" stroke="#000" stroke-width="0.9"/>
<line x1="62.30" y1="433.31" x2="63.70" y2="433.31" stroke="#000" stroke-width="0.9"/>
<line x1="61.70" y1="431.05" x2="63.70" y2="431.05" stroke="#000" stroke-width="0.9"/>
<rect x="59.90" y="430.25" width="1.80" height="1.60" fill="#b0b0b0"/>
<line x1="62.30" y1="428.79" x2="63.70" y2="428.79" stroke="#000" stroke-width="0.9"/>
<line x1="62.30" y1="426.53" x2="63.70" y2="426.53" stroke="#000" stroke-width="0.9"/>
<line x1="62.30" y1="424.26" x2="63.70" y2="424.26" stroke="#000" stroke-width="0.9"/>
<line x1="61.70" y1="422.00" x2="63.70" y2="422.00" stroke="#000" stroke-width="0.9"/>
<rect x="59.90" y="421.20" width="1.80" height="1.60" fill="#b0b0b0"/>
<line x1="62.30" y1="419.74" x2="63.70" y2="419.74" stroke="#000" stroke-width="0.9"/>
<line x1="62.30" y1="417.48" x2="63.70" y2="417.48" stroke="#000" stroke-width="0.9"/>
<line x1="62.30" y1="415.21" x2="63.70" y2="415.21" stroke="#000" stroke-width="0.9"/>
<line x1="61.70" y1="412.95" x2="63.70" y2="412.95" stroke="#000" stroke-width="0.9"/>
<rect x="59.90" y="412.15" width="1.80" height="1.60" fill="#b0b0b0"/>
<line x1="62.30" y1="410.69" x2="63.70" y2="410.69" stroke="#000" stroke-width="0.9"/>
<line x1="62.30" y1="408.43" x2="63.70" y2="408.43" stroke="#000" stroke-width="0.9"/>
<line x1="62.30" y1="406.16" x2="63.70" y2="406.16" stroke="#000" stroke-width="0.9"/>
<line x1="61.70" y1="403.90" x2="63.70" y2="403.90" stroke="#000" stroke-width="0.9"/>
<rect x="59.90" y="403.10" width="1.80" height="1.60" fill="#b0b0b0"/>
<line x1="62.30" y1="401.64" x2="63.70" y2="401.64" stroke="#000" stroke-width="0.9"/>
<line x1="62.30" y1="399.38" x2="63.70" y2="399.38" stroke="#000" stroke-width="0.9"/>
<line x1="62.30" y1="397.11" x2="63.70" y2="397.11" stroke="#000" stroke-width="0.9"/>
<line x1="61.70" y1="394.85" x2="63.70" y2="394.85" stroke="#000" stroke-width="0.9"/>
<rect x="59.90" y="394.05" width="1.80" height="1.60" fill="#b0b0b0"/>
<rect x="63.70" y="440.10" width="46.90" height="1.20" fill="#555"/>
<line x1="63.70" y1="440.10" x2="63.70" y2="443.10" stroke="#111" stroke-width="0.8"/>
<line x1="66.05" y1="440.10" x2="66.05" y2="442.32" stroke="#111" stroke-width="0.8"/>
<line x1="68.39" y1="440.10" x2="68.39" y2="441.81" stroke="#111" stroke-width="0.8"/>
<line x1="70.73" y1="440.10" x2="70.73" y2="441.98" stroke="#111" stroke-width="0.8"/>
<line x1="73.08" y1="440.10" x2="73.08" y2="443.10" stroke="#111" stroke-width="0.8"/>
<line x1="75.42" y1="440.10" x2="75.42" y2="441.91" stroke="#111" stroke-width="0.8"/>
<line x1="77.77" y1="440.10" x2="77.77" y2="442.37" stroke="#111" stroke-width="0.8"/>
<line x1="80.12" y1="440.10" x2="80.12" y2="442.54" stroke="#111" stroke-width="0.8"/>
<line x1="82.46" y1="440.10" x2="82.46" y2="443.10" stroke="#111" stroke-width="0.8"/>
<line x1="84.81" y1="440.10" x2="84.81" y2="442.32" stroke="#111" stroke-width="0.8"/>
<line x1="87.15" y1="440.10" x2="87.15" y2="442.58" stroke="#111" stroke-width="0.8"/>
<line x1="89.50" y1="440.10" x2="89.50" y2="442.57" stroke="#111" stroke-width="0.8"/>
<line x1="91.84" y1="440.10" x2="91.84" y2="443.10" stroke="#111" stroke-width="0.8"/>
<line x1="94.19" y1="440.10" x2="94.19" y2="442.53" stroke="#111" stroke-width="0.8"/>
<line x1="96.53" y1="440.10" x2="96.53" y2="442.20" stroke="#111" stroke-width="0.8"/>
<line x1="98.88" y1="440.10" x2="98.88" y2="441.72" stroke="#111" stroke-width="0.8"/>
<line x1="101.22" y1="440.10" x2="101.22" y2="443.10" stroke="#111" stroke-width="0.8"/>
<line x1="103.56" y1="440.10" x2="103.56" y2="442.51" stroke="#111" stroke-width="0.8"/>
<line x1="105.91" y1="440.10" x2="105.91" y2="442.03" stroke="#111" stroke-width="0.8"/>
<line x1="108.25" y1="440.10" x2="108.25" y2="441.74" stroke="#111" stroke-width="0.8"/>
<line x1="110.60" y1="440.10" x2="110.60" y2="443.10" stroke="#111" stroke-width="0.8"/>
<rect x="63.70" y="393.30" width="46.90" height="46.80" fill="none" stroke="#1a1a1a" stroke-width="1.1"/>
<text x="107.70" y="400.40" font-size="5.5" fill="#b4475a" text-anchor="end" textLength="7.949999999999999" lengthAdjust="spacingAndGlyphs">331</text>
<text x="107.70" y="407.40" font-size="5.5" fill="#4b6797" text-anchor="end" textLength="10.6" lengthAdjust="spacingAndGlyphs">2166</text>
<clipPath id="c925"><rect x="116.90" y="393.30" width="47.10" height="46.80"/></clipPath>
<path d="M119.02,441.10 L119.02,439.60 L119.69,438.87 L120.36,438.29 L121.03,437.38 L121.71,436.31 L122.38,434.71 L123.05,433.34 L123.72,433.11 L124.40,430.90 L125.07,429.31 L125.83,428.00 L126.58,423.26 L127.59,416.20 L128.60,408.13 L129.61,397.03 L130.62,399.05 L131.62,397.03 L132.63,403.09 L133.64,399.05 L134.65,406.11 L135.66,408.13 L136.67,404.09 L137.68,403.09 L138.38,408.13 L139.19,413.17 L140.20,421.24 L141.21,428.30 L142.21,435.36 L143.02,439.60 L143.02,441.10 Z" fill="#a33446" stroke="none" stroke-width="1" clip-path="url(#c925)"/>
<path d="M117.50,440.20 L121.03,440.20 L125.07,438.89 L128.09,436.37 L130.11,433.34 L131.62,428.30 L132.63,424.27 L133.44,420.23 L134.15,418.21 L134.65,419.22 L135.36,421.24 L136.16,423.26 L136.97,425.27 L137.68,426.28 L138.38,424.27 L139.19,421.24 L140.20,416.20 L141.21,411.15 L142.21,405.10 L143.02,400.06 L143.73,397.03 L144.43,396.03 L145.04,398.04 L145.74,403.09 L146.75,410.15 L147.76,417.21 L148.77,423.26 L149.78,430.32 L150.79,435.36 L151.80,440.20 L164.00,440.20" fill="none" stroke="#3b5b8e" stroke-width="1.2" clip-path="url(#c925)" stroke-linejoin="round"/>
<line x1="114.90" y1="440.10" x2="116.90" y2="440.10" stroke="#000" stroke-width="0.9"/>
<line x1="115.50" y1="437.84" x2="116.90" y2="437.84" stroke="#000" stroke-width="0.9"/>
<line x1="115.50" y1="435.58" x2="116.90" y2="435.58" stroke="#000" stroke-width="0.9"/>
<line x1="115.50" y1="433.31" x2="116.90" y2="433.31" stroke="#000" stroke-width="0.9"/>
<line x1="114.90" y1="431.05" x2="116.90" y2="431.05" stroke="#000" stroke-width="0.9"/>
<rect x="113.10" y="430.25" width="1.80" height="1.60" fill="#b0b0b0"/>
<line x1="115.50" y1="428.79" x2="116.90" y2="428.79" stroke="#000" stroke-width="0.9"/>
<line x1="115.50" y1="426.53" x2="116.90" y2="426.53" stroke="#000" stroke-width="0.9"/>
<line x1="115.50" y1="424.26" x2="116.90" y2="424.26" stroke="#000" stroke-width="0.9"/>
<line x1="114.90" y1="422.00" x2="116.90" y2="422.00" stroke="#000" stroke-width="0.9"/>
<rect x="113.10" y="421.20" width="1.80" height="1.60" fill="#b0b0b0"/>
<line x1="115.50" y1="419.74" x2="116.90" y2="419.74" stroke="#000" stroke-width="0.9"/>
<line x1="115.50" y1="417.48" x2="116.90" y2="417.48" stroke="#000" stroke-width="0.9"/>
<line x1="115.50" y1="415.21" x2="116.90" y2="415.21" stroke="#000" stroke-width="0.9"/>
<line x1="114.90" y1="412.95" x2="116.90" y2="412.95" stroke="#000" stroke-width="0.9"/>
<rect x="113.10" y="412.15" width="1.80" height="1.60" fill="#b0b0b0"/>
<line x1="115.50" y1="410.69" x2="116.90" y2="410.69" stroke="#000" stroke-width="0.9"/>
<line x1="115.50" y1="408.43" x2="116.90" y2="408.43" stroke="#000" stroke-width="0.9"/>
<line x1="115.50" y1="406.16" x2="116.90" y2="406.16" stroke="#000" stroke-width="0.9"/>
<line x1="114.90" y1="403.90" x2="116.90" y2="403.90" stroke="#000" stroke-width="0.9"/>
<rect x="113.10" y="403.10" width="1.80" height="1.60" fill="#b0b0b0"/>
<line x1="115.50" y1="401.64" x2="116.90" y2="401.64" stroke="#000" stroke-width="0.9"/>
<line x1="115.50" y1="399.38" x2="116.90" y2="399.38" stroke="#000" stroke-width="0.9"/>
<line x1="115.50" y1="397.11" x2="116.90" y2="397.11" stroke="#000" stroke-width="0.9"/>
<line x1="114.90" y1="394.85" x2="116.90" y2="394.85" stroke="#000" stroke-width="0.9"/>
<rect x="113.10" y="394.05" width="1.80" height="1.60" fill="#b0b0b0"/>
<rect x="116.90" y="440.10" width="47.10" height="1.20" fill="#555"/>
<line x1="116.90" y1="440.10" x2="116.90" y2="443.10" stroke="#111" stroke-width="0.8"/>
<line x1="119.26" y1="440.10" x2="119.26" y2="441.99" stroke="#111" stroke-width="0.8"/>
<line x1="121.61" y1="440.10" x2="121.61" y2="442.34" stroke="#111" stroke-width="0.8"/>
<line x1="123.97" y1="440.10" x2="123.97" y2="442.17" stroke="#111" stroke-width="0.8"/>
<line x1="126.32" y1="440.10" x2="126.32" y2="443.10" stroke="#111" stroke-width="0.8"/>
<line x1="128.68" y1="440.10" x2="128.68" y2="441.96" stroke="#111" stroke-width="0.8"/>
<line x1="131.03" y1="440.10" x2="131.03" y2="442.70" stroke="#111" stroke-width="0.8"/>
<line x1="133.38" y1="440.10" x2="133.38" y2="441.79" stroke="#111" stroke-width="0.8"/>
<line x1="135.74" y1="440.10" x2="135.74" y2="443.10" stroke="#111" stroke-width="0.8"/>
<line x1="138.09" y1="440.10" x2="138.09" y2="442.25" stroke="#111" stroke-width="0.8"/>
<line x1="140.45" y1="440.10" x2="140.45" y2="441.82" stroke="#111" stroke-width="0.8"/>
<line x1="142.81" y1="440.10" x2="142.81" y2="442.06" stroke="#111" stroke-width="0.8"/>
<line x1="145.16" y1="440.10" x2="145.16" y2="443.10" stroke="#111" stroke-width="0.8"/>
<line x1="147.52" y1="440.10" x2="147.52" y2="442.08" stroke="#111" stroke-width="0.8"/>
<line x1="149.87" y1="440.10" x2="149.87" y2="441.86" stroke="#111" stroke-width="0.8"/>
<line x1="152.22" y1="440.10" x2="152.22" y2="441.99" stroke="#111" stroke-width="0.8"/>
<line x1="154.58" y1="440.10" x2="154.58" y2="443.10" stroke="#111" stroke-width="0.8"/>
<line x1="156.94" y1="440.10" x2="156.94" y2="442.46" stroke="#111" stroke-width="0.8"/>
<line x1="159.29" y1="440.10" x2="159.29" y2="441.96" stroke="#111" stroke-width="0.8"/>
<line x1="161.64" y1="440.10" x2="161.64" y2="442.16" stroke="#111" stroke-width="0.8"/>
<line x1="164.00" y1="440.10" x2="164.00" y2="443.10" stroke="#111" stroke-width="0.8"/>
<rect x="116.90" y="393.30" width="47.10" height="46.80" fill="none" stroke="#1a1a1a" stroke-width="1.1"/>
<text x="161.10" y="400.40" font-size="5.5" fill="#b4475a" text-anchor="end" textLength="7.949999999999999" lengthAdjust="spacingAndGlyphs">365</text>
<text x="161.10" y="407.40" font-size="5.5" fill="#4b6797" text-anchor="end" textLength="10.6" lengthAdjust="spacingAndGlyphs">1881</text>
<clipPath id="c979"><rect x="182.20" y="340.00" width="47.30" height="47.00"/></clipPath>
<path d="M188.05,388.00 L188.05,386.60 L188.72,385.52 L189.40,384.45 L190.07,383.37 L190.74,381.74 L191.41,380.33 L192.09,378.33 L192.84,374.67 L193.60,370.26 L194.61,362.19 L195.62,354.12 L196.62,348.07 L197.33,344.03 L198.14,345.04 L198.94,347.06 L199.65,350.09 L200.36,356.14 L201.16,363.20 L202.17,370.26 L203.18,376.31 L204.19,381.35 L205.20,384.38 L206.21,386.60 L206.21,388.00 Z" fill="#a33446" stroke="none" stroke-width="1" clip-path="url(#c979)"/>
<path d="M182.50,387.20 L188.05,387.20 L190.07,384.38 L192.09,380.34 L193.60,372.27 L194.61,364.21 L195.62,355.13 L196.62,348.07 L197.33,343.03 L198.14,342.52 L199.15,343.03 L200.15,344.03 L200.76,348.07 L201.36,354.12 L201.97,360.17 L202.68,366.22 L203.38,371.27 L204.39,375.30 L205.70,376.31 L207.21,377.82 L208.73,378.83 L210.24,380.34 L211.75,381.35 L213.27,382.86 L215.28,384.38 L217.30,385.89 L220.33,387.20 L224.36,387.20 L226.38,387.20 L229.00,387.20" fill="none" stroke="#3b5b8e" stroke-width="1.2" clip-path="url(#c979)" stroke-linejoin="round"/>
<line x1="180.20" y1="387.00" x2="182.20" y2="387.00" stroke="#000" stroke-width="0.9"/>
<line x1="180.80" y1="384.74" x2="182.20" y2="384.74" stroke="#000" stroke-width="0.9"/>
<line x1="180.80" y1="382.48" x2="182.20" y2="382.48" stroke="#000" stroke-width="0.9"/>
<line x1="180.80" y1="380.21" x2="182.20" y2="380.21" stroke="#000" stroke-width="0.9"/>
<line x1="180.20" y1="377.95" x2="182.20" y2="377.95" stroke="#000" stroke-width="0.9"/>
<rect x="178.40" y="377.15" width="1.80" height="1.60" fill="#b0b0b0"/>
<line x1="180.80" y1="375.69" x2="182.20" y2="375.69" stroke="#000" stroke-width="0.9"/>
<line x1="180.80" y1="373.43" x2="182.20" y2="373.43" stroke="#000" stroke-width="0.9"/>
<line x1="180.80" y1="371.16" x2="182.20" y2="371.16" stroke="#000" stroke-width="0.9"/>
<line x1="180.20" y1="368.90" x2="182.20" y2="368.90" stroke="#000" stroke-width="0.9"/>
<rect x="178.40" y="368.10" width="1.80" height="1.60" fill="#b0b0b0"/>
<line x1="180.80" y1="366.64" x2="182.20" y2="366.64" stroke="#000" stroke-width="0.9"/>
<line x1="180.80" y1="364.38" x2="182.20" y2="364.38" stroke="#000" stroke-width="0.9"/>
<line x1="180.80" y1="362.11" x2="182.20" y2="362.11" stroke="#000" stroke-width="0.9"/>
<line x1="180.20" y1="359.85" x2="182.20" y2="359.85" stroke="#000" stroke-width="0.9"/>
<rect x="178.40" y="359.05" width="1.80" height="1.60" fill="#b0b0b0"/>
<line x1="180.80" y1="357.59" x2="182.20" y2="357.59" stroke="#000" stroke-width="0.9"/>
<line x1="180.80" y1="355.32" x2="182.20" y2="355.32" stroke="#000" stroke-width="0.9"/>
<line x1="180.80" y1="353.06" x2="182.20" y2="353.06" stroke="#000" stroke-width="0.9"/>
<line x1="180.20" y1="350.80" x2="182.20" y2="350.80" stroke="#000" stroke-width="0.9"/>
<rect x="178.40" y="350.00" width="1.80" height="1.60" fill="#b0b0b0"/>
<line x1="180.80" y1="348.54" x2="182.20" y2="348.54" stroke="#000" stroke-width="0.9"/>
<line x1="180.80" y1="346.27" x2="182.20" y2="346.27" stroke="#000" stroke-width="0.9"/>
<line x1="180.80" y1="344.01" x2="182.20" y2="344.01" stroke="#000" stroke-width="0.9"/>
<line x1="180.20" y1="341.75" x2="182.20" y2="341.75" stroke="#000" stroke-width="0.9"/>
<rect x="178.40" y="340.95" width="1.80" height="1.60" fill="#b0b0b0"/>
<rect x="182.20" y="387.00" width="47.30" height="1.20" fill="#555"/>
<line x1="182.20" y1="387.00" x2="182.20" y2="390.00" stroke="#111" stroke-width="0.8"/>
<line x1="184.56" y1="387.00" x2="184.56" y2="388.95" stroke="#111" stroke-width="0.8"/>
<line x1="186.93" y1="387.00" x2="186.93" y2="389.34" stroke="#111" stroke-width="0.8"/>
<line x1="189.29" y1="387.00" x2="189.29" y2="389.11" stroke="#111" stroke-width="0.8"/>
<line x1="191.66" y1="387.00" x2="191.66" y2="390.00" stroke="#111" stroke-width="0.8"/>
<line x1="194.02" y1="387.00" x2="194.02" y2="388.87" stroke="#111" stroke-width="0.8"/>
<line x1="196.39" y1="387.00" x2="196.39" y2="388.62" stroke="#111" stroke-width="0.8"/>
<line x1="198.75" y1="387.00" x2="198.75" y2="389.45" stroke="#111" stroke-width="0.8"/>
<line x1="201.12" y1="387.00" x2="201.12" y2="390.00" stroke="#111" stroke-width="0.8"/>
<line x1="203.48" y1="387.00" x2="203.48" y2="389.30" stroke="#111" stroke-width="0.8"/>
<line x1="205.85" y1="387.00" x2="205.85" y2="389.12" stroke="#111" stroke-width="0.8"/>
<line x1="208.22" y1="387.00" x2="208.22" y2="388.76" stroke="#111" stroke-width="0.8"/>
<line x1="210.58" y1="387.00" x2="210.58" y2="390.00" stroke="#111" stroke-width="0.8"/>
<line x1="212.94" y1="387.00" x2="212.94" y2="388.99" stroke="#111" stroke-width="0.8"/>
<line x1="215.31" y1="387.00" x2="215.31" y2="388.80" stroke="#111" stroke-width="0.8"/>
<line x1="217.68" y1="387.00" x2="217.68" y2="388.78" stroke="#111" stroke-width="0.8"/>
<line x1="220.04" y1="387.00" x2="220.04" y2="390.00" stroke="#111" stroke-width="0.8"/>
<line x1="222.41" y1="387.00" x2="222.41" y2="389.43" stroke="#111" stroke-width="0.8"/>
<line x1="224.77" y1="387.00" x2="224.77" y2="388.69" stroke="#111" stroke-width="0.8"/>
<line x1="227.13" y1="387.00" x2="227.13" y2="389.04" stroke="#111" stroke-width="0.8"/>
<line x1="229.50" y1="387.00" x2="229.50" y2="390.00" stroke="#111" stroke-width="0.8"/>
<rect x="182.20" y="340.00" width="47.30" height="47.00" fill="none" stroke="#1a1a1a" stroke-width="1.1"/>
<text x="226.60" y="347.10" font-size="5.5" fill="#b4475a" text-anchor="end" textLength="7.949999999999999" lengthAdjust="spacingAndGlyphs">312</text>
<text x="226.60" y="354.10" font-size="5.5" fill="#4b6797" text-anchor="end" textLength="7.949999999999999" lengthAdjust="spacingAndGlyphs">563</text>
<clipPath id="c1033"><rect x="235.60" y="340.00" width="47.20" height="47.00"/></clipPath>
<path d="M243.07,388.00 L243.07,386.60 L243.74,385.89 L244.41,385.14 L245.09,384.38 L245.76,382.73 L246.43,381.03 L247.10,379.33 L247.86,375.32 L248.62,371.27 L249.62,362.19 L250.63,355.13 L251.64,351.09 L252.65,350.09 L253.66,343.03 L254.36,348.07 L255.17,352.10 L256.18,360.17 L257.19,368.24 L258.20,374.29 L259.21,379.33 L260.21,383.37 L260.97,384.72 L261.73,385.89 L262.48,386.25 L263.24,386.60 L263.24,388.00 Z" fill="#a33446" stroke="none" stroke-width="1" clip-path="url(#c1033)"/>
<path d="M235.50,387.20 L242.06,387.20 L245.09,384.38 L247.10,379.33 L248.31,372.27 L249.32,364.21 L250.33,356.14 L251.14,349.08 L251.94,346.05 L252.65,343.03 L253.36,342.52 L254.16,345.04 L254.97,348.07 L255.68,350.09 L256.38,355.13 L257.19,362.19 L258.00,368.24 L258.70,370.26 L259.71,374.29 L260.72,378.33 L261.73,381.35 L263.24,383.37 L265.26,384.38 L267.27,384.88 L269.29,385.39 L271.31,387.20 L282.00,387.20" fill="none" stroke="#3b5b8e" stroke-width="1.2" clip-path="url(#c1033)" stroke-linejoin="round"/>
<line x1="233.60" y1="387.00" x2="235.60" y2="387.00" stroke="#000" stroke-width="0.9"/>
<line x1="234.20" y1="384.74" x2="235.60" y2="384.74" stroke="#000" stroke-width="0.9"/>
<line x1="234.20" y1="382.48" x2="235.60" y2="382.48" stroke="#000" stroke-width="0.9"/>
<line x1="234.20" y1="380.21" x2="235.60" y2="380.21" stroke="#000" stroke-width="0.9"/>
<line x1="233.60" y1="377.95" x2="235.60" y2="377.95" stroke="#000" stroke-width="0.9"/>
<rect x="231.80" y="377.15" width="1.80" height="1.60" fill="#b0b0b0"/>
<line x1="234.20" y1="375.69" x2="235.60" y2="375.69" stroke="#000" stroke-width="0.9"/>
<line x1="234.20" y1="373.43" x2="235.60" y2="373.43" stroke="#000" stroke-width="0.9"/>
<line x1="234.20" y1="371.16" x2="235.60" y2="371.16" stroke="#000" stroke-width="0.9"/>
<line x1="233.60" y1="368.90" x2="235.60" y2="368.90" stroke="#000" stroke-width="0.9"/>
<rect x="231.80" y="368.10" width="1.80" height="1.60" fill="#b0b0b0"/>
<line x1="234.20" y1="366.64" x2="235.60" y2="366.64" stroke="#000" stroke-width="0.9"/>
<line x1="234.20" y1="364.38" x2="235.60" y2="364.38" stroke="#000" stroke-width="0.9"/>
<line x1="234.20" y1="362.11" x2="235.60" y2="362.11" stroke="#000" stroke-width="0.9"/>
<line x1="233.60" y1="359.85" x2="235.60" y2="359.85" stroke="#000" stroke-width="0.9"/>
<rect x="231.80" y="359.05" width="1.80" height="1.60" fill="#b0b0b0"/>
<line x1="234.20" y1="357.59" x2="235.60" y2="357.59" stroke="#000" stroke-width="0.9"/>
<line x1="234.20" y1="355.32" x2="235.60" y2="355.32" stroke="#000" stroke-width="0.9"/>
<line x1="234.20" y1="353.06" x2="235.60" y2="353.06" stroke="#000" stroke-width="0.9"/>
<line x1="233.60" y1="350.80" x2="235.60" y2="350.80" stroke="#000" stroke-width="0.9"/>
<rect x="231.80" y="350.00" width="1.80" height="1.60" fill="#b0b0b0"/>
<line x1="234.20" y1="348.54" x2="235.60" y2="348.54" stroke="#000" stroke-width="0.9"/>
<line x1="234.20" y1="346.27" x2="235.60" y2="346.27" stroke="#000" stroke-width="0.9"/>
<line x1="234.20" y1="344.01" x2="235.60" y2="344.01" stroke="#000" stroke-width="0.9"/>
<line x1="233.60" y1="341.75" x2="235.60" y2="341.75" stroke="#000" stroke-width="0.9"/>
<rect x="231.80" y="340.95" width="1.80" height="1.60" fill="#b0b0b0"/>
<rect x="235.60" y="387.00" width="47.20" height="1.20" fill="#555"/>
<line x1="235.60" y1="387.00" x2="235.60" y2="390.00" stroke="#111" stroke-width="0.8"/>
<line x1="237.96" y1="387.00" x2="237.96" y2="389.17" stroke="#111" stroke-width="0.8"/>
<line x1="240.32" y1="387.00" x2="240.32" y2="388.85" stroke="#111" stroke-width="0.8"/>
<line x1="242.68" y1="387.00" x2="242.68" y2="389.03" stroke="#111" stroke-width="0.8"/>
<line x1="245.04" y1="387.00" x2="245.04" y2="390.00" stroke="#111" stroke-width="0.8"/>
<line x1="247.40" y1="387.00" x2="247.40" y2="389.51" stroke="#111" stroke-width="0.8"/>
<line x1="249.76" y1="387.00" x2="249.76" y2="389.31" stroke="#111" stroke-width="0.8"/>
<line x1="252.12" y1="387.00" x2="252.12" y2="389.12" stroke="#111" stroke-width="0.8"/>
<line x1="254.48" y1="387.00" x2="254.48" y2="390.00" stroke="#111" stroke-width="0.8"/>
<line x1="256.84" y1="387.00" x2="256.84" y2="389.32" stroke="#111" stroke-width="0.8"/>
<line x1="259.20" y1="387.00" x2="259.20" y2="388.86" stroke="#111" stroke-width="0.8"/>
<line x1="261.56" y1="387.00" x2="261.56" y2="388.91" stroke="#111" stroke-width="0.8"/>
<line x1="263.92" y1="387.00" x2="263.92" y2="390.00" stroke="#111" stroke-width="0.8"/>
<line x1="266.28" y1="387.00" x2="266.28" y2="388.72" stroke="#111" stroke-width="0.8"/>
<line x1="268.64" y1="387.00" x2="268.64" y2="389.27" stroke="#111" stroke-width="0.8"/>
<line x1="271.00" y1="387.00" x2="271.00" y2="389.34" stroke="#111" stroke-width="0.8"/>
<line x1="273.36" y1="387.00" x2="273.36" y2="390.00" stroke="#111" stroke-width="0.8"/>
<line x1="275.72" y1="387.00" x2="275.72" y2="389.32" stroke="#111" stroke-width="0.8"/>
<line x1="278.08" y1="387.00" x2="278.08" y2="388.73" stroke="#111" stroke-width="0.8"/>
<line x1="280.44" y1="387.00" x2="280.44" y2="389.38" stroke="#111" stroke-width="0.8"/>
<line x1="282.80" y1="387.00" x2="282.80" y2="390.00" stroke="#111" stroke-width="0.8"/>
<rect x="235.60" y="340.00" width="47.20" height="47.00" fill="none" stroke="#1a1a1a" stroke-width="1.1"/>
<text x="279.90" y="347.10" font-size="5.5" fill="#b4475a" text-anchor="end" textLength="7.949999999999999" lengthAdjust="spacingAndGlyphs">531</text>
<text x="279.90" y="354.10" font-size="5.5" fill="#4b6797" text-anchor="end" textLength="7.949999999999999" lengthAdjust="spacingAndGlyphs">654</text>
<clipPath id="c1087"><rect x="182.20" y="393.30" width="47.30" height="46.70"/></clipPath>
<path d="M188.05,441.00 L188.05,439.60 L188.72,438.56 L189.40,437.48 L190.07,436.37 L190.74,434.39 L191.41,432.35 L192.09,430.32 L192.84,425.80 L193.60,421.24 L194.61,413.17 L195.62,405.10 L196.62,398.04 L197.33,396.03 L198.14,398.04 L199.15,403.09 L200.15,409.14 L201.16,416.20 L202.17,424.27 L203.18,431.33 L204.19,436.37 L205.20,439.60 L205.20,441.00 Z" fill="#a33446" stroke="none" stroke-width="1" clip-path="url(#c1087)"/>
<path d="M182.50,440.20 L189.06,440.20 L192.09,437.38 L194.10,431.33 L195.62,423.26 L196.62,415.19 L197.63,407.12 L198.64,401.07 L199.35,398.04 L200.15,396.53 L200.96,396.03 L201.67,398.04 L202.68,403.09 L203.68,411.15 L204.69,419.22 L205.70,425.27 L206.71,429.31 L208.22,431.33 L210.24,432.84 L212.26,433.85 L214.27,434.35 L216.29,434.86 L218.31,435.86 L220.33,436.87 L222.34,437.88 L224.36,438.39 L226.38,440.20 L229.00,440.20" fill="none" stroke="#3b5b8e" stroke-width="1.2" clip-path="url(#c1087)" stroke-linejoin="round"/>
<line x1="180.20" y1="440.00" x2="182.20" y2="440.00" stroke="#000" stroke-width="0.9"/>
<line x1="180.80" y1="437.74" x2="182.20" y2="437.74" stroke="#000" stroke-width="0.9"/>
<line x1="180.80" y1="435.48" x2="182.20" y2="435.48" stroke="#000" stroke-width="0.9"/>
<line x1="180.80" y1="433.21" x2="182.20" y2="433.21" stroke="#000" stroke-width="0.9"/>
<line x1="180.20" y1="430.95" x2="182.20" y2="430.95" stroke="#000" stroke-width="0.9"/>
<rect x="178.40" y="430.15" width="1.80" height="1.60" fill="#b0b0b0"/>
<line x1="180.80" y1="428.69" x2="182.20" y2="428.69" stroke="#000" stroke-width="0.9"/>
<line x1="180.80" y1="426.43" x2="182.20" y2="426.43" stroke="#000" stroke-width="0.9"/>
<line x1="180.80" y1="424.16" x2="182.20" y2="424.16" stroke="#000" stroke-width="0.9"/>
<line x1="180.20" y1="421.90" x2="182.20" y2="421.90" stroke="#000" stroke-width="0.9"/>
<rect x="178.40" y="421.10" width="1.80" height="1.60" fill="#b0b0b0"/>
<line x1="180.80" y1="419.64" x2="182.20" y2="419.64" stroke="#000" stroke-width="0.9"/>
<line x1="180.80" y1="417.38" x2="182.20" y2="417.38" stroke="#000" stroke-width="0.9"/>
<line x1="180.80" y1="415.11" x2="182.20" y2="415.11" stroke="#000" stroke-width="0.9"/>
<line x1="180.20" y1="412.85" x2="182.20" y2="412.85" stroke="#000" stroke-width="0.9"/>
<rect x="178.40" y="412.05" width="1.80" height="1.60" fill="#b0b0b0"/>
<line x1="180.80" y1="410.59" x2="182.20" y2="410.59" stroke="#000" stroke-width="0.9"/>
<line x1="180.80" y1="408.32" x2="182.20" y2="408.32" stroke="#000" stroke-width="0.9"/>
<line x1="180.80" y1="406.06" x2="182.20" y2="406.06" stroke="#000" stroke-width="0.9"/>
<line x1="180.20" y1="403.80" x2="182.20" y2="403.80" stroke="#000" stroke-width="0.9"/>
<rect x="178.40" y="403.00" width="1.80" height="1.60" fill="#b0b0b0"/>
<line x1="180.80" y1="401.54" x2="182.20" y2="401.54" stroke="#000" stroke-width="0.9"/>
<line x1="180.80" y1="399.27" x2="182.20" y2="399.27" stroke="#000" stroke-width="0.9"/>
<line x1="180.80" y1="397.01" x2="182.20" y2="397.01" stroke="#000" stroke-width="0.9"/>
<line x1="180.20" y1="394.75" x2="182.20" y2="394.75" stroke="#000" stroke-width="0.9"/>
<rect x="178.40" y="393.95" width="1.80" height="1.60" fill="#b0b0b0"/>
<rect x="182.20" y="440.00" width="47.30" height="1.20" fill="#555"/>
<line x1="182.20" y1="440.00" x2="182.20" y2="443.00" stroke="#111" stroke-width="0.8"/>
<line x1="184.56" y1="440.00" x2="184.56" y2="442.18" stroke="#111" stroke-width="0.8"/>
<line x1="186.93" y1="440.00" x2="186.93" y2="442.16" stroke="#111" stroke-width="0.8"/>
<line x1="189.29" y1="440.00" x2="189.29" y2="442.58" stroke="#111" stroke-width="0.8"/>
<line x1="191.66" y1="440.00" x2="191.66" y2="443.00" stroke="#111" stroke-width="0.8"/>
<line x1="194.02" y1="440.00" x2="194.02" y2="442.18" stroke="#111" stroke-width="0.8"/>
<line x1="196.39" y1="440.00" x2="196.39" y2="442.60" stroke="#111" stroke-width="0.8"/>
<line x1="198.75" y1="440.00" x2="198.75" y2="442.02" stroke="#111" stroke-width="0.8"/>
<line x1="201.12" y1="440.00" x2="201.12" y2="443.00" stroke="#111" stroke-width="0.8"/>
<line x1="203.48" y1="440.00" x2="203.48" y2="442.42" stroke="#111" stroke-width="0.8"/>
<line x1="205.85" y1="440.00" x2="205.85" y2="442.06" stroke="#111" stroke-width="0.8"/>
<line x1="208.22" y1="440.00" x2="208.22" y2="441.75" stroke="#111" stroke-width="0.8"/>
<line x1="210.58" y1="440.00" x2="210.58" y2="443.00" stroke="#111" stroke-width="0.8"/>
<line x1="212.94" y1="440.00" x2="212.94" y2="442.59" stroke="#111" stroke-width="0.8"/>
<line x1="215.31" y1="440.00" x2="215.31" y2="442.29" stroke="#111" stroke-width="0.8"/>
<line x1="217.68" y1="440.00" x2="217.68" y2="442.34" stroke="#111" stroke-width="0.8"/>
<line x1="220.04" y1="440.00" x2="220.04" y2="443.00" stroke="#111" stroke-width="0.8"/>
<line x1="222.41" y1="440.00" x2="222.41" y2="442.06" stroke="#111" stroke-width="0.8"/>
<line x1="224.77" y1="440.00" x2="224.77" y2="441.82" stroke="#111" stroke-width="0.8"/>
<line x1="227.13" y1="440.00" x2="227.13" y2="441.76" stroke="#111" stroke-width="0.8"/>
<line x1="229.50" y1="440.00" x2="229.50" y2="443.00" stroke="#111" stroke-width="0.8"/>
<rect x="182.20" y="393.30" width="47.30" height="46.70" fill="none" stroke="#1a1a1a" stroke-width="1.1"/>
<text x="226.60" y="400.40" font-size="5.5" fill="#b4475a" text-anchor="end" textLength="7.949999999999999" lengthAdjust="spacingAndGlyphs">308</text>
<text x="226.60" y="407.40" font-size="5.5" fill="#4b6797" text-anchor="end" textLength="7.949999999999999" lengthAdjust="spacingAndGlyphs">831</text>
<clipPath id="c1141"><rect x="235.60" y="393.30" width="47.20" height="46.70"/></clipPath>
<path d="M243.07,441.00 L243.07,439.60 L243.74,438.86 L244.41,438.15 L245.09,437.38 L245.76,436.09 L246.43,434.69 L247.10,433.34 L247.86,430.13 L248.62,426.28 L249.62,418.21 L250.63,410.15 L251.64,403.09 L252.35,399.05 L253.15,400.06 L253.96,403.09 L254.67,405.10 L255.68,411.15 L256.68,419.22 L257.69,426.28 L258.70,431.33 L259.71,435.36 L260.47,436.89 L261.22,438.39 L261.98,439.02 L262.74,439.60 L262.74,441.00 Z" fill="#a33446" stroke="none" stroke-width="1" clip-path="url(#c1141)"/>
<path d="M235.50,440.20 L243.07,440.20 L245.09,437.88 L247.10,434.35 L248.62,428.30 L249.62,421.24 L250.63,413.17 L251.64,406.11 L252.65,401.07 L253.46,397.03 L254.16,395.52 L254.97,396.53 L255.68,398.04 L256.38,401.07 L257.19,406.11 L258.00,410.15 L258.70,413.17 L259.21,417.21 L260.01,420.23 L260.72,422.25 L261.73,425.27 L262.74,427.29 L263.74,429.31 L264.75,431.33 L266.27,431.83 L267.78,431.33 L269.29,433.34 L270.80,434.86 L272.32,435.36 L273.33,436.37 L274.33,437.88 L275.34,440.20 L282.00,440.20" fill="none" stroke="#3b5b8e" stroke-width="1.2" clip-path="url(#c1141)" stroke-linejoin="round"/>
<line x1="233.60" y1="440.00" x2="235.60" y2="440.00" stroke="#000" stroke-width="0.9"/>
<line x1="234.20" y1="437.74" x2="235.60" y2="437.74" stroke="#000" stroke-width="0.9"/>
<line x1="234.20" y1="435.48" x2="235.60" y2="435.48" stroke="#000" stroke-width="0.9"/>
<line x1="234.20" y1="433.21" x2="235.60" y2="433.21" stroke="#000" stroke-width="0.9"/>
<line x1="233.60" y1="430.95" x2="235.60" y2="430.95" stroke="#000" stroke-width="0.9"/>
<rect x="231.80" y="430.15" width="1.80" height="1.60" fill="#b0b0b0"/>
<line x1="234.20" y1="428.69" x2="235.60" y2="428.69" stroke="#000" stroke-width="0.9"/>
<line x1="234.20" y1="426.43" x2="235.60" y2="426.43" stroke="#000" stroke-width="0.9"/>
<line x1="234.20" y1="424.16" x2="235.60" y2="424.16" stroke="#000" stroke-width="0.9"/>
<line x1="233.60" y1="421.90" x2="235.60" y2="421.90" stroke="#000" stroke-width="0.9"/>
<rect x="231.80" y="421.10" width="1.80" height="1.60" fill="#b0b0b0"/>
<line x1="234.20" y1="419.64" x2="235.60" y2="419.64" stroke="#000" stroke-width="0.9"/>
<line x1="234.20" y1="417.38" x2="235.60" y2="417.38" stroke="#000" stroke-width="0.9"/>
<line x1="234.20" y1="415.11" x2="235.60" y2="415.11" stroke="#000" stroke-width="0.9"/>
<line x1="233.60" y1="412.85" x2="235.60" y2="412.85" stroke="#000" stroke-width="0.9"/>
<rect x="231.80" y="412.05" width="1.80" height="1.60" fill="#b0b0b0"/>
<line x1="234.20" y1="410.59" x2="235.60" y2="410.59" stroke="#000" stroke-width="0.9"/>
<line x1="234.20" y1="408.32" x2="235.60" y2="408.32" stroke="#000" stroke-width="0.9"/>
<line x1="234.20" y1="406.06" x2="235.60" y2="406.06" stroke="#000" stroke-width="0.9"/>
<line x1="233.60" y1="403.80" x2="235.60" y2="403.80" stroke="#000" stroke-width="0.9"/>
<rect x="231.80" y="403.00" width="1.80" height="1.60" fill="#b0b0b0"/>
<line x1="234.20" y1="401.54" x2="235.60" y2="401.54" stroke="#000" stroke-width="0.9"/>
<line x1="234.20" y1="399.27" x2="235.60" y2="399.27" stroke="#000" stroke-width="0.9"/>
<line x1="234.20" y1="397.01" x2="235.60" y2="397.01" stroke="#000" stroke-width="0.9"/>
<line x1="233.60" y1="394.75" x2="235.60" y2="394.75" stroke="#000" stroke-width="0.9"/>
<rect x="231.80" y="393.95" width="1.80" height="1.60" fill="#b0b0b0"/>
<rect x="235.60" y="440.00" width="47.20" height="1.20" fill="#555"/>
<line x1="235.60" y1="440.00" x2="235.60" y2="443.00" stroke="#111" stroke-width="0.8"/>
<line x1="237.96" y1="440.00" x2="237.96" y2="442.38" stroke="#111" stroke-width="0.8"/>
<line x1="240.32" y1="440.00" x2="240.32" y2="442.20" stroke="#111" stroke-width="0.8"/>
<line x1="242.68" y1="440.00" x2="242.68" y2="441.83" stroke="#111" stroke-width="0.8"/>
<line x1="245.04" y1="440.00" x2="245.04" y2="443.00" stroke="#111" stroke-width="0.8"/>
<line x1="247.40" y1="440.00" x2="247.40" y2="441.75" stroke="#111" stroke-width="0.8"/>
<line x1="249.76" y1="440.00" x2="249.76" y2="441.70" stroke="#111" stroke-width="0.8"/>
<line x1="252.12" y1="440.00" x2="252.12" y2="442.53" stroke="#111" stroke-width="0.8"/>
<line x1="254.48" y1="440.00" x2="254.48" y2="443.00" stroke="#111" stroke-width="0.8"/>
<line x1="256.84" y1="440.00" x2="256.84" y2="442.02" stroke="#111" stroke-width="0.8"/>
<line x1="259.20" y1="440.00" x2="259.20" y2="442.50" stroke="#111" stroke-width="0.8"/>
<line x1="261.56" y1="440.00" x2="261.56" y2="442.29" stroke="#111" stroke-width="0.8"/>
<line x1="263.92" y1="440.00" x2="263.92" y2="443.00" stroke="#111" stroke-width="0.8"/>
<line x1="266.28" y1="440.00" x2="266.28" y2="441.85" stroke="#111" stroke-width="0.8"/>
<line x1="268.64" y1="440.00" x2="268.64" y2="442.09" stroke="#111" stroke-width="0.8"/>
<line x1="271.00" y1="440.00" x2="271.00" y2="442.05" stroke="#111" stroke-width="0.8"/>
<line x1="273.36" y1="440.00" x2="273.36" y2="443.00" stroke="#111" stroke-width="0.8"/>
<line x1="275.72" y1="440.00" x2="275.72" y2="442.13" stroke="#111" stroke-width="0.8"/>
<line x1="278.08" y1="440.00" x2="278.08" y2="442.27" stroke="#111" stroke-width="0.8"/>
<line x1="280.44" y1="440.00" x2="280.44" y2="441.95" stroke="#111" stroke-width="0.8"/>
<line x1="282.80" y1="440.00" x2="282.80" y2="443.00" stroke="#111" stroke-width="0.8"/>
<rect x="235.60" y="393.30" width="47.20" height="46.70" fill="none" stroke="#1a1a1a" stroke-width="1.1"/>
<text x="279.90" y="400.40" font-size="5.5" fill="#b4475a" text-anchor="end" textLength="7.949999999999999" lengthAdjust="spacingAndGlyphs">532</text>
<text x="279.90" y="407.40" font-size="5.5" fill="#4b6797" text-anchor="end" textLength="10.6" lengthAdjust="spacingAndGlyphs">1205</text>
<line x1="10.45" y1="139.00" x2="52.15" y2="139.00" stroke="#6a6a6a" stroke-width="1.3"/>
<path d="M50.95,137.20 L55.15,139.00 L50.95,140.80 Z" fill="#111" stroke="none" stroke-width="1"/>
<line x1="10.45" y1="292.60" x2="52.15" y2="292.60" stroke="#6a6a6a" stroke-width="1.3"/>
<path d="M50.95,290.80 L55.15,292.60 L50.95,294.40 Z" fill="#111" stroke="none" stroke-width="1"/>
<line x1="63.80" y1="139.00" x2="105.50" y2="139.00" stroke="#6a6a6a" stroke-width="1.3"/>
<path d="M104.30,137.20 L108.50,139.00 L104.30,140.80 Z" fill="#111" stroke="none" stroke-width="1"/>
<line x1="63.80" y1="292.60" x2="105.50" y2="292.60" stroke="#6a6a6a" stroke-width="1.3"/>
<path d="M104.30,290.80 L108.50,292.60 L104.30,294.40 Z" fill="#111" stroke="none" stroke-width="1"/>
<line x1="117.00" y1="139.00" x2="158.70" y2="139.00" stroke="#6a6a6a" stroke-width="1.3"/>
<path d="M157.50,137.20 L161.70,139.00 L157.50,140.80 Z" fill="#111" stroke="none" stroke-width="1"/>
<line x1="117.00" y1="292.60" x2="158.70" y2="292.60" stroke="#6a6a6a" stroke-width="1.3"/>
<path d="M157.50,290.80 L161.70,292.60 L157.50,294.40 Z" fill="#111" stroke="none" stroke-width="1"/>
<text x="26.00" y="149.60" font-size="8.3" fill="#2a2a2a" textLength="15.2" lengthAdjust="spacingAndGlyphs">HLA</text>
<text x="26.00" y="303.30" font-size="8.3" fill="#2a2a2a" textLength="15.2" lengthAdjust="spacingAndGlyphs">HLA</text>
<text x="76.70" y="149.60" font-size="8.3" fill="#2a2a2a" textLength="20.9" lengthAdjust="spacingAndGlyphs">CD80</text>
<text x="76.70" y="303.30" font-size="8.3" fill="#2a2a2a" textLength="20.9" lengthAdjust="spacingAndGlyphs">CD80</text>
<text x="129.60" y="149.60" font-size="8.3" fill="#2a2a2a" textLength="20.9" lengthAdjust="spacingAndGlyphs">CD86</text>
<text x="129.60" y="303.30" font-size="8.3" fill="#2a2a2a" textLength="20.9" lengthAdjust="spacingAndGlyphs">CD86</text>
<line x1="10.30" y1="446.10" x2="161.30" y2="446.10" stroke="#6a6a6a" stroke-width="1.3"/>
<path d="M160.10,444.30 L164.30,446.10 L160.10,447.90 Z" fill="#111" stroke="none" stroke-width="1"/>
<line x1="182.20" y1="446.10" x2="279.80" y2="446.10" stroke="#6a6a6a" stroke-width="1.3"/>
<path d="M278.60,444.30 L282.80,446.10 L278.60,447.90 Z" fill="#111" stroke="none" stroke-width="1"/>
<text x="76.70" y="456.90" font-size="8.4" fill="#2a2a2a" textLength="20.9" lengthAdjust="spacingAndGlyphs">CD69</text>
<text x="217.80" y="456.70" font-size="8.4" fill="#2a2a2a" textLength="29.0" lengthAdjust="spacingAndGlyphs">CD107a</text>
<text x="26.00" y="336.30" font-size="6.4" fill="#2a2a2a" textLength="15.5" lengthAdjust="spacingAndGlyphs">CD19</text>
<text x="81.50" y="336.30" font-size="6.4" fill="#2a2a2a" textLength="15.0" lengthAdjust="spacingAndGlyphs">CD56</text>
<text x="134.40" y="336.30" font-size="6.4" fill="#2a2a2a" textLength="18.1" lengthAdjust="spacingAndGlyphs">CD11c</text>
<text x="200.10" y="336.30" font-size="6.4" fill="#2a2a2a" textLength="11.8" lengthAdjust="spacingAndGlyphs">CD8</text>
<text x="251.10" y="336.30" font-size="6.4" fill="#2a2a2a" textLength="14.6" lengthAdjust="spacingAndGlyphs">CD56</text>
<rect x="167.10" y="50.00" width="4.70" height="4.40" fill="#a33446"/>
<rect x="167.65" y="58.65" width="3.60" height="3.40" fill="white" stroke="#3b5b8e" stroke-width="1.1"/>
<text x="174.50" y="54.00" font-size="4.9" fill="#2a2a2a" textLength="14.0" lengthAdjust="spacingAndGlyphs">PBMC</text>
<text x="174.50" y="62.10" font-size="4.9" fill="#2a2a2a" textLength="27.6" lengthAdjust="spacingAndGlyphs">PBMC+iNKT</text>
<line x1="209.20" y1="48.20" x2="209.20" y2="63.90" stroke="#666" stroke-width="1.2"/>
<text x="211.80" y="58.20" font-size="5.5" fill="#444" textLength="12.0" lengthAdjust="spacingAndGlyphs">ULFP</text>
<rect x="167.10" y="103.60" width="4.70" height="4.40" fill="#a33446"/>
<rect x="167.65" y="112.25" width="3.60" height="3.40" fill="white" stroke="#3b5b8e" stroke-width="1.1"/>
<text x="174.50" y="107.60" font-size="4.9" fill="#2a2a2a" textLength="14.0" lengthAdjust="spacingAndGlyphs">PBMC</text>
<text x="174.50" y="115.70" font-size="4.9" fill="#2a2a2a" textLength="27.6" lengthAdjust="spacingAndGlyphs">PBMC+iNKT</text>
<line x1="209.20" y1="101.50" x2="209.20" y2="117.50" stroke="#666" stroke-width="1.2"/>
<text x="211.80" y="111.60" font-size="5.5" fill="#444" textLength="8.4" lengthAdjust="spacingAndGlyphs">LFP</text>
<rect x="167.10" y="203.90" width="4.70" height="4.40" fill="#a33446"/>
<rect x="167.65" y="212.55" width="3.60" height="3.40" fill="white" stroke="#3b5b8e" stroke-width="1.1"/>
<text x="174.50" y="207.90" font-size="4.9" fill="#2a2a2a" textLength="14.0" lengthAdjust="spacingAndGlyphs">PBMC</text>
<text x="174.50" y="216.00" font-size="4.9" fill="#2a2a2a" textLength="27.6" lengthAdjust="spacingAndGlyphs">PBMC+iNKT</text>
<line x1="209.20" y1="201.70" x2="209.20" y2="217.60" stroke="#666" stroke-width="1.2"/>
<text x="211.80" y="211.70" font-size="5.5" fill="#444" textLength="12.0" lengthAdjust="spacingAndGlyphs">ULFP</text>
<rect x="167.10" y="257.00" width="4.70" height="4.40" fill="#a33446"/>
<rect x="167.65" y="265.65" width="3.60" height="3.40" fill="white" stroke="#3b5b8e" stroke-width="1.1"/>
<text x="174.50" y="261.00" font-size="4.9" fill="#2a2a2a" textLength="14.0" lengthAdjust="spacingAndGlyphs">PBMC</text>
<text x="174.50" y="269.10" font-size="4.9" fill="#2a2a2a" textLength="27.6" lengthAdjust="spacingAndGlyphs">PBMC+iNKT</text>
<line x1="209.20" y1="254.70" x2="209.20" y2="270.80" stroke="#666" stroke-width="1.2"/>
<text x="211.80" y="264.70" font-size="5.5" fill="#444" textLength="8.4" lengthAdjust="spacingAndGlyphs">LFP</text>
<rect x="285.40" y="357.40" width="4.70" height="4.40" fill="#a33446"/>
<rect x="285.95" y="365.35" width="3.60" height="3.40" fill="white" stroke="#3b5b8e" stroke-width="1.1"/>
<text x="292.80" y="361.40" font-size="4.9" fill="#2a2a2a" textLength="14.0" lengthAdjust="spacingAndGlyphs">PBMC</text>
<text x="292.80" y="368.80" font-size="4.9" fill="#2a2a2a" textLength="27.6" lengthAdjust="spacingAndGlyphs">PBMC+iNKT</text>
<line x1="327.60" y1="355.30" x2="327.60" y2="371.20" stroke="#666" stroke-width="1.2"/>
<text x="330.20" y="365.30" font-size="5.5" fill="#444" textLength="12.0" lengthAdjust="spacingAndGlyphs">ULFP</text>
<rect x="285.40" y="411.00" width="4.70" height="4.40" fill="#a33446"/>
<rect x="285.95" y="418.95" width="3.60" height="3.40" fill="white" stroke="#3b5b8e" stroke-width="1.1"/>
<text x="292.80" y="415.00" font-size="4.9" fill="#2a2a2a" textLength="14.0" lengthAdjust="spacingAndGlyphs">PBMC</text>
<text x="292.80" y="422.40" font-size="4.9" fill="#2a2a2a" textLength="27.6" lengthAdjust="spacingAndGlyphs">PBMC+iNKT</text>
<line x1="327.60" y1="408.60" x2="327.60" y2="425.40" stroke="#666" stroke-width="1.2"/>
<text x="330.20" y="418.80" font-size="5.5" fill="#444" textLength="8.4" lengthAdjust="spacingAndGlyphs">LFP</text>
<line x1="268.50" y1="25.60" x2="268.50" y2="85.00" stroke="#1a1a1a" stroke-width="0.9"/>
<line x1="267.30" y1="84.50" x2="324.70" y2="84.50" stroke="#333" stroke-width="1.0"/>
<line x1="265.30" y1="84.50" x2="268.50" y2="84.50" stroke="#222" stroke-width="0.8"/>
<text x="262.20" y="86.60" font-size="5.9" fill="#1a1a1a" text-anchor="end" textLength="3.15" lengthAdjust="spacingAndGlyphs">0</text>
<line x1="265.30" y1="70.50" x2="268.50" y2="70.50" stroke="#222" stroke-width="0.8"/>
<text x="262.20" y="72.60" font-size="5.9" fill="#1a1a1a" text-anchor="end" textLength="12.6" lengthAdjust="spacingAndGlyphs">1000</text>
<line x1="265.30" y1="56.50" x2="268.50" y2="56.50" stroke="#222" stroke-width="0.8"/>
<text x="262.20" y="58.60" font-size="5.9" fill="#1a1a1a" text-anchor="end" textLength="12.6" lengthAdjust="spacingAndGlyphs">2000</text>
<line x1="265.30" y1="42.50" x2="268.50" y2="42.50" stroke="#222" stroke-width="0.8"/>
<text x="262.20" y="44.60" font-size="5.9" fill="#1a1a1a" text-anchor="end" textLength="12.6" lengthAdjust="spacingAndGlyphs">3000</text>
<line x1="265.30" y1="28.50" x2="268.50" y2="28.50" stroke="#222" stroke-width="0.8"/>
<text x="262.20" y="30.60" font-size="5.9" fill="#1a1a1a" text-anchor="end" textLength="12.6" lengthAdjust="spacingAndGlyphs">4000</text>
<text x="270.00" y="31.60" font-size="5.8" fill="#333" textLength="21.6" lengthAdjust="spacingAndGlyphs">GM-CSF</text>
<rect x="313.06" y="43.30" width="8.90" height="41.20" fill="#4e6484" stroke="#3b5170" stroke-width="0.5"/>
<line x1="317.51" y1="39.20" x2="317.51" y2="43.30" stroke="#333" stroke-width="0.9"/>
<line x1="315.51" y1="39.20" x2="319.51" y2="39.20" stroke="#333" stroke-width="0.9"/>
<line x1="288.30" y1="37.30" x2="317.90" y2="37.30" stroke="#4a4a4a" stroke-width="1.0"/>
<text x="303.10" y="37.90" font-size="5.2" fill="#555" text-anchor="middle">**</text>
<text transform="translate(242.30,55.65) rotate(-90)" font-size="9.2" fill="#444" text-anchor="middle">pg/ml</text>
<line x1="362.50" y1="25.60" x2="362.50" y2="85.00" stroke="#1a1a1a" stroke-width="0.9"/>
<line x1="361.30" y1="84.50" x2="418.70" y2="84.50" stroke="#333" stroke-width="1.0"/>
<line x1="359.30" y1="84.50" x2="362.50" y2="84.50" stroke="#222" stroke-width="0.8"/>
<text x="356.20" y="86.60" font-size="5.9" fill="#1a1a1a" text-anchor="end" textLength="3.15" lengthAdjust="spacingAndGlyphs">0</text>
<line x1="359.30" y1="70.50" x2="362.50" y2="70.50" stroke="#222" stroke-width="0.8"/>
<text x="356.20" y="72.60" font-size="5.9" fill="#1a1a1a" text-anchor="end" textLength="12.6" lengthAdjust="spacingAndGlyphs">2000</text>
<line x1="359.30" y1="56.50" x2="362.50" y2="56.50" stroke="#222" stroke-width="0.8"/>
<text x="356.20" y="58.60" font-size="5.9" fill="#1a1a1a" text-anchor="end" textLength="12.6" lengthAdjust="spacingAndGlyphs">4000</text>
<line x1="359.30" y1="42.50" x2="362.50" y2="42.50" stroke="#222" stroke-width="0.8"/>
<text x="356.20" y="44.60" font-size="5.9" fill="#1a1a1a" text-anchor="end" textLength="12.6" lengthAdjust="spacingAndGlyphs">6000</text>
<line x1="359.30" y1="28.50" x2="362.50" y2="28.50" stroke="#222" stroke-width="0.8"/>
<text x="356.20" y="30.60" font-size="5.9" fill="#1a1a1a" text-anchor="end" textLength="12.6" lengthAdjust="spacingAndGlyphs">8000</text>
<text x="364.00" y="31.60" font-size="4.7" fill="#555" textLength="9.8" lengthAdjust="spacingAndGlyphs">IFN&#947;</text>
<rect x="407.06" y="33.00" width="8.90" height="51.50" fill="#4e6484" stroke="#3b5170" stroke-width="0.5"/>
<line x1="411.51" y1="31.60" x2="411.51" y2="33.00" stroke="#333" stroke-width="0.9"/>
<line x1="409.51" y1="31.60" x2="413.51" y2="31.60" stroke="#333" stroke-width="0.9"/>
<line x1="383.50" y1="29.80" x2="413.50" y2="29.80" stroke="#4a4a4a" stroke-width="1.0"/>
<text x="398.50" y="30.40" font-size="5.2" fill="#555" text-anchor="middle">**</text>
<text transform="translate(336.30,55.65) rotate(-90)" font-size="9.2" fill="#444" text-anchor="middle">pg/ml</text>
<line x1="456.40" y1="25.60" x2="456.40" y2="85.00" stroke="#1a1a1a" stroke-width="0.9"/>
<line x1="455.20" y1="84.50" x2="512.60" y2="84.50" stroke="#333" stroke-width="1.0"/>
<line x1="453.20" y1="84.50" x2="456.40" y2="84.50" stroke="#222" stroke-width="0.8"/>
<text x="450.10" y="86.60" font-size="5.9" fill="#1a1a1a" text-anchor="end" textLength="3.15" lengthAdjust="spacingAndGlyphs">0</text>
<line x1="453.20" y1="70.50" x2="456.40" y2="70.50" stroke="#222" stroke-width="0.8"/>
<text x="450.10" y="72.60" font-size="5.9" fill="#1a1a1a" text-anchor="end" textLength="12.6" lengthAdjust="spacingAndGlyphs">1000</text>
<line x1="453.20" y1="56.50" x2="456.40" y2="56.50" stroke="#222" stroke-width="0.8"/>
<text x="450.10" y="58.60" font-size="5.9" fill="#1a1a1a" text-anchor="end" textLength="12.6" lengthAdjust="spacingAndGlyphs">2000</text>
<line x1="453.20" y1="42.50" x2="456.40" y2="42.50" stroke="#222" stroke-width="0.8"/>
<text x="450.10" y="44.60" font-size="5.9" fill="#1a1a1a" text-anchor="end" textLength="12.6" lengthAdjust="spacingAndGlyphs">3000</text>
<line x1="453.20" y1="28.50" x2="456.40" y2="28.50" stroke="#222" stroke-width="0.8"/>
<text x="450.10" y="30.60" font-size="5.9" fill="#1a1a1a" text-anchor="end" textLength="12.6" lengthAdjust="spacingAndGlyphs">4000</text>
<text x="457.90" y="31.60" font-size="5.5" fill="#555" textLength="12.8" lengthAdjust="spacingAndGlyphs">IL-1&#946;</text>
<rect x="500.96" y="32.10" width="8.90" height="52.40" fill="#4e6484" stroke="#3b5170" stroke-width="0.5"/>
<line x1="505.41" y1="30.30" x2="505.41" y2="32.10" stroke="#333" stroke-width="0.9"/>
<line x1="503.41" y1="30.30" x2="507.41" y2="30.30" stroke="#333" stroke-width="0.9"/>
<line x1="476.30" y1="28.20" x2="506.00" y2="28.20" stroke="#4a4a4a" stroke-width="1.0"/>
<text x="491.15" y="28.80" font-size="5.2" fill="#555" text-anchor="middle">**</text>
<text transform="translate(430.20,55.65) rotate(-90)" font-size="9.2" fill="#444" text-anchor="middle">pg/ml</text>
<line x1="268.50" y1="98.60" x2="268.50" y2="158.00" stroke="#1a1a1a" stroke-width="0.9"/>
<line x1="267.30" y1="157.50" x2="324.70" y2="157.50" stroke="#333" stroke-width="1.0"/>
<line x1="265.30" y1="157.50" x2="268.50" y2="157.50" stroke="#222" stroke-width="0.8"/>
<text x="262.20" y="159.60" font-size="5.9" fill="#1a1a1a" text-anchor="end" textLength="3.15" lengthAdjust="spacingAndGlyphs">0</text>
<line x1="265.30" y1="146.30" x2="268.50" y2="146.30" stroke="#222" stroke-width="0.8"/>
<text x="262.20" y="148.40" font-size="5.9" fill="#1a1a1a" text-anchor="end" textLength="9.45" lengthAdjust="spacingAndGlyphs">300</text>
<line x1="265.30" y1="135.10" x2="268.50" y2="135.10" stroke="#222" stroke-width="0.8"/>
<text x="262.20" y="137.20" font-size="5.9" fill="#1a1a1a" text-anchor="end" textLength="9.45" lengthAdjust="spacingAndGlyphs">600</text>
<line x1="265.30" y1="123.90" x2="268.50" y2="123.90" stroke="#222" stroke-width="0.8"/>
<text x="262.20" y="126.00" font-size="5.9" fill="#1a1a1a" text-anchor="end" textLength="9.45" lengthAdjust="spacingAndGlyphs">900</text>
<line x1="265.30" y1="112.70" x2="268.50" y2="112.70" stroke="#222" stroke-width="0.8"/>
<text x="262.20" y="114.80" font-size="5.9" fill="#1a1a1a" text-anchor="end" textLength="12.6" lengthAdjust="spacingAndGlyphs">1200</text>
<line x1="265.30" y1="101.50" x2="268.50" y2="101.50" stroke="#222" stroke-width="0.8"/>
<text x="262.20" y="103.60" font-size="5.9" fill="#1a1a1a" text-anchor="end" textLength="12.6" lengthAdjust="spacingAndGlyphs">1500</text>
<text x="270.00" y="104.60" font-size="4.5" fill="#777" textLength="8.4" lengthAdjust="spacingAndGlyphs">IL-6</text>
<rect x="284.92" y="156.00" width="8.90" height="1.50" fill="#4e6484" stroke="#3b5170" stroke-width="0.5"/>
<line x1="289.37" y1="155.20" x2="289.37" y2="156.00" stroke="#333" stroke-width="0.9"/>
<line x1="287.37" y1="155.20" x2="291.37" y2="155.20" stroke="#333" stroke-width="0.9"/>
<rect x="313.06" y="111.50" width="8.90" height="46.00" fill="#4e6484" stroke="#3b5170" stroke-width="0.5"/>
<line x1="317.51" y1="103.50" x2="317.51" y2="111.50" stroke="#333" stroke-width="0.9"/>
<line x1="315.51" y1="103.50" x2="319.51" y2="103.50" stroke="#333" stroke-width="0.9"/>
<line x1="288.30" y1="101.70" x2="317.50" y2="101.70" stroke="#4a4a4a" stroke-width="1.0"/>
<text x="302.90" y="102.30" font-size="5.2" fill="#555" text-anchor="middle">**</text>
<text transform="translate(242.30,128.65) rotate(-90)" font-size="9.2" fill="#444" text-anchor="middle">pg/ml</text>
<line x1="362.50" y1="98.60" x2="362.50" y2="158.00" stroke="#1a1a1a" stroke-width="0.9"/>
<line x1="361.30" y1="157.50" x2="418.70" y2="157.50" stroke="#333" stroke-width="1.0"/>
<line x1="359.30" y1="157.50" x2="362.50" y2="157.50" stroke="#222" stroke-width="0.8"/>
<text x="356.20" y="159.60" font-size="5.9" fill="#1a1a1a" text-anchor="end" textLength="3.15" lengthAdjust="spacingAndGlyphs">0</text>
<line x1="359.30" y1="138.83" x2="362.50" y2="138.83" stroke="#222" stroke-width="0.8"/>
<text x="356.20" y="140.93" font-size="5.9" fill="#1a1a1a" text-anchor="end" textLength="9.45" lengthAdjust="spacingAndGlyphs">500</text>
<line x1="359.30" y1="120.17" x2="362.50" y2="120.17" stroke="#222" stroke-width="0.8"/>
<text x="356.20" y="122.27" font-size="5.9" fill="#1a1a1a" text-anchor="end" textLength="12.6" lengthAdjust="spacingAndGlyphs">1000</text>
<line x1="359.30" y1="101.50" x2="362.50" y2="101.50" stroke="#222" stroke-width="0.8"/>
<text x="356.20" y="103.60" font-size="5.9" fill="#1a1a1a" text-anchor="end" textLength="12.6" lengthAdjust="spacingAndGlyphs">1500</text>
<text x="364.00" y="104.60" font-size="4.7" fill="#555" textLength="10.5" lengthAdjust="spacingAndGlyphs">IL-12</text>
<rect x="407.06" y="119.80" width="8.90" height="37.70" fill="#4e6484" stroke="#3b5170" stroke-width="0.5"/>
<line x1="411.51" y1="107.70" x2="411.51" y2="119.80" stroke="#333" stroke-width="0.9"/>
<line x1="409.51" y1="107.70" x2="413.51" y2="107.70" stroke="#333" stroke-width="0.9"/>
<line x1="382.50" y1="105.40" x2="412.80" y2="105.40" stroke="#4a4a4a" stroke-width="1.0"/>
<text x="397.65" y="106.00" font-size="5.2" fill="#555" text-anchor="middle">**</text>
<text transform="translate(336.30,128.65) rotate(-90)" font-size="9.2" fill="#444" text-anchor="middle">pg/ml</text>
<line x1="456.40" y1="98.60" x2="456.40" y2="158.00" stroke="#1a1a1a" stroke-width="0.9"/>
<line x1="455.20" y1="157.50" x2="512.60" y2="157.50" stroke="#333" stroke-width="1.0"/>
<line x1="453.20" y1="157.50" x2="456.40" y2="157.50" stroke="#222" stroke-width="0.8"/>
<text x="450.10" y="159.60" font-size="5.9" fill="#1a1a1a" text-anchor="end" textLength="3.15" lengthAdjust="spacingAndGlyphs">0</text>
<line x1="453.20" y1="138.83" x2="456.40" y2="138.83" stroke="#222" stroke-width="0.8"/>
<text x="450.10" y="140.93" font-size="5.9" fill="#1a1a1a" text-anchor="end" textLength="12.6" lengthAdjust="spacingAndGlyphs">1000</text>
<line x1="453.20" y1="120.17" x2="456.40" y2="120.17" stroke="#222" stroke-width="0.8"/>
<text x="450.10" y="122.27" font-size="5.9" fill="#1a1a1a" text-anchor="end" textLength="12.6" lengthAdjust="spacingAndGlyphs">2000</text>
<line x1="453.20" y1="101.50" x2="456.40" y2="101.50" stroke="#222" stroke-width="0.8"/>
<text x="450.10" y="103.60" font-size="5.9" fill="#1a1a1a" text-anchor="end" textLength="12.6" lengthAdjust="spacingAndGlyphs">3000</text>
<text x="457.90" y="104.60" font-size="4.8" fill="#555" textLength="12.5" lengthAdjust="spacingAndGlyphs">TNF&#945;</text>
<rect x="472.82" y="155.00" width="8.90" height="2.50" fill="#4e6484" stroke="#3b5170" stroke-width="0.5"/>
<line x1="477.27" y1="154.00" x2="477.27" y2="155.00" stroke="#333" stroke-width="0.9"/>
<line x1="475.27" y1="154.00" x2="479.27" y2="154.00" stroke="#333" stroke-width="0.9"/>
<rect x="500.96" y="105.80" width="8.90" height="51.70" fill="#4e6484" stroke="#3b5170" stroke-width="0.5"/>
<line x1="505.41" y1="104.20" x2="505.41" y2="105.80" stroke="#333" stroke-width="0.9"/>
<line x1="503.41" y1="104.20" x2="507.41" y2="104.20" stroke="#333" stroke-width="0.9"/>
<line x1="476.20" y1="103.10" x2="506.00" y2="103.10" stroke="#4a4a4a" stroke-width="1.0"/>
<text x="491.10" y="103.70" font-size="5.2" fill="#555" text-anchor="middle">**</text>
<text transform="translate(430.20,128.65) rotate(-90)" font-size="9.2" fill="#444" text-anchor="middle">pg/ml</text>
<line x1="268.50" y1="171.00" x2="268.50" y2="230.40" stroke="#1a1a1a" stroke-width="0.9"/>
<line x1="267.30" y1="229.90" x2="324.70" y2="229.90" stroke="#333" stroke-width="1.0"/>
<line x1="265.30" y1="229.90" x2="268.50" y2="229.90" stroke="#222" stroke-width="0.8"/>
<text x="262.20" y="232.00" font-size="5.9" fill="#1a1a1a" text-anchor="end" textLength="3.15" lengthAdjust="spacingAndGlyphs">0</text>
<line x1="265.30" y1="215.90" x2="268.50" y2="215.90" stroke="#222" stroke-width="0.8"/>
<text x="262.20" y="218.00" font-size="5.9" fill="#1a1a1a" text-anchor="end" textLength="9.45" lengthAdjust="spacingAndGlyphs">500</text>
<line x1="265.30" y1="201.90" x2="268.50" y2="201.90" stroke="#222" stroke-width="0.8"/>
<text x="262.20" y="204.00" font-size="5.9" fill="#1a1a1a" text-anchor="end" textLength="12.6" lengthAdjust="spacingAndGlyphs">1000</text>
<line x1="265.30" y1="187.90" x2="268.50" y2="187.90" stroke="#222" stroke-width="0.8"/>
<text x="262.20" y="190.00" font-size="5.9" fill="#1a1a1a" text-anchor="end" textLength="12.6" lengthAdjust="spacingAndGlyphs">1500</text>
<line x1="265.30" y1="173.90" x2="268.50" y2="173.90" stroke="#222" stroke-width="0.8"/>
<text x="262.20" y="176.00" font-size="5.9" fill="#1a1a1a" text-anchor="end" textLength="12.6" lengthAdjust="spacingAndGlyphs">2000</text>
<text x="270.00" y="177.00" font-size="4.5" fill="#777" textLength="7.5" lengthAdjust="spacingAndGlyphs">IL-4</text>
<rect x="284.92" y="228.80" width="8.90" height="1.10" fill="#4e6484" stroke="#3b5170" stroke-width="0.5"/>
<line x1="289.37" y1="228.20" x2="289.37" y2="228.80" stroke="#333" stroke-width="0.9"/>
<line x1="287.37" y1="228.20" x2="291.37" y2="228.20" stroke="#333" stroke-width="0.9"/>
<rect x="313.06" y="194.20" width="8.90" height="35.70" fill="#4e6484" stroke="#3b5170" stroke-width="0.5"/>
<line x1="317.51" y1="181.20" x2="317.51" y2="194.20" stroke="#333" stroke-width="0.9"/>
<line x1="315.51" y1="181.20" x2="319.51" y2="181.20" stroke="#333" stroke-width="0.9"/>
<line x1="288.30" y1="177.90" x2="317.50" y2="177.90" stroke="#4a4a4a" stroke-width="1.0"/>
<text x="302.90" y="178.50" font-size="5.2" fill="#555" text-anchor="middle">**</text>
<text transform="translate(242.30,201.05) rotate(-90)" font-size="9.2" fill="#444" text-anchor="middle">pg/ml</text>
<line x1="362.50" y1="171.00" x2="362.50" y2="230.40" stroke="#1a1a1a" stroke-width="0.9"/>
<line x1="361.30" y1="229.90" x2="418.70" y2="229.90" stroke="#333" stroke-width="1.0"/>
<line x1="359.30" y1="229.90" x2="362.50" y2="229.90" stroke="#222" stroke-width="0.8"/>
<text x="356.20" y="232.00" font-size="5.9" fill="#1a1a1a" text-anchor="end" textLength="3.15" lengthAdjust="spacingAndGlyphs">0</text>
<line x1="359.30" y1="218.70" x2="362.50" y2="218.70" stroke="#222" stroke-width="0.8"/>
<text x="356.20" y="220.80" font-size="5.9" fill="#1a1a1a" text-anchor="end" textLength="9.45" lengthAdjust="spacingAndGlyphs">500</text>
<line x1="359.30" y1="207.50" x2="362.50" y2="207.50" stroke="#222" stroke-width="0.8"/>
<text x="356.20" y="209.60" font-size="5.9" fill="#1a1a1a" text-anchor="end" textLength="12.6" lengthAdjust="spacingAndGlyphs">1000</text>
<line x1="359.30" y1="196.30" x2="362.50" y2="196.30" stroke="#222" stroke-width="0.8"/>
<text x="356.20" y="198.40" font-size="5.9" fill="#1a1a1a" text-anchor="end" textLength="12.6" lengthAdjust="spacingAndGlyphs">1500</text>
<line x1="359.30" y1="185.10" x2="362.50" y2="185.10" stroke="#222" stroke-width="0.8"/>
<text x="356.20" y="187.20" font-size="5.9" fill="#1a1a1a" text-anchor="end" textLength="12.6" lengthAdjust="spacingAndGlyphs">2000</text>
<line x1="359.30" y1="173.90" x2="362.50" y2="173.90" stroke="#222" stroke-width="0.8"/>
<text x="356.20" y="176.00" font-size="5.9" fill="#1a1a1a" text-anchor="end" textLength="12.6" lengthAdjust="spacingAndGlyphs">2500</text>
<text x="364.00" y="177.00" font-size="4.5" fill="#777" textLength="8.2" lengthAdjust="spacingAndGlyphs">IL-5</text>
<rect x="378.92" y="228.60" width="8.90" height="1.30" fill="#4e6484" stroke="#3b5170" stroke-width="0.5"/>
<line x1="383.37" y1="228.00" x2="383.37" y2="228.60" stroke="#333" stroke-width="0.9"/>
<line x1="381.37" y1="228.00" x2="385.37" y2="228.00" stroke="#333" stroke-width="0.9"/>
<rect x="407.06" y="186.50" width="8.90" height="43.40" fill="#4e6484" stroke="#3b5170" stroke-width="0.5"/>
<line x1="411.51" y1="178.80" x2="411.51" y2="186.50" stroke="#333" stroke-width="0.9"/>
<line x1="409.51" y1="178.80" x2="413.51" y2="178.80" stroke="#333" stroke-width="0.9"/>
<line x1="382.50" y1="176.30" x2="412.80" y2="176.30" stroke="#4a4a4a" stroke-width="1.0"/>
<text x="397.65" y="176.90" font-size="5.2" fill="#555" text-anchor="middle">**</text>
<text transform="translate(336.30,201.05) rotate(-90)" font-size="9.2" fill="#444" text-anchor="middle">pg/ml</text>
<line x1="456.40" y1="171.00" x2="456.40" y2="230.40" stroke="#1a1a1a" stroke-width="0.9"/>
<line x1="455.20" y1="229.90" x2="512.60" y2="229.90" stroke="#333" stroke-width="1.0"/>
<line x1="453.20" y1="229.90" x2="456.40" y2="229.90" stroke="#222" stroke-width="0.8"/>
<text x="450.10" y="232.00" font-size="5.9" fill="#1a1a1a" text-anchor="end" textLength="3.15" lengthAdjust="spacingAndGlyphs">0</text>
<line x1="453.20" y1="211.23" x2="456.40" y2="211.23" stroke="#222" stroke-width="0.8"/>
<text x="450.10" y="213.33" font-size="5.9" fill="#1a1a1a" text-anchor="end" textLength="12.6" lengthAdjust="spacingAndGlyphs">1000</text>
<line x1="453.20" y1="192.57" x2="456.40" y2="192.57" stroke="#222" stroke-width="0.8"/>
<text x="450.10" y="194.67" font-size="5.9" fill="#1a1a1a" text-anchor="end" textLength="12.6" lengthAdjust="spacingAndGlyphs">2000</text>
<line x1="453.20" y1="173.90" x2="456.40" y2="173.90" stroke="#222" stroke-width="0.8"/>
<text x="450.10" y="176.00" font-size="5.9" fill="#1a1a1a" text-anchor="end" textLength="12.6" lengthAdjust="spacingAndGlyphs">3000</text>
<text x="457.90" y="177.00" font-size="4.5" fill="#777" textLength="7.5" lengthAdjust="spacingAndGlyphs">IL-8</text>
<rect x="458.75" y="229.00" width="8.90" height="0.90" fill="#a33446" stroke="#3b5170" stroke-width="0.5"/>
<line x1="463.20" y1="228.00" x2="463.20" y2="229.00" stroke="#333" stroke-width="0.9"/>
<line x1="461.20" y1="228.00" x2="465.20" y2="228.00" stroke="#333" stroke-width="0.9"/>
<rect x="472.82" y="190.20" width="8.90" height="39.70" fill="#4e6484" stroke="#3b5170" stroke-width="0.5"/>
<line x1="477.27" y1="185.40" x2="477.27" y2="190.20" stroke="#333" stroke-width="0.9"/>
<line x1="475.27" y1="185.40" x2="479.27" y2="185.40" stroke="#333" stroke-width="0.9"/>
<rect x="486.89" y="228.80" width="8.90" height="1.10" fill="#a33446" stroke="#3b5170" stroke-width="0.5"/>
<line x1="491.34" y1="227.60" x2="491.34" y2="228.80" stroke="#333" stroke-width="0.9"/>
<line x1="489.34" y1="227.60" x2="493.34" y2="227.60" stroke="#333" stroke-width="0.9"/>
<rect x="500.96" y="184.60" width="8.90" height="45.30" fill="#4e6484" stroke="#3b5170" stroke-width="0.5"/>
<line x1="505.41" y1="183.80" x2="505.41" y2="184.60" stroke="#333" stroke-width="0.9"/>
<line x1="503.41" y1="183.80" x2="507.41" y2="183.80" stroke="#333" stroke-width="0.9"/>
<line x1="476.20" y1="180.20" x2="506.00" y2="180.20" stroke="#4a4a4a" stroke-width="1.0"/>
<text x="491.10" y="179.00" font-size="5.0" fill="#555" text-anchor="middle">ns</text>
<text transform="translate(430.20,201.05) rotate(-90)" font-size="9.2" fill="#444" text-anchor="middle">pg/ml</text>
<text transform="translate(278.80,237.70) rotate(-45)" font-size="5.8" fill="#333" text-anchor="end">PBMC</text>
<text transform="translate(292.90,237.70) rotate(-45)" font-size="5.8" fill="#333" text-anchor="end">PBMC + iNKT</text>
<text transform="translate(307.00,237.70) rotate(-45)" font-size="5.8" fill="#333" text-anchor="end">PBMC</text>
<text transform="translate(321.10,237.70) rotate(-45)" font-size="5.8" fill="#333" text-anchor="end">PBMC + iNKT</text>
<line x1="256.20" y1="271.20" x2="287.70" y2="271.20" stroke="#3a3a3a" stroke-width="0.95"/>
<line x1="292.80" y1="271.20" x2="324.10" y2="271.20" stroke="#3a3a3a" stroke-width="0.95"/>
<text x="272.00" y="279.80" font-size="5.9" fill="#444" text-anchor="middle">ULFP</text>
<text x="308.50" y="279.80" font-size="5.9" fill="#444" text-anchor="middle">LFP</text>
<text transform="translate(372.80,237.70) rotate(-45)" font-size="5.8" fill="#333" text-anchor="end">PBMC</text>
<text transform="translate(386.90,237.70) rotate(-45)" font-size="5.8" fill="#333" text-anchor="end">PBMC + iNKT</text>
<text transform="translate(401.00,237.70) rotate(-45)" font-size="5.8" fill="#333" text-anchor="end">PBMC</text>
<text transform="translate(415.10,237.70) rotate(-45)" font-size="5.8" fill="#333" text-anchor="end">PBMC + iNKT</text>
<line x1="350.20" y1="271.20" x2="381.70" y2="271.20" stroke="#3a3a3a" stroke-width="0.95"/>
<line x1="386.80" y1="271.20" x2="418.10" y2="271.20" stroke="#3a3a3a" stroke-width="0.95"/>
<text x="366.00" y="279.80" font-size="5.9" fill="#444" text-anchor="middle">ULFP</text>
<text x="402.50" y="279.80" font-size="5.9" fill="#444" text-anchor="middle">LFP</text>
<text transform="translate(466.70,237.70) rotate(-45)" font-size="5.8" fill="#333" text-anchor="end">PBMC</text>
<text transform="translate(480.80,237.70) rotate(-45)" font-size="5.8" fill="#333" text-anchor="end">PBMC + iNKT</text>
<text transform="translate(494.90,237.70) rotate(-45)" font-size="5.8" fill="#333" text-anchor="end">PBMC</text>
<text transform="translate(509.00,237.70) rotate(-45)" font-size="5.8" fill="#333" text-anchor="end">PBMC + iNKT</text>
<line x1="444.10" y1="271.20" x2="475.60" y2="271.20" stroke="#3a3a3a" stroke-width="0.95"/>
<line x1="480.70" y1="271.20" x2="512.00" y2="271.20" stroke="#3a3a3a" stroke-width="0.95"/>
<text x="459.90" y="279.80" font-size="5.9" fill="#444" text-anchor="middle">ULFP</text>
<text x="496.40" y="279.80" font-size="5.9" fill="#444" text-anchor="middle">LFP</text>
<rect x="0.00" y="0.00" width="520.00" height="1.00" fill="#4a4a4a"/>
<rect x="0.00" y="1.00" width="520.00" height="0.60" fill="#999"/>
<rect x="0.00" y="0.00" width="1.00" height="466.00" fill="#111"/>
<rect x="1.00" y="0.00" width="0.60" height="466.00" fill="#888"/>
<rect x="518.00" y="0.00" width="1.00" height="466.00" fill="#777"/>
<rect x="519.00" y="0.00" width="1.00" height="466.00" fill="#444"/>
<rect x="0.00" y="464.00" width="520.00" height="1.00" fill="#777"/>
<rect x="0.00" y="465.00" width="520.00" height="1.00" fill="#444"/>
</svg>
</body></html>
